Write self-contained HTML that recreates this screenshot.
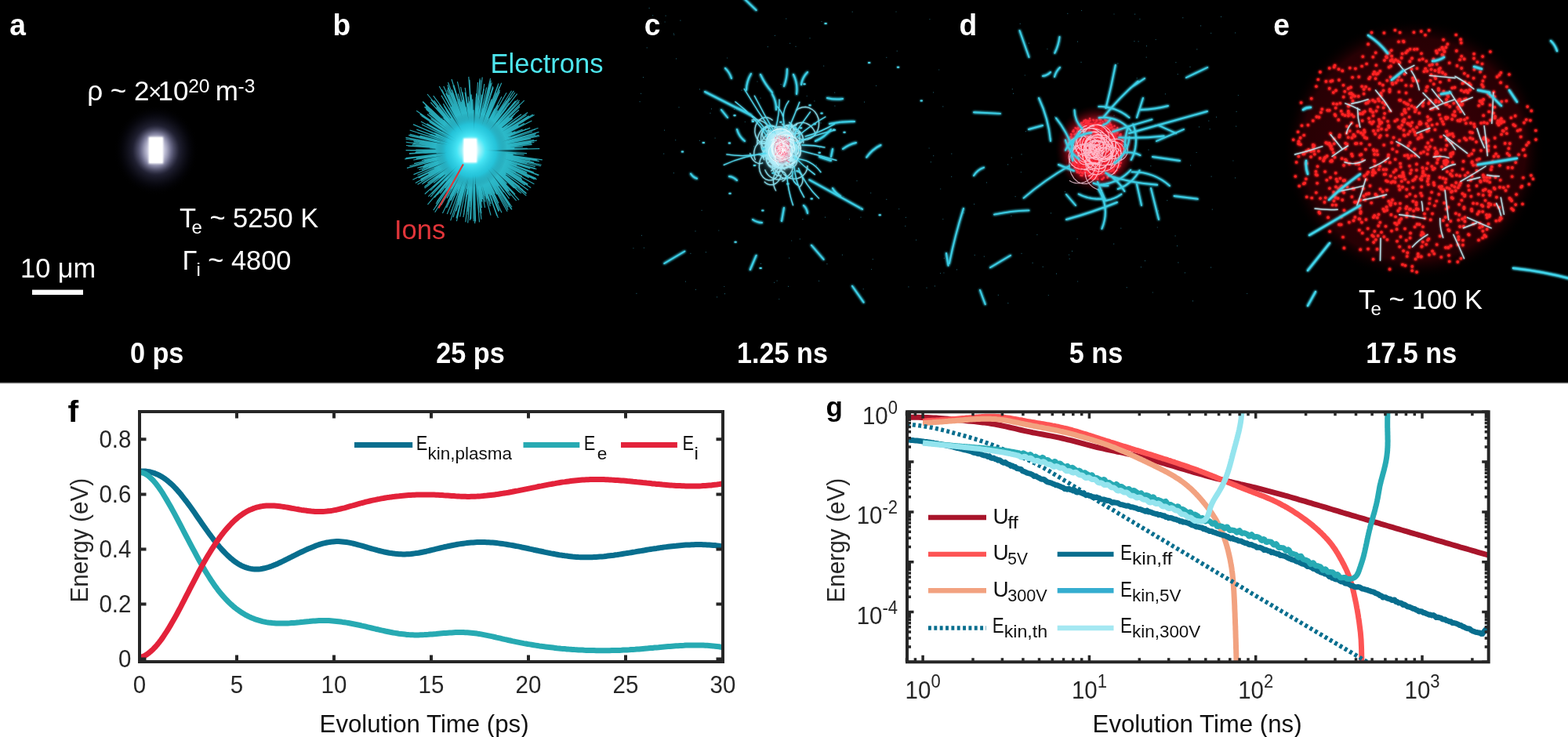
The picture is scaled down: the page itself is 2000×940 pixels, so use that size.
<!DOCTYPE html><html><head><meta charset="utf-8"><title>figure</title>
<style>html,body{margin:0;padding:0;background:#fff;width:2000px;height:940px;overflow:hidden}svg{display:block}text{font-family:'Liberation Sans', Arial, Helvetica, sans-serif}</style></head><body>
<svg width="2000" height="940" viewBox="0 0 2000 940">
<defs><clipPath id="clipg"><rect x="1157" y="525" width="742" height="319.5"/></clipPath></defs>
<rect width="2000" height="940" fill="#fff"/>
<rect x="0" y="0" width="2000" height="488" fill="#000"/>
<rect x="0" y="487.8" width="2000" height="1.2" fill="#858585"/>
<rect x="0" y="489" width="2000" height="1" fill="#e4e4e4"/>
<defs>
<filter id="gl2" filterUnits="userSpaceOnUse" x="0" y="0" width="2000" height="488"><feGaussianBlur in="SourceGraphic" stdDeviation="1.8" result="b"/><feMerge><feMergeNode in="b"/><feMergeNode in="b"/><feMergeNode in="SourceGraphic"/></feMerge></filter>
<filter id="gl1" filterUnits="userSpaceOnUse" x="0" y="0" width="2000" height="488"><feGaussianBlur in="SourceGraphic" stdDeviation="1.2" result="b"/><feMerge><feMergeNode in="b"/><feMergeNode in="SourceGraphic"/></feMerge></filter>
<filter id="bl1" filterUnits="userSpaceOnUse" x="0" y="0" width="2000" height="488"><feGaussianBlur stdDeviation="1"/></filter>
<filter id="bl4" filterUnits="userSpaceOnUse" x="0" y="0" width="2000" height="488"><feGaussianBlur stdDeviation="4"/></filter>
<radialGradient id="ga" cx="0.5" cy="0.5" r="0.5"><stop offset="0" stop-color="#ffffff"/><stop offset="0.2" stop-color="#cacae2"/><stop offset="0.36" stop-color="#76769a" stop-opacity="0.95"/><stop offset="0.55" stop-color="#2c2c44" stop-opacity="0.8"/><stop offset="0.8" stop-color="#0c0c18" stop-opacity="0.5"/><stop offset="1" stop-color="#000" stop-opacity="0"/></radialGradient>
<radialGradient id="gb" cx="0.5" cy="0.5" r="0.5"><stop offset="0" stop-color="#ffffff"/><stop offset="0.18" stop-color="#d0fcff"/><stop offset="0.4" stop-color="#48eafa" stop-opacity="0.95"/><stop offset="0.7" stop-color="#18c0dc" stop-opacity="0.55"/><stop offset="1" stop-color="#0a4050" stop-opacity="0"/></radialGradient>
<radialGradient id="gcc" cx="0.5" cy="0.5" r="0.5"><stop offset="0" stop-color="#fff4f8"/><stop offset="0.45" stop-color="#ffc8d8" stop-opacity="0.95"/><stop offset="0.75" stop-color="#e87898" stop-opacity="0.6"/><stop offset="1" stop-color="#601830" stop-opacity="0"/></radialGradient>
<radialGradient id="gch" cx="0.5" cy="0.5" r="0.5"><stop offset="0" stop-color="#e0f8ff" stop-opacity="0.9"/><stop offset="0.35" stop-color="#80d8ec" stop-opacity="0.5"/><stop offset="0.7" stop-color="#206878" stop-opacity="0.2"/><stop offset="1" stop-color="#000" stop-opacity="0"/></radialGradient>
<radialGradient id="gdc" cx="0.5" cy="0.5" r="0.5"><stop offset="0" stop-color="#ff3048" stop-opacity="1"/><stop offset="0.6" stop-color="#f01830" stop-opacity="0.9"/><stop offset="0.8" stop-color="#a00818" stop-opacity="0.45"/><stop offset="1" stop-color="#300000" stop-opacity="0"/></radialGradient>
<radialGradient id="ge" cx="0.5" cy="0.5" r="0.5"><stop offset="0" stop-color="#400008" stop-opacity="1"/><stop offset="0.85" stop-color="#2c0004" stop-opacity="0.9"/><stop offset="1" stop-color="#000" stop-opacity="0"/></radialGradient>
</defs>
<ellipse cx="199" cy="191.5" rx="54" ry="58" fill="url(#ga)" opacity="0.9"/>
<rect x="186" y="171" width="26" height="41" rx="8" fill="#d8d8f0" opacity="0.55" filter="url(#bl4)"/>
<rect x="189.6" y="174.6" width="18.6" height="34" fill="#fff" filter="url(#bl1)"/>
<rect x="190.6" y="175.6" width="16.6" height="32" fill="#fff"/>
<ellipse cx="603" cy="191.5" rx="72" ry="76" fill="url(#gb)" opacity="0.6"/>
<path d="M610.6,188.9 L676.2,163.1 M608.8,186.0 L660.5,127.2 M601.6,192.0 L540.3,203.9 M600.0,185.6 L566.6,135.5 M611.3,179.5 L634.7,140.9 M604.3,202.0 L606.1,262.0 M589.5,189.8 L517.8,181.2 M598.8,191.8 L522.0,195.9 M608.3,201.0 L636.0,262.5 M614.8,194.0 L652.8,203.0 M602.9,189.3 L569.8,120.1 M598.2,181.5 L572.4,137.4 M592.1,195.2 L551.4,208.0 M595.0,192.9 L533.3,202.4 M613.7,199.5 L671.5,247.3 M613.8,196.0 L651.0,213.0 M614.5,191.0 L656.3,189.1 M598.0,186.4 L549.1,145.1 M609.9,187.1 L646.7,159.5 M614.9,193.9 L690.6,210.2 M596.4,200.9 L568.5,235.6 M610.5,195.1 L681.4,234.8 M618.6,193.7 L685.3,203.9 M600.7,205.5 L593.9,234.2 M597.9,179.6 L575.7,136.3 M605.3,195.5 L626.2,260.3 M597.6,204.4 L569.9,260.8 M598.0,204.8 L575.2,255.7 M599.5,175.6 L585.6,126.2 M607.5,193.8 L677.2,239.5 M616.0,198.7 L652.7,220.9 M608.8,202.1 L639.9,271.3 M613.0,198.7 L662.9,238.2 M597.4,193.9 L534.3,216.5 M608.7,188.7 L669.9,151.7 M597.4,189.2 L547.7,171.8 M605.5,187.3 L627.1,126.4 M598.3,192.8 L535.0,207.1 M604.1,198.9 L604.7,254.5 M606.1,193.0 L645.6,220.5 M612.6,183.5 L649.4,149.5 M607.5,194.5 L646.8,228.2 M598.3,190.1 L522.7,171.1 M603.1,197.2 L593.5,258.9 M605.7,189.8 L662.7,133.4 M594.6,183.5 L543.4,139.3 M605.1,181.7 L610.2,134.7 M602.1,189.1 L565.8,144.2 M601.5,178.3 L593.9,137.0 M598.9,186.8 L542.5,134.3 M599.2,195.6 L567.6,222.6 M591.4,192.1 L522.1,195.6 M608.4,184.4 L629.2,150.8 M596.4,195.2 L526.4,229.2 M592.1,193.3 L536.4,201.6 M609.7,188.6 L678.4,154.0 M607.9,207.9 L618.0,250.4 M600.0,194.3 L547.2,231.7 M598.9,184.7 L572.1,149.1 M601.1,192.9 L554.8,215.0 M600.3,203.2 L583.9,255.5 M606.8,190.3 L657.3,167.8 M598.8,194.1 L533.8,227.1 M603.5,182.0 L601.0,134.7 M593.9,184.0 L567.8,164.7 M603.3,199.4 L597.0,273.7 M603.3,207.4 L600.0,279.4 M604.0,201.4 L604.1,282.2 M603.2,194.9 L583.1,279.2 M609.3,191.8 L658.4,195.1 M604.0,206.4 L603.9,256.9 M610.3,194.6 L666.2,222.3 M614.7,196.4 L673.5,223.2 M594.2,186.2 L564.7,170.1 M599.9,186.0 L552.7,122.2 M611.1,178.0 L639.9,123.2 M599.8,190.9 L535.1,182.5 M609.9,179.9 L631.1,138.8 M599.5,177.6 L583.7,129.3 M610.1,188.7 L653.2,168.5 M612.4,198.5 L659.4,237.6 M602.6,188.1 L571.5,111.4 M595.7,204.1 L569.4,244.1 M593.2,181.1 L563.2,152.4 M611.3,193.2 L646.3,201.6 M613.5,205.1 L636.0,237.3 M609.7,193.9 L663.0,217.0 M606.4,193.6 L671.3,249.6 M608.0,193.5 L674.7,226.7 M603.4,195.3 L594.5,251.3 M593.2,181.1 L549.4,139.0 M608.9,196.7 L640.7,230.7 M607.1,205.2 L618.2,253.9 M598.7,190.5 L522.7,176.7 M618.8,185.2 L666.6,165.0 M596.2,199.9 L549.0,251.2 M594.9,190.8 L528.5,185.9 M600.7,204.6 L582.0,278.3 M600.9,176.4 L590.6,127.1 M604.9,181.4 L612.1,100.2 M598.1,199.8 L557.1,257.7 M617.7,185.2 L639.8,175.1 M606.3,182.6 L625.8,105.9 M613.1,192.9 L685.1,203.6 M602.8,186.5 L587.9,122.9 M611.6,197.8 L648.4,228.6 M595.4,194.1 L541.2,210.5 M597.7,199.9 L567.8,239.9 M617.5,197.9 L637.7,207.5 M599.3,198.2 L570.1,239.3 M602.3,193.9 L556.1,259.9 M593.5,191.7 L530.3,193.2 M595.3,180.0 L567.9,143.7 M592.9,195.3 L539.4,213.6 M604.1,195.1 L605.7,285.0 M598.5,194.9 L532.6,235.3 M603.5,204.4 L601.7,252.3 M609.8,181.4 L646.1,118.3 M607.0,192.6 L665.0,214.9 M600.7,177.4 L583.4,104.2 M608.6,206.4 L617.9,236.8 M607.8,195.6 L657.1,247.8 M595.9,186.1 L535.6,145.7 M616.2,188.3 L682.9,171.0 M600.5,194.8 L564.4,228.7 M590.3,191.2 L555.5,190.6 M614.5,184.9 L652.2,161.5 M599.9,176.8 L590.6,143.7 M607.0,193.1 L666.0,225.1 M599.7,194.6 L564.6,220.1 M600.4,191.9 L517.5,201.6 M608.4,192.6 L671.8,208.8 M607.0,192.2 L656.6,204.0 M599.5,186.0 L545.0,120.0 M598.1,179.4 L568.6,118.9 M611.3,199.4 L641.4,232.1 M589.6,189.1 L560.3,184.4 M615.6,187.5 L686.5,163.3 M600.2,178.6 L589.4,142.2 M609.6,189.9 L687.5,168.4 M603.4,185.6 L597.2,123.3 M612.1,200.0 L645.5,235.0 M597.3,185.2 L560.5,150.9 M591.8,193.4 L555.5,199.1 M614.7,189.4 L677.2,177.0 M599.2,194.3 L548.1,224.4 M598.7,191.8 L521.9,196.2 M607.5,197.0 L630.8,232.9 M607.7,195.4 L645.1,235.9 M617.5,183.4 L679.8,146.1 M611.7,197.7 L667.2,242.4 M613.0,201.8 L649.5,243.7 M610.1,192.7 L681.2,207.1 M606.4,208.0 L614.5,265.1 M611.2,184.4 L648.7,147.2 M604.9,194.0 L635.4,277.9 M603.7,189.2 L596.9,131.5 M603.6,201.4 L600.7,279.6 M600.4,198.8 L571.3,257.0 M601.6,189.1 L565.8,153.1 M600.0,181.0 L571.5,105.0 M589.9,192.6 L556.6,195.1 M609.3,188.9 L651.7,167.8 M606.2,188.9 L647.2,142.1 M608.3,203.1 L628.2,256.7 M610.1,195.6 L669.7,236.3 M603.8,174.8 L603.6,153.3 M613.7,195.9 L683.8,227.5 M604.7,194.0 L625.3,263.2 M608.2,181.4 L628.8,132.1 M590.4,198.1 L547.7,218.8 M598.5,199.7 L555.9,263.0 M605.7,198.9 L618.9,257.5 M612.2,189.4 L683.7,170.8 M597.8,191.1 L556.7,188.2 M607.3,195.1 L662.0,255.2 M609.6,201.6 L640.5,257.5 M611.5,179.7 L652.6,115.7 M610.8,193.1 L689.9,211.8 M602.0,194.8 L563.0,258.7 M598.1,188.6 L538.1,158.7 M611.2,190.8 L651.7,187.2 M599.9,191.5 L517.6,191.6 M608.5,188.9 L641.9,169.5 M616.1,185.2 L651.9,166.5 M613.6,189.9 L651.9,183.5 M599.5,194.1 L555.2,219.4 M593.6,188.3 L532.8,169.5 M592.4,188.8 L521.1,172.2 M611.2,186.2 L647.3,159.7 M606.9,201.8 L621.4,253.3 M607.1,179.1 L622.7,116.6 M606.5,194.3 L647.9,240.3 M616.2,189.4 L681.2,178.5 M613.7,184.3 L665.0,145.8 M605.7,202.8 L613.9,257.7 M609.9,193.7 L687.5,223.4 M599.9,194.9 L553.2,233.4 M600.6,195.9 L561.5,246.7 M598.1,194.4 L551.3,217.3 M619.8,193.0 L668.6,197.5 M606.3,188.1 L655.4,115.9 M608.1,201.8 L626.7,249.0 M599.2,199.3 L575.7,238.1 M607.4,191.4 L688.3,189.6 M615.1,198.5 L651.2,221.0 M594.1,190.8 L518.0,185.5 M608.9,194.4 L655.1,221.4 M597.9,190.0 L552.9,179.0 M598.2,206.5 L583.0,246.2 M603.6,198.9 L600.0,264.0 M609.9,197.4 L646.6,234.2 M595.2,191.9 L529.4,194.5 M601.5,191.5 L525.2,191.9 M599.8,185.9 L579.7,158.7 M616.2,197.5 L669.9,224.2 M603.3,198.8 L598.0,250.2 M596.8,184.6 L539.2,129.5 M600.2,183.1 L571.8,121.2 M606.4,193.0 L666.0,228.9 M606.2,178.4 L617.3,113.3 M610.0,185.8 L663.1,135.6 M603.3,195.8 L591.7,270.8 M604.7,177.3 L607.3,124.1 M600.1,181.3 L575.8,118.0 M592.9,197.1 L565.6,210.9 M617.1,199.2 L665.0,227.4 M612.1,189.8 L661.9,178.9 M609.6,204.6 L624.3,238.7 M601.7,185.6 L586.1,146.5 M604.5,198.1 L611.5,283.4 M611.4,189.7 L682.6,172.6 M606.7,184.9 L632.1,122.6 M606.5,182.4 L624.5,117.3 M594.5,182.4 L539.3,129.8 M613.5,193.7 L655.8,203.6 M598.7,204.2 L575.3,260.7 M616.7,191.2 L685.6,189.7 M591.0,198.6 L536.3,228.6 M598.0,201.6 L581.0,230.3 M600.4,191.3 L548.2,188.6 M595.0,183.8 L553.8,148.6 M597.7,196.4 L544.8,237.8 M604.4,185.6 L609.4,105.0 M598.8,183.8 L573.3,146.1 M615.4,195.9 L686.8,223.8 M598.7,181.3 L563.5,114.2 M597.0,186.3 L549.6,151.2 M615.3,185.1 L657.4,161.2 M600.5,192.4 L524.8,212.9 M593.8,189.8 L517.6,177.2 M590.3,189.5 L553.4,184.2 M606.9,206.9 L613.1,239.8 M608.3,192.6 L669.0,208.2 M618.4,198.7 L648.6,213.8 M614.5,200.0 L671.2,246.3 M603.0,189.5 L566.4,120.0 M594.1,182.2 L562.2,152.0 M609.2,202.5 L636.1,259.3 M602.7,189.0 L579.7,146.1 M613.1,190.0 L671.6,180.7 M608.4,185.2 L650.2,124.8 M596.2,202.6 L575.3,232.3 M611.3,180.8 L637.1,143.0 M606.5,188.1 L638.4,145.5 M606.1,178.8 L617.8,107.0 M596.7,203.4 L570.7,245.9 M606.4,192.0 L665.8,204.3 M601.3,201.0 L581.8,269.3 M602.6,205.5 L595.9,270.0 M596.0,187.0 L544.5,157.7 M588.8,194.6 L543.2,203.7 M593.7,190.4 L526.7,183.3 M598.8,179.6 L570.2,114.6 M595.5,203.6 L565.3,246.5 M601.5,179.4 L587.6,111.0 M601.6,193.2 L555.8,226.1 M614.5,182.6 L653.4,149.5 M595.5,197.1 L538.3,234.8 M610.6,190.4 L655.5,182.9 M601.1,188.2 L556.6,136.6 M612.8,197.0 L673.4,235.1 M604.7,187.2 L617.0,114.0 M611.9,198.3 L652.4,233.1 M602.6,187.7 L577.5,118.4 M602.9,189.2 L584.3,148.5 M612.8,182.0 L655.1,136.2 M603.5,203.3 L600.8,261.6 M604.0,177.9 L604.0,140.2 M601.1,176.3 L589.8,117.4 M606.7,193.9 L664.8,246.6 M617.4,188.4 L687.4,172.2 M607.6,186.2 L627.7,156.2 M610.5,185.8 L661.9,140.3 M606.6,189.7 L673.1,143.5 M604.2,200.0 L606.6,282.4 M600.9,180.0 L584.3,119.5 M609.3,188.3 L667.9,153.2 M602.3,189.0 L569.5,140.9 M605.1,186.2 L620.6,111.5 M613.3,182.8 L662.9,136.0 M605.4,193.7 L650.3,261.7 M601.4,186.7 L560.3,110.0 M591.8,182.0 L545.1,145.8 M605.3,195.3 L621.9,242.7 M609.3,201.4 L633.9,247.9 M600.6,199.1 L578.1,249.9 M610.0,188.0 L669.8,153.6 M602.5,197.8 L582.4,282.2 M610.7,182.2 L656.9,118.0 M606.2,184.3 L628.6,110.1 M610.6,197.1 L634.4,217.2 M599.6,200.4 L564.5,271.9 M601.6,187.0 L574.5,137.0 M595.5,204.3 L552.8,268.1 M609.3,194.0 L652.4,214.3 M608.9,203.0 L636.9,268.8 M609.0,191.2 L652.5,188.6 M590.9,189.3 L548.7,182.1 M618.2,196.1 L676.3,215.1 M606.7,188.0 L659.6,119.7 M595.9,195.1 L532.5,223.6 M601.5,189.2 L553.9,146.7 M596.4,190.1 L517.5,175.4 M603.4,195.2 L590.9,277.0 M606.5,192.3 L680.5,214.9 M594.2,194.9 L546.2,211.5 M600.8,188.8 L561.9,155.7 M611.4,193.2 L673.3,207.8 M610.8,189.2 L682.9,164.9 M619.0,190.0 L652.5,186.5 M608.8,192.2 L691.8,203.9 M601.7,202.9 L586.7,276.5 M595.8,204.5 L576.3,235.5 M609.3,206.5 L633.9,275.2 M598.7,188.1 L547.6,155.4 M598.6,200.2 L554.7,270.8 M591.4,191.5 L523.1,191.8 M597.9,191.1 L520.4,186.2 M601.1,196.4 L580.3,231.3 M606.6,188.9 L668.7,128.1 M606.3,205.8 L614.8,257.4 M610.8,186.8 L658.5,153.7 M608.5,186.2 L633.7,156.4 M588.8,194.9 L528.1,208.6 M616.7,201.6 L659.3,235.4 M604.0,207.8 L603.9,279.0 M605.4,181.7 L614.4,120.6 M605.4,188.3 L633.8,125.3 M607.6,191.0 L677.4,181.5 M598.8,193.2 L553.8,207.5 M602.7,207.5 L596.7,284.4 M601.2,190.0 L552.8,163.5 M601.2,182.7 L577.9,108.9 M610.9,188.0 L675.7,155.2 M604.5,202.6 L605.8,235.0 M604.8,193.5 L636.0,269.9 M595.0,198.2 L541.9,237.8 M604.8,197.9 L614.0,272.2 M618.6,196.0 L682.0,215.4 M606.4,187.0 L635.3,134.1 M598.2,190.2 L522.4,173.2 M594.0,190.3 L518.6,181.5 M600.6,192.1 L527.2,204.0 M613.6,187.8 L663.0,168.5 M594.0,189.9 L527.3,179.5 M591.6,199.7 L551.7,226.1 M602.1,196.2 L570.3,273.0 M600.1,186.6 L553.5,128.1 M592.6,202.0 L553.5,238.1 M613.7,185.1 L671.6,146.5 M607.7,196.6 L642.8,245.1 M595.6,203.1 L575.5,230.6 M615.1,181.8 L656.9,145.4 M603.9,187.2 L602.7,126.4 M607.4,190.0 L662.2,166.7 M600.9,190.5 L522.7,166.0 M591.4,190.0 L535.7,183.4 M594.2,183.3 L549.8,145.9 M606.0,187.3 L623.3,150.8 M601.3,188.3 L549.9,127.1 M595.5,179.5 L575.2,150.6 M595.3,178.4 L578.4,153.0 M610.1,176.5 L637.1,110.8 M617.9,183.4 L681.6,146.4 M609.9,195.0 L652.0,219.9 M600.9,197.5 L573.7,250.8 M604.9,202.3 L611.0,271.4 M601.1,190.8 L528.2,174.5 M610.6,184.4 L662.6,127.9 M602.7,187.1 L578.9,108.5 M606.4,177.7 L611.1,151.1 M607.8,190.1 L648.5,174.8 M590.0,186.3 L563.2,176.3 M610.3,205.3 L631.6,252.2 M597.0,203.3 L562.7,261.8 M591.5,189.8 L527.6,180.9 M608.4,189.1 L661.3,160.0 M606.1,200.5 L615.0,238.0 M605.1,193.3 L644.9,254.9 M601.0,201.3 L588.3,241.8 M614.7,201.3 L646.3,230.4 M614.2,194.1 L659.7,205.6 M601.4,184.8 L584.2,141.2 M598.1,179.1 L577.3,135.3 M588.2,191.4 L530.4,191.0 M607.8,179.0 L628.4,110.8 M600.2,182.3 L571.1,112.2 M597.7,197.3 L562.0,230.1 M618.5,195.8 L682.7,214.7 M605.5,197.2 L626.0,274.7 M605.1,197.6 L612.6,237.3 M609.4,184.3 L649.4,131.3 M602.1,176.5 L597.5,140.9 M611.1,206.4 L626.9,239.9 M596.3,184.5 L542.7,136.3 M602.1,205.7 L596.3,248.1 M609.0,202.0 L633.0,253.0 M617.2,187.0 L660.2,172.3 M607.1,183.3 L635.9,106.5 M600.6,196.6 L556.3,263.1 M595.5,194.7 L538.0,216.7 M596.4,192.5 L532.7,200.8 M601.0,195.2 L557.9,248.4 M605.0,187.5 L625.6,99.8 M609.2,194.9 L657.7,227.3 M604.8,182.1 L609.9,121.7 M608.5,195.6 L661.4,243.8 M592.3,196.3 L527.5,222.6 M599.3,180.2 L579.1,131.7 M601.9,193.5 L548.9,243.1 M600.4,195.2 L561.7,234.7 M616.5,197.5 L659.1,217.9 M618.9,190.1 L678.7,184.4 M612.0,179.6 L646.2,128.6 M618.3,196.8 L648.5,208.1 M608.7,207.1 L623.8,256.6 M616.8,197.0 L672.4,220.9 M591.5,190.4 L541.6,185.8 M614.8,195.7 L663.7,214.7 M610.0,198.9 L650.1,248.8 M608.8,190.2 L683.2,169.5 M591.7,195.9 L541.5,213.8 M605.4,188.4 L637.5,114.7 M612.4,188.5 L651.2,174.7 M597.7,192.8 L537.8,204.8 M611.1,180.5 L642.3,132.0 M600.9,187.4 L560.3,133.4 M604.3,188.3 L610.2,120.5 M589.0,194.5 L541.3,204.1 M599.6,205.0 L574.7,281.4 M594.8,195.0 L547.5,212.9 M597.1,206.3 L569.5,265.1 M600.3,182.6 L571.6,113.3 M593.1,195.6 L555.0,209.9 M594.5,196.3 L569.4,209.2 M589.7,187.8 L534.9,173.8 M594.6,187.4 L554.1,169.6 M591.3,194.1 L542.5,204.3 M606.1,189.7 L649.6,152.1 M617.1,183.4 L674.6,147.8 M601.6,194.4 L554.2,252.1 M605.7,186.0 L629.3,111.3 M610.7,199.6 L647.4,244.4 M603.2,179.5 L597.8,97.9 M594.4,195.9 L553.9,214.4 M612.5,205.5 L648.3,264.4 M604.9,188.2 L625.8,107.2 M605.0,197.0 L615.2,253.1 M617.8,189.4 L684.8,179.1 M594.4,192.1 L542.6,195.1 M601.1,193.6 L541.2,238.6 M589.0,195.6 L548.3,206.6 M592.6,200.7 L564.5,223.1 M593.6,179.9 L549.3,130.5 M600.6,193.2 L529.8,227.4 M603.3,188.4 L590.2,127.7 M597.6,193.6 L535.7,213.7 M599.7,192.1 L544.7,199.4 M608.4,193.6 L681.8,228.7 M607.5,178.8 L620.1,132.9 M609.5,177.0 L635.4,109.1 M611.8,198.1 L655.4,234.9 M608.0,196.5 L649.4,248.3 M594.5,193.7 L536.4,206.9 M602.8,188.5 L571.0,108.8 M614.5,195.2 L659.2,211.1 M610.8,187.7 L661.4,158.8 M613.5,186.4 L668.8,157.2 M609.6,200.2 L653.0,267.4 M603.2,207.1 L599.5,281.0 M613.0,193.3 L679.0,206.6 M606.8,203.5 L613.8,232.8 M611.6,192.8 L687.8,205.6 M608.6,196.9 L658.6,256.0 M602.9,195.1 L583.7,258.1 M610.8,197.2 L668.9,245.3 M605.8,184.3 L626.3,102.6 M612.4,195.3 L673.3,222.8 M607.3,187.3 L645.9,138.0 M599.8,195.3 L541.8,247.5 M600.2,191.4 L555.4,189.8 M606.5,192.8 L657.8,220.0 M605.7,194.0 L636.6,240.3 M596.8,203.9 L575.5,240.8 M601.0,191.0 L540.5,181.3 M604.4,187.3 L607.8,146.9 M608.5,194.2 L643.2,215.3 M597.3,189.0 L549.8,171.4 M602.5,205.5 L594.0,282.1 M610.9,205.0 L621.5,225.7 M602.7,181.7 L593.2,111.8 M600.4,181.3 L576.6,114.4 M600.6,191.3 L550.9,188.9 M589.2,191.5 L539.6,191.4 M606.5,182.5 L627.4,105.4 M615.8,192.2 L672.0,195.6 M610.4,196.2 L673.7,242.5 M602.2,184.5 L588.4,129.6 M594.3,199.3 L560.3,226.5 M604.3,207.6 L605.2,255.8 M594.0,181.7 L562.8,151.1 M599.6,189.1 L536.9,155.0 M606.3,195.1 L651.9,266.5 M605.2,186.7 L613.9,152.1 M618.9,188.3 L652.5,181.1 M616.1,199.3 L644.9,217.8 M602.8,202.7 L593.8,283.2 M590.4,184.1 L551.4,162.9 M607.6,197.7 L638.2,250.2 M602.3,187.0 L576.9,121.2 M591.2,193.4 L530.8,202.3 M597.7,200.9 L568.6,244.4 M590.2,198.0 L556.3,214.0 M593.6,188.7 L535.9,173.0 M597.1,196.0 L539.9,233.2 M613.8,180.0 L657.6,128.7 M606.6,176.0 L615.6,122.5 M602.9,187.8 L576.0,101.0 M599.0,205.3 L574.4,273.5 M619.7,190.4 L666.9,187.2 M603.7,194.4 L595.8,269.8 M595.0,181.2 L574.4,157.9 M608.2,182.2 L637.3,117.0 M611.5,187.4 L655.8,163.1 M599.2,178.8 L578.2,124.1 M589.3,190.2 L525.5,184.6 M603.3,199.7 L600.1,239.6 M599.8,197.7 L570.9,239.6 M614.2,202.6 L654.3,246.1 M602.3,196.0 L583.2,247.8 M606.0,194.9 L648.1,267.6 M605.1,182.6 L615.2,98.5 M614.3,200.8 L659.8,241.9 M609.1,196.2 L655.8,239.9 M596.3,193.9 L532.4,214.3 M600.0,196.5 L559.3,246.9 M602.9,198.1 L595.6,241.1 M605.6,200.3 L615.4,254.0 M596.8,180.6 L565.3,132.4 M591.4,186.1 L527.0,158.6 M599.8,186.8 L575.3,159.2 M596.7,184.6 L539.2,130.0 M619.4,195.4 L658.8,205.3 M605.1,180.4 L612.8,102.3 M595.2,178.6 L582.4,159.9 M602.0,187.0 L584.6,146.8 M600.3,187.9 L559.2,148.8 M602.5,193.9 L563.0,257.2 M601.1,194.2 L552.6,239.2 M602.0,177.1 L597.1,140.5 M613.5,186.2 L650.3,165.6 M607.6,183.0 L626.6,138.4 M618.6,186.9 L679.2,168.0 M607.9,191.0 L677.8,182.9 M610.9,193.6 L684.4,215.7 M607.4,192.3 L684.9,210.5 M596.4,199.3 L577.2,219.0 M602.3,196.0 L584.6,241.3 M595.8,189.6 L539.8,176.8 M613.6,194.0 L682.9,212.4 M617.3,193.9 L676.1,204.4 M611.3,187.2 L669.2,153.2 M612.4,193.7 L669.7,208.3 M613.0,198.1 L671.2,240.8 M615.6,194.5 L673.2,209.6 M615.5,185.9 L645.9,170.9 M603.5,186.1 L598.5,129.2 M608.7,195.7 L645.6,228.4 M609.6,190.1 L648.2,180.7 M612.6,196.3 L647.0,215.5 M617.7,183.6 L668.1,154.8 M601.8,184.7 L581.1,119.9 M599.6,194.0 L529.9,233.6 M599.4,187.7 L555.2,151.3 M606.2,192.3 L680.9,219.8 M611.1,190.6 L681.4,181.5 M601.2,193.7 L541.6,240.1 M602.1,198.5 L584.8,261.6 M609.8,190.8 L660.9,184.2 M607.2,196.3 L653.0,264.2 M600.2,204.0 L578.1,277.1 M598.0,186.9 L548.4,148.6 M594.5,188.1 L531.3,165.1 M608.9,203.9 L624.7,243.5 M608.7,192.7 L662.1,206.4 M608.4,192.9 L668.6,212.8 M601.9,205.3 L591.6,274.4 M591.3,183.0 L558.9,161.4 M599.4,186.6 L565.5,149.8 M596.8,186.8 L537.6,147.8 M610.6,194.3 L671.7,219.9 M607.2,176.5 L615.4,137.7 M603.3,179.6 L598.9,101.8 M607.5,188.7 L640.5,162.7 M605.5,204.8 L609.2,236.2 M611.8,196.5 L673.0,236.1 M615.3,201.9 L662.7,245.4 M596.9,189.0 L565.4,178.0 M604.3,194.3 L614.0,279.8 M608.7,197.4 L651.1,249.9 M609.6,178.6 L631.5,128.7 M607.2,198.1 L631.2,247.1 M594.6,197.0 L537.0,230.7 M610.2,180.7 L641.6,126.0 M594.2,201.6 L546.4,250.7 M600.3,195.6 L568.6,230.7 M615.0,191.1 L672.5,189.3 M597.2,180.0 L562.9,121.6 M609.2,196.2 L658.5,240.3 M611.9,197.9 L667.1,242.7 M619.0,195.5 L666.7,208.1 M601.2,193.5 L565.2,219.2 M611.0,204.2 L643.8,263.9 M598.4,177.3 L570.8,108.2 M600.6,184.2 L565.8,110.1 M604.7,177.8 L607.7,119.2 M599.6,197.9 L572.5,236.5 M599.9,189.8 L555.7,171.8 M606.3,189.6 L653.6,150.9 M599.6,193.9 L546.1,223.4 M607.6,201.2 L624.9,247.1 M606.1,202.2 L618.6,264.8 M595.7,201.6 L555.8,249.8 M603.6,180.0 L601.2,120.4 M605.9,189.5 L662.3,130.3 M601.0,174.9 L594.1,136.3 M603.1,197.4 L595.2,251.0 M603.2,205.8 L600.7,251.1 M609.2,203.0 L631.6,252.6 M598.6,197.2 L550.6,247.1 M607.1,184.1 L639.7,105.7 M594.3,184.8 L531.2,141.3 M614.8,187.2 L671.0,164.9 M614.1,189.3 L688.2,173.5 M601.5,193.4 L558.0,226.5 M602.5,193.6 L557.9,256.4 M611.0,194.8 L684.6,229.0 M612.0,201.5 L641.9,239.0 M601.8,200.0 L587.3,256.2 M612.7,203.3 L649.6,253.4 M603.6,198.8 L600.1,256.9 M599.7,199.3 L570.0,252.9 M592.4,199.8 L545.3,233.3 M590.6,198.6 L546.4,221.9 M599.5,196.9 L545.5,260.9 M595.7,194.7 L547.0,213.4 M612.6,201.3 L638.6,230.8 M601.3,202.5 L583.2,277.0 M606.5,198.9 L622.8,247.7 M608.8,191.4 L673.2,189.9 M612.7,196.3 L667.4,226.7 M595.5,178.8 L568.6,139.0 M595.5,181.3 L577.5,159.5 M601.1,175.3 L596.3,149.0 M609.1,191.4 L647.1,190.4 M614.9,189.1 L673.8,176.3 M601.5,174.8 L593.1,117.7 M612.7,184.0 L654.9,147.9 M606.4,198.0 L621.8,240.4 M603.1,194.2 L583.8,252.9 M605.1,188.7 L633.3,118.5 M593.5,182.2 L541.4,136.3 M600.8,192.3 L522.4,211.8 M619.0,189.9 L661.3,185.3 M614.0,184.9 L665.8,150.6 M606.2,193.2 L645.1,223.0 M598.0,194.2 L542.4,219.3 M598.9,192.9 L519.0,214.4 M597.7,183.9 L565.0,144.5 M604.7,197.0 L611.3,246.9 M588.8,193.8 L531.8,202.5 M607.6,191.9 L654.6,197.4 M593.4,188.9 L539.2,175.5 M591.9,184.5 L563.8,168.3 M608.6,193.7 L674.4,225.2 M606.7,196.5 L647.1,269.8 M604.1,199.9 L605.3,268.0 M593.4,182.7 L547.0,144.2 M599.0,192.2 L516.3,202.9" stroke="#38e2f4" stroke-width="1.15" stroke-opacity="0.72" fill="none"/>
<ellipse cx="601" cy="191.5" rx="46" ry="48" fill="url(#gb)" opacity="0.9"/>
<rect x="591" y="176.4" width="17.4" height="31.1" fill="#fff" filter="url(#bl1)"/>
<rect x="592" y="177.4" width="15.4" height="29.1" fill="#fff"/>
<path d="M590.9,209.5 L559.4,265.5" stroke="#e03535" stroke-width="2" fill="none"/>
<ellipse cx="997" cy="190" rx="46" ry="50" fill="url(#gch)"/>
<g filter="url(#gl1)"><path d="M968.4,184.0 L970.7,183.2 L973.0,182.8 L975.5,182.7 L977.9,182.9 L980.2,183.6 L982.4,184.5 L984.5,185.8 L986.4,187.4 L988.1,189.2 L989.5,191.3 L990.6,193.6 L991.4,196.0 L991.8,198.5 L992.0,201.0 L991.7,203.5 L991.2,206.0 L990.3,208.4 L989.1,210.6 M1009.3,172.3 L1009.8,173.5 L1010.1,174.9 L1010.3,176.3 L1010.3,177.7 L1010.2,179.1 L1009.9,180.5 L1009.5,181.8 L1009.0,183.0 L1008.3,184.1 L1007.5,185.0 L1006.6,185.8 L1005.6,186.4 L1004.6,186.8 L1003.5,187.0 L1002.5,187.1 L1001.4,186.9 L1000.4,186.5 L999.4,185.9 M981.8,195.5 L981.7,193.9 L981.9,192.4 L982.1,190.9 L982.6,189.4 L983.2,188.0 L983.9,186.7 L984.8,185.4 L985.8,184.3 L986.9,183.3 L988.1,182.5 L989.4,181.8 L990.8,181.2 L992.2,180.8 L993.7,180.6 L995.1,180.6 L996.6,180.7 L998.0,181.0 L999.4,181.5 M992.8,178.9 L994.1,178.7 L995.3,178.7 L996.6,179.0 L997.8,179.7 L998.8,180.6 L999.6,181.7 L1000.1,183.0 L1000.4,184.3 L1000.4,185.8 L1000.2,187.1 L999.6,188.4 L998.9,189.6 L997.9,190.5 L996.7,191.2 L995.5,191.5 L994.2,191.6 L992.9,191.4 L991.7,190.8 M983.0,185.0 L983.5,183.7 L984.1,182.5 L984.9,181.5 L985.9,180.5 L987.0,179.8 L988.2,179.2 L989.5,178.8 L990.8,178.6 L992.2,178.7 L993.5,178.9 L994.7,179.4 L995.9,180.1 L997.0,180.9 L997.9,181.9 L998.6,183.0 L999.2,184.3 L999.6,185.6 L999.7,187.0 M1003.2,194.8 L1001.4,194.6 L999.7,193.8 L998.2,192.5 L997.1,190.8 L996.5,188.8 L996.3,186.7 L996.7,184.6 L997.5,182.7 L998.8,181.1 L1000.4,180.0 L1002.1,179.4 L1004.0,179.4 L1005.8,180.0 L1007.4,181.1 L1008.6,182.7 L1009.5,184.6 L1009.8,186.6 L1009.7,188.7 M982.6,181.6 L982.8,181.2 L983.0,180.9 L983.3,180.5 L983.6,180.2 L984.0,180.0 L984.4,179.7 L984.8,179.5 L985.3,179.3 L985.8,179.1 L986.3,179.0 L986.8,178.9 L987.4,178.8 L987.9,178.7 L988.5,178.7 L989.0,178.8 L989.5,178.9 L990.1,179.0 L990.6,179.1 M998.6,191.2 L998.5,191.8 L998.3,192.4 L998.0,193.0 L997.7,193.5 L997.4,194.0 L997.0,194.4 L996.6,194.8 L996.1,195.1 L995.6,195.4 L995.1,195.6 L994.6,195.8 L994.0,195.9 L993.5,196.0 L992.9,196.0 L992.4,195.9 L991.8,195.7 L991.3,195.5 L990.8,195.3 M1005.0,212.2 L1002.1,213.5 L999.0,214.2 L995.9,214.2 L992.8,213.6 L989.9,212.4 L987.1,210.6 L984.6,208.3 L982.5,205.5 L980.8,202.3 L979.6,198.8 L978.9,195.2 L978.6,191.4 L978.9,187.6 L979.8,184.0 L981.1,180.5 L982.8,177.4 L985.0,174.7 L987.5,172.4 M992.9,199.6 L993.9,198.2 L995.3,197.0 L997.1,196.2 L999.0,195.7 L1001.0,195.6 L1002.9,196.0 L1004.7,196.7 L1006.2,197.8 L1007.4,199.1 L1008.1,200.7 L1008.4,202.3 L1008.2,204.0 L1007.5,205.5 L1006.4,206.9 L1004.9,208.0 L1003.1,208.8 L1001.2,209.2 L999.2,209.1 M989.8,243.5 L988.8,241.6 L987.9,239.5 L987.2,237.4 L986.7,235.1 L986.5,232.8 L986.4,230.5 L986.6,228.2 L986.9,226.0 L987.5,223.8 L988.2,221.6 L989.2,219.7 L990.3,217.8 L991.6,216.1 L993.0,214.6 L994.6,213.4 L996.2,212.3 L998.0,211.5 L999.8,211.0 M992.0,190.8 L990.9,190.6 L989.9,190.1 L988.9,189.5 L988.0,188.6 L987.2,187.6 L986.5,186.4 L985.9,185.1 L985.5,183.7 L985.3,182.3 L985.2,180.8 L985.2,179.3 L985.5,177.8 L985.8,176.4 L986.3,175.1 L987.0,173.9 L987.8,172.8 L988.6,171.9 L989.6,171.2 M987.2,163.9 L989.4,162.6 L991.7,161.9 L994.1,161.6 L996.4,161.9 L998.7,162.8 L1000.9,164.1 L1002.8,165.8 L1004.5,168.0 L1005.9,170.5 L1007.0,173.3 L1007.7,176.3 L1007.9,179.3 L1007.8,182.4 L1007.3,185.5 L1006.4,188.3 L1005.1,191.0 L1003.5,193.3 L1001.7,195.2 M991.2,201.1 L992.4,200.6 L993.6,200.2 L994.9,200.0 L996.2,199.9 L997.5,200.1 L998.7,200.4 L999.9,200.8 L1001.1,201.5 L1002.2,202.3 L1003.3,203.2 L1004.2,204.3 L1005.1,205.5 L1005.9,206.8 L1006.5,208.2 L1007.0,209.7 L1007.4,211.3 L1007.7,212.9 L1007.8,214.5 M1007.1,182.3 L1008.1,183.2 L1008.8,184.2 L1009.5,185.3 L1010.0,186.4 L1010.3,187.6 L1010.4,188.7 L1010.4,189.9 L1010.2,191.1 L1009.8,192.2 L1009.2,193.3 L1008.5,194.4 L1007.7,195.3 L1006.7,196.2 L1005.6,197.0 L1004.4,197.6 L1003.1,198.2 L1001.8,198.6 L1000.4,198.9 M1017.0,199.9 L1015.0,202.6 L1012.5,204.6 L1009.7,205.7 L1006.8,205.9 L1003.9,205.2 L1001.3,203.5 L999.0,201.1 L997.3,198.0 L996.1,194.5 L995.7,190.7 L996.0,186.9 L997.0,183.3 L998.6,180.1 L1000.7,177.6 L1003.3,175.8 L1006.1,174.8 L1009.0,174.8 L1011.9,175.7 M1029.9,211.3 L1029.7,214.3 L1028.9,217.3 L1027.6,220.0 L1025.8,222.4 L1023.5,224.5 L1020.9,226.2 L1018.0,227.3 L1015.0,228.0 L1011.9,228.1 L1008.8,227.6 L1005.9,226.6 L1003.2,225.1 L1000.8,223.2 L998.8,220.8 L997.3,218.2 L996.4,215.3 L996.0,212.3 L996.1,209.3 M1002.0,191.1 L1001.2,191.6 L1000.3,192.0 L999.5,192.2 L998.6,192.3 L997.7,192.2 L996.8,192.0 L996.0,191.6 L995.2,191.1 L994.4,190.5 L993.7,189.7 L993.1,188.8 L992.6,187.8 L992.1,186.8 L991.8,185.6 L991.5,184.4 L991.4,183.2 L991.4,182.0 L991.4,180.8 M1005.1,171.2 L1006.1,168.5 L1007.5,165.9 L1009.0,163.6 L1010.8,161.5 L1012.9,159.7 L1015.1,158.3 L1017.4,157.3 L1019.8,156.6 L1022.3,156.3 L1024.8,156.4 L1027.3,157.0 L1029.6,157.9 L1031.9,159.1 L1034.0,160.8 L1035.9,162.7 L1037.6,165.0 L1039.0,167.5 L1040.1,170.2 M1016.7,156.7 L1016.7,157.4 L1016.5,158.1 L1016.3,158.7 L1015.9,159.3 L1015.4,159.8 L1014.9,160.2 L1014.2,160.6 L1013.5,160.8 L1012.8,161.0 L1012.0,161.0 L1011.3,160.9 L1010.6,160.7 L1009.9,160.4 L1009.3,160.0 L1008.8,159.5 L1008.4,159.0 L1008.1,158.3 L1007.9,157.7 M993.9,193.0 L993.4,192.1 L993.0,191.1 L992.7,190.2 L992.5,189.1 L992.4,188.1 L992.5,187.1 L992.6,186.1 L992.8,185.1 L993.1,184.1 L993.5,183.1 L994.0,182.3 L994.6,181.5 L995.3,180.7 L996.0,180.1 L996.8,179.5 L997.7,179.0 L998.6,178.7 L999.5,178.4 M985.0,186.0 L985.9,184.9 L987.0,183.9 L988.2,183.2 L989.5,182.6 L990.9,182.2 L992.3,182.1 L993.8,182.2 L995.2,182.5 L996.6,183.0 L997.8,183.8 L998.9,184.7 L999.9,185.8 L1000.6,187.0 L1001.2,188.3 L1001.6,189.7 L1001.7,191.1 L1001.6,192.5 L1001.2,193.9 M999.7,190.0 L999.9,191.8 L999.9,193.7 L999.8,195.6 L999.5,197.4 L999.1,199.2 L998.5,200.8 L997.7,202.4 L996.9,203.9 L995.9,205.2 L994.8,206.3 L993.6,207.2 L992.4,207.9 L991.1,208.4 L989.7,208.7 L988.4,208.8 L987.0,208.6 L985.7,208.3 L984.4,207.7 M1003.5,202.5 L998.4,203.2 L993.2,202.4 L988.5,200.4 L984.5,197.1 L981.6,193.0 L979.9,188.1 L979.6,183.1 L980.7,178.1 L983.2,173.6 L986.8,169.9 L991.2,167.4 L996.2,166.1 L1001.4,166.2 L1006.3,167.7 L1010.7,170.4 L1014.2,174.2 L1016.4,178.8 L1017.3,183.8 M983.4,218.3 L984.0,217.5 L984.8,216.7 L985.6,216.0 L986.5,215.4 L987.5,214.9 L988.5,214.4 L989.6,214.1 L990.7,213.8 L991.9,213.6 L993.0,213.5 L994.2,213.6 L995.3,213.7 L996.4,213.9 L997.5,214.3 L998.6,214.7 L999.6,215.2 L1000.5,215.8 L1001.4,216.4 M981.1,177.0 L982.4,173.2 L984.3,169.9 L986.7,167.3 L989.4,165.5 L992.3,164.7 L995.2,164.8 L998.1,165.8 L1000.8,167.7 L1003.0,170.5 L1004.8,173.9 L1006.0,177.7 L1006.6,181.9 L1006.5,186.1 L1005.7,190.2 L1004.3,193.9 L1002.4,197.1 L1000.0,199.6 L997.3,201.3 M983.6,174.6 L984.6,176.7 L985.3,178.9 L985.7,181.3 L985.9,183.7 L985.7,186.2 L985.3,188.5 L984.6,190.8 L983.7,192.9 L982.5,194.7 L981.1,196.3 L979.6,197.5 L977.9,198.4 L976.2,199.0 L974.4,199.1 L972.6,198.8 L970.8,198.2 L969.2,197.2 L967.7,195.9 M998.2,167.8 L1002.1,169.0 L1005.7,170.9 L1008.6,173.4 L1010.8,176.5 L1012.0,179.8 L1012.3,183.3 L1011.6,186.8 L1009.9,190.0 L1007.4,192.9 L1004.2,195.2 L1000.4,196.8 L996.3,197.6 L992.1,197.6 L987.9,196.9 L984.1,195.3 L980.8,193.1 L978.3,190.3 L976.5,187.1 M990.1,220.5 L989.5,219.2 L988.9,217.9 L988.5,216.6 L988.3,215.2 L988.1,213.7 L988.2,212.3 L988.3,210.9 L988.6,209.5 L989.0,208.1 L989.5,206.8 L990.2,205.6 L991.0,204.5 L991.9,203.4 L992.8,202.6 L993.9,201.8 L995.0,201.2 L996.2,200.7 L997.4,200.3 M1002.7,185.6 L1003.5,186.0 L1004.3,186.6 L1005.0,187.3 L1005.6,188.1 L1006.1,188.9 L1006.5,189.9 L1006.9,190.9 L1007.1,191.9 L1007.2,193.0 L1007.2,194.1 L1007.1,195.1 L1006.9,196.2 L1006.6,197.2 L1006.2,198.2 L1005.7,199.1 L1005.2,199.9 L1004.5,200.6 L1003.8,201.2 M1001.6,193.3 L1002.4,194.0 L1003.0,194.9 L1003.3,195.9 L1003.2,197.0 L1002.9,197.9 L1002.3,198.8 L1001.4,199.6 L1000.3,200.1 L999.2,200.4 L997.9,200.5 L996.7,200.3 L995.6,199.8 L994.6,199.2 L993.9,198.4 L993.4,197.4 L993.2,196.4 L993.4,195.4 L993.8,194.4 M994.1,197.2 L991.9,196.3 L990.0,195.1 L988.2,193.6 L986.7,191.9 L985.5,190.0 L984.6,187.9 L984.0,185.8 L983.7,183.5 L983.8,181.3 L984.3,179.1 L985.0,177.0 L986.1,175.0 L987.5,173.2 L989.2,171.7 L991.0,170.3 L993.1,169.3 L995.3,168.5 L997.6,168.1 M966.0,185.1 L965.8,181.9 L966.0,178.6 L966.6,175.4 L967.5,172.4 L968.8,169.6 L970.3,167.0 L972.2,164.8 L974.2,163.0 L976.5,161.6 L978.9,160.6 L981.3,160.1 L983.8,160.1 L986.3,160.6 L988.7,161.5 L990.9,162.9 L993.0,164.7 L994.9,166.9 L996.4,169.4 M1009.8,200.8 L1011.0,204.0 L1011.7,207.4 L1011.8,210.9 L1011.3,214.4 L1010.1,217.7 L1008.5,220.8 L1006.3,223.4 L1003.6,225.6 L1000.7,227.3 L997.5,228.4 L994.1,228.9 L990.7,228.8 L987.4,228.0 L984.3,226.7 L981.5,224.7 L979.0,222.3 L977.1,219.4 L975.6,216.3 M997.7,173.2 L996.6,175.7 L994.6,177.8 L991.9,179.5 L988.7,180.6 L985.3,181.0 L981.9,180.7 L978.7,179.7 L976.0,178.0 L973.9,175.9 L972.6,173.4 L972.3,170.8 L972.9,168.1 L974.3,165.7 L976.6,163.7 L979.4,162.2 L982.7,161.3 L986.1,161.2 L989.5,161.7 M998.8,187.1 L999.1,188.4 L999.2,189.8 L999.0,191.2 L998.6,192.5 L997.9,193.6 L997.1,194.6 L996.1,195.2 L995.0,195.6 L993.9,195.7 L992.7,195.5 L991.7,195.0 L990.8,194.2 L990.0,193.1 L989.4,191.9 L989.1,190.6 L989.0,189.2 L989.2,187.8 L989.7,186.5 M1019.3,193.4 L1018.2,194.9 L1016.8,196.3 L1015.2,197.5 L1013.5,198.6 L1011.6,199.5 L1009.6,200.3 L1007.5,200.8 L1005.3,201.1 L1003.1,201.2 L1000.9,201.1 L998.7,200.8 L996.6,200.3 L994.6,199.6 L992.7,198.6 L990.9,197.6 L989.4,196.3 L988.0,194.9 L986.9,193.4 M986.4,177.0 L987.6,175.3 L989.0,173.9 L990.7,172.8 L992.6,172.1 L994.5,171.8 L996.5,172.0 L998.4,172.6 L1000.1,173.6 L1001.7,174.9 L1002.9,176.5 L1003.8,178.4 L1004.4,180.5 L1004.6,182.6 L1004.3,184.7 L1003.7,186.7 L1002.7,188.6 L1001.4,190.2 L999.8,191.5 M1001.4,160.4 L1004.8,160.6 L1008.1,161.3 L1011.1,162.5 L1013.9,164.1 L1016.2,166.1 L1018.0,168.4 L1019.3,170.9 L1020.0,173.6 L1020.1,176.4 L1019.6,179.1 L1018.5,181.7 L1016.8,184.0 L1014.6,186.1 L1011.9,187.9 L1008.9,189.2 L1005.7,190.0 L1002.4,190.4 L999.0,190.2 M987.5,177.7 L984.8,180.7 L981.6,182.7 L978.0,183.6 L974.4,183.4 L970.9,182.1 L967.8,179.7 L965.3,176.5 L963.7,172.6 L962.8,168.3 L963.0,163.9 L964.0,159.7 L966.0,155.9 L968.6,152.9 L971.8,150.8 L975.4,149.8 L979.0,149.9 L982.5,151.2 L985.6,153.5 M1015.2,140.9 L1018.9,138.3 L1023.1,136.8 L1027.5,136.5 L1031.8,137.4 L1035.7,139.4 L1039.2,142.4 L1041.9,146.3 L1043.8,150.9 L1044.6,155.8 L1044.4,160.8 L1043.2,165.6 L1041.0,169.9 L1038.0,173.5 L1034.4,176.2 L1030.2,177.8 L1025.9,178.3 L1021.6,177.5 L1017.5,175.6 M1003.3,182.2 L1001.1,181.0 L999.3,179.2 L997.8,176.8 L996.9,174.0 L996.6,171.1 L996.9,168.1 L997.7,165.3 L999.1,162.9 L1000.9,161.0 L1003.1,159.8 L1005.4,159.3 L1007.7,159.6 L1009.8,160.7 L1011.7,162.5 L1013.2,164.8 L1014.2,167.5 L1014.6,170.5 L1014.3,173.5 M1014.5,196.0 L1015.6,197.7 L1016.5,199.7 L1016.9,201.9 L1017.0,204.2 L1016.7,206.4 L1016.0,208.5 L1015.0,210.3 L1013.7,211.9 L1012.1,213.0 L1010.4,213.6 L1008.7,213.8 L1006.9,213.5 L1005.3,212.7 L1003.8,211.4 L1002.6,209.8 L1001.7,207.8 L1001.1,205.7 L1000.9,203.4 M974.1,201.6 L974.3,200.6 L974.6,199.7 L975.1,198.8 L975.7,197.9 L976.5,197.2 L977.4,196.4 L978.3,195.8 L979.4,195.3 L980.5,194.8 L981.7,194.5 L983.0,194.2 L984.3,194.1 L985.6,194.1 L986.9,194.2 L988.1,194.4 L989.4,194.7 L990.5,195.1 L991.6,195.6 M1015.0,218.0 L1016.3,218.2 L1017.6,218.6 L1018.9,219.3 L1020.0,220.2 L1021.1,221.2 L1022.0,222.4 L1022.7,223.8 L1023.3,225.3 L1023.7,226.8 L1023.9,228.4 L1023.9,230.0 L1023.7,231.6 L1023.3,233.2 L1022.7,234.6 L1022.0,236.0 L1021.1,237.2 L1020.1,238.3 L1018.9,239.1 M996.1,183.3 L997.6,182.7 L999.1,182.5 L1000.7,182.7 L1002.1,183.4 L1003.5,184.4 L1004.6,185.8 L1005.4,187.4 L1005.9,189.2 L1006.0,191.1 L1005.9,193.0 L1005.3,194.8 L1004.5,196.5 L1003.4,197.8 L1002.1,198.8 L1000.6,199.5 L999.0,199.7 L997.5,199.5 L996.0,198.9 M985.2,214.7 L983.2,213.5 L981.3,212.0 L979.8,210.2 L978.5,208.0 L977.6,205.6 L977.0,203.0 L976.8,200.4 L977.0,197.7 L977.6,195.2 L978.5,192.8 L979.8,190.6 L981.4,188.8 L983.2,187.3 L985.3,186.2 L987.4,185.5 L989.6,185.3 L991.8,185.6 L994.0,186.4 M996.4,183.1 L997.5,184.9 L998.5,186.9 L999.2,189.0 L999.7,191.1 L1000.0,193.3 L1000.1,195.6 L1000.0,197.8 L999.7,200.0 L999.1,202.1 L998.3,204.2 L997.3,206.1 L996.2,208.0 L994.9,209.7 L993.4,211.2 L991.7,212.5 L990.0,213.6 L988.1,214.6 L986.2,215.2 M1004.5,166.1 L1005.4,167.3 L1006.0,168.6 L1006.3,170.1 L1006.3,171.6 L1006.0,173.0 L1005.4,174.4 L1004.6,175.6 L1003.6,176.7 L1002.3,177.4 L1000.9,178.0 L999.5,178.2 L998.0,178.1 L996.6,177.7 L995.3,177.1 L994.2,176.2 L993.2,175.0 L992.5,173.7 L992.1,172.3 M1004.1,177.0 L1005.3,178.1 L1006.4,179.4 L1007.4,180.8 L1008.2,182.3 L1008.9,184.0 L1009.3,185.7 L1009.7,187.5 L1009.8,189.3 L1009.7,191.1 L1009.4,192.9 L1009.0,194.6 L1008.4,196.3 L1007.6,197.9 L1006.7,199.3 L1005.6,200.6 L1004.4,201.7 L1003.1,202.7 L1001.7,203.4 M997.1,198.9 L996.8,199.3 L996.3,199.6 L995.9,199.9 L995.4,200.1 L994.9,200.3 L994.3,200.3 L993.8,200.3 L993.3,200.3 L992.8,200.1 L992.3,199.9 L991.8,199.7 L991.4,199.3 L991.0,198.9 L990.7,198.5 L990.4,198.0 L990.1,197.5 L990.0,196.9 L989.9,196.4 M997.1,157.8 L1000.1,159.9 L1002.5,163.1 L1004.3,167.1 L1005.3,171.6 L1005.4,176.4 L1004.6,181.0 L1003.0,185.1 L1000.7,188.5 L997.8,190.9 L994.6,192.0 L991.2,191.9 L988.0,190.6 L985.2,188.0 L983.0,184.5 L981.5,180.3 L980.8,175.6 L981.1,170.9 L982.2,166.4 M1006.2,211.5 L1001.9,214.0 L997.2,214.8 L992.6,213.8 L988.4,211.1 L984.8,206.9 L982.1,201.5 L980.6,195.2 L980.3,188.6 L981.3,182.2 L983.5,176.3 L986.7,171.5 L990.7,168.1 L995.2,166.3 L999.8,166.3 L1004.3,168.1 L1008.3,171.5 L1011.5,176.3 L1013.7,182.2 M998.1,207.6 L994.0,208.0 L990.0,207.8 L986.1,206.8 L982.5,205.3 L979.4,203.1 L976.9,200.6 L975.2,197.6 L974.2,194.5 L974.1,191.2 L974.9,188.1 L976.5,185.1 L978.8,182.4 L981.8,180.2 L985.2,178.5 L989.1,177.4 L993.1,177.0 L997.2,177.3 L1001.1,178.2 M986.1,197.0 L985.7,195.6 L985.5,194.0 L985.6,192.5 L985.9,191.0 L986.5,189.7 L987.3,188.5 L988.2,187.5 L989.4,186.8 L990.6,186.3 L991.9,186.2 L993.1,186.4 L994.3,186.9 L995.4,187.6 L996.4,188.7 L997.1,189.9 L997.7,191.3 L998.0,192.8 L998.0,194.3 M972.0,197.4 L973.0,195.4 L974.5,193.6 L976.4,192.0 L978.6,190.7 L981.0,189.7 L983.7,189.1 L986.4,188.9 L989.1,189.0 L991.7,189.6 L994.2,190.5 L996.4,191.7 L998.4,193.3 L999.9,195.1 L1001.1,197.1 L1001.8,199.2 L1002.0,201.4 L1001.8,203.6 L1001.1,205.7 M973.2,207.7 L972.1,208.1 L970.9,208.4 L969.7,208.5 L968.5,208.5 L967.3,208.3 L966.2,208.0 L965.0,207.5 L963.9,206.9 L962.9,206.2 L961.9,205.4 L960.9,204.4 L960.1,203.3 L959.3,202.2 L958.6,200.9 L958.0,199.6 L957.5,198.1 L957.0,196.7 L956.7,195.2 M992.0,219.4 L993.2,218.8 L994.5,218.4 L995.8,218.3 L997.1,218.4 L998.4,218.7 L999.6,219.3 L1000.7,220.1 L1001.5,221.1 L1002.2,222.2 L1002.6,223.4 L1002.7,224.7 L1002.6,226.0 L1002.3,227.2 L1001.7,228.4 L1000.8,229.4 L999.8,230.2 L998.7,230.8 L997.4,231.2 M991.7,205.8 L990.4,201.9 L989.7,197.8 L989.6,193.5 L990.0,189.3 L991.1,185.3 L992.6,181.6 L994.7,178.4 L997.1,175.8 L999.9,173.9 L1002.9,172.7 L1006.0,172.4 L1009.1,172.9 L1012.0,174.2 L1014.7,176.2 L1017.1,178.9 L1019.1,182.2 L1020.6,186.0 L1021.5,190.0 M995.0,224.0 L993.7,224.2 L992.3,224.1 L991.0,223.6 L989.8,222.9 L988.7,221.8 L987.7,220.5 L986.9,219.0 L986.2,217.3 L985.8,215.4 L985.6,213.5 L985.6,211.6 L985.9,209.6 L986.3,207.8 L987.0,206.1 L987.8,204.6 L988.8,203.4 L990.0,202.3 L991.2,201.6 M982.5,199.5 L981.3,198.7 L980.4,197.8 L979.7,196.7 L979.4,195.5 L979.4,194.4 L979.7,193.2 L980.3,192.1 L981.2,191.2 L982.4,190.4 L983.7,189.8 L985.2,189.5 L986.7,189.4 L988.2,189.6 L989.6,190.0 L990.9,190.6 L991.9,191.4 L992.8,192.4 L993.3,193.5 M977.4,167.4 L978.4,166.8 L979.4,166.5 L980.5,166.4 L981.6,166.6 L982.6,167.1 L983.5,167.8 L984.1,168.7 L984.6,169.7 L984.8,170.9 L984.7,172.0 L984.3,173.1 L983.7,174.0 L982.9,174.8 L982.0,175.3 L980.9,175.6 L979.8,175.7 L978.7,175.4 L977.7,174.9 M1009.5,199.9 L1007.2,198.8 L1005.2,197.2 L1003.4,195.2 L1002.0,192.9 L1001.0,190.4 L1000.4,187.8 L1000.3,185.1 L1000.6,182.4 L1001.3,179.8 L1002.5,177.3 L1004.0,175.2 L1005.8,173.3 L1008.0,171.9 L1010.3,170.8 L1012.7,170.2 L1015.2,170.2 L1017.7,170.5 L1020.1,171.4 M1009.6,203.5 L1007.8,202.8 L1006.0,201.8 L1004.5,200.6 L1003.1,199.2 L1001.9,197.6 L1000.9,195.9 L1000.3,194.1 L999.8,192.2 L999.7,190.2 L999.8,188.3 L1000.1,186.4 L1000.8,184.6 L1001.7,182.8 L1002.8,181.2 L1004.2,179.8 L1005.7,178.5 L1007.4,177.5 L1009.2,176.7 M1013.5,185.1 L1014.7,186.7 L1015.6,188.5 L1016.3,190.5 L1016.6,192.6 L1016.6,194.7 L1016.3,196.7 L1015.6,198.7 L1014.6,200.5 L1013.4,202.0 L1011.9,203.3 L1010.3,204.3 L1008.5,204.8 L1006.7,205.0 L1004.9,204.8 L1003.1,204.3 L1001.5,203.3 L1000.0,202.1 L998.7,200.5 M1001.6,207.0 L1000.0,208.2 L998.2,209.1 L996.3,209.7 L994.3,209.9 L992.4,209.7 L990.5,209.2 L988.7,208.4 L987.0,207.2 L985.4,205.7 L984.1,204.0 L983.0,202.0 L982.1,199.9 L981.5,197.6 L981.2,195.2 L981.2,192.9 L981.5,190.5 L982.0,188.2 L982.8,186.0 M974.9,204.2 L974.2,203.0 L973.6,201.6 L973.3,200.1 L973.2,198.5 L973.3,196.9 L973.7,195.4 L974.3,194.0 L975.1,192.8 L976.0,191.8 L977.1,191.0 L978.3,190.5 L979.5,190.3 L980.8,190.4 L982.0,190.8 L983.1,191.4 L984.1,192.4 L985.0,193.5 L985.6,194.8 M988.6,200.6 L987.5,199.3 L986.6,197.9 L985.9,196.4 L985.3,194.7 L985.0,193.0 L984.8,191.3 L984.8,189.5 L985.0,187.7 L985.3,186.0 L985.9,184.4 L986.6,182.8 L987.5,181.4 L988.6,180.2 L989.8,179.1 L991.1,178.2 L992.4,177.5 L993.9,177.0 L995.4,176.8 M992.3,184.2 L990.7,187.6 L988.6,190.4 L986.0,192.3 L983.2,193.2 L980.3,193.1 L977.5,192.0 L975.0,189.9 L973.0,187.0 L971.5,183.4 L970.7,179.4 L970.5,175.3 L971.1,171.2 L972.4,167.5 L974.3,164.3 L976.6,161.9 L979.3,160.4 L982.2,160.0 L985.0,160.5 M992.7,192.8 L991.1,194.5 L989.2,195.6 L987.0,196.3 L984.9,196.4 L982.7,195.9 L980.7,194.8 L979.0,193.3 L977.6,191.4 L976.7,189.1 L976.2,186.7 L976.3,184.2 L976.8,181.8 L977.8,179.6 L979.2,177.7 L981.0,176.3 L983.0,175.3 L985.1,174.9 L987.3,175.0 M1005.5,178.2 L1010.3,180.4 L1014.3,183.7 L1017.2,187.9 L1018.8,192.6 L1019.0,197.6 L1017.7,202.4 L1015.1,206.7 L1011.3,210.3 L1006.7,212.7 L1001.5,213.9 L996.2,213.8 L991.0,212.4 L986.5,209.7 L982.9,206.1 L980.5,201.6 L979.5,196.8 L979.9,191.8 L981.7,187.1 M1021.1,180.2 L1020.4,182.6 L1019.4,185.0 L1018.2,187.1 L1016.8,189.0 L1015.2,190.7 L1013.5,192.0 L1011.7,193.0 L1009.8,193.7 L1007.8,194.1 L1005.8,194.0 L1003.9,193.7 L1002.0,192.9 L1000.2,191.9 L998.5,190.5 L996.9,188.8 L995.6,186.9 L994.4,184.7 L993.4,182.4 M1016.0,167.4 L1017.4,167.9 L1018.6,168.4 L1019.8,169.1 L1020.9,169.9 L1021.9,170.7 L1022.7,171.6 L1023.3,172.6 L1023.8,173.7 L1024.1,174.7 L1024.3,175.8 L1024.3,176.9 L1024.1,178.0 L1023.7,179.1 L1023.2,180.1 L1022.5,181.1 L1021.6,182.0 L1020.7,182.8 L1019.6,183.5 M995.4,213.6 L994.6,218.3 L992.9,222.6 L990.4,226.1 L987.3,228.6 L983.8,229.9 L980.2,229.9 L976.7,228.7 L973.5,226.2 L971.0,222.8 L969.2,218.5 L968.4,213.8 L968.5,209.0 L969.5,204.4 L971.4,200.3 L974.1,197.0 L977.3,194.8 L980.9,193.8 L984.5,194.1 M989.4,168.9 L990.7,169.5 L991.7,170.5 L992.5,171.7 L993.0,173.0 L993.3,174.4 L993.2,175.9 L992.8,177.2 L992.1,178.5 L991.2,179.5 L990.0,180.3 L988.7,180.9 L987.4,181.0 L986.0,180.9 L984.7,180.4 L983.5,179.7 L982.5,178.6 L981.8,177.4 L981.4,176.0 M977.1,182.4 L977.6,180.3 L978.3,178.2 L979.1,176.3 L980.1,174.4 L981.1,172.7 L982.2,171.1 L983.4,169.6 L984.7,168.3 L986.1,167.2 L987.5,166.2 L989.0,165.4 L990.5,164.8 L992.1,164.3 L993.7,164.1 L995.2,164.0 L996.8,164.1 L998.4,164.5 L999.9,165.0 M1003.9,184.0 L1004.5,186.5 L1004.6,189.0 L1004.3,191.6 L1003.6,194.0 L1002.6,196.1 L1001.3,198.0 L999.7,199.3 L997.9,200.2 L996.1,200.6 L994.2,200.4 L992.4,199.7 L990.7,198.5 L989.3,196.8 L988.2,194.8 L987.4,192.4 L987.0,189.9 L986.9,187.4 L987.3,184.8 M995.1,205.5 L994.5,207.2 L993.6,208.9 L992.3,210.3 L990.6,211.3 L988.8,212.0 L986.8,212.3 L984.8,212.2 L982.9,211.6 L981.1,210.6 L979.7,209.3 L978.7,207.7 L978.0,206.0 L977.8,204.1 L978.1,202.3 L978.8,200.6 L980.0,199.0 L981.5,197.8 L983.2,196.9 M1012.2,193.0 L1011.9,195.2 L1011.4,197.4 L1010.7,199.5 L1009.8,201.5 L1008.8,203.3 L1007.6,204.9 L1006.2,206.3 L1004.8,207.5 L1003.2,208.4 L1001.6,209.0 L999.9,209.4 L998.2,209.5 L996.5,209.3 L994.9,208.9 L993.3,208.1 L991.8,207.1 L990.3,205.9 L989.0,204.4 M986.6,188.5 L984.7,187.0 L983.3,185.2 L982.5,183.2 L982.4,181.1 L982.9,179.1 L984.1,177.3 L985.9,175.6 L988.1,174.4 L990.7,173.5 L993.5,173.1 L996.3,173.2 L999.1,173.7 L1001.6,174.7 L1003.7,176.1 L1005.2,177.8 L1006.2,179.7 L1006.6,181.8 L1006.3,183.8 M998.8,178.0 L1000.7,177.9 L1002.6,178.5 L1004.3,179.9 L1005.7,181.8 L1006.8,184.2 L1007.4,187.0 L1007.5,189.9 L1007.1,192.7 L1006.2,195.3 L1004.9,197.4 L1003.3,199.0 L1001.5,200.0 L999.6,200.2 L997.7,199.7 L995.9,198.4 L994.4,196.6 L993.3,194.2 L992.7,191.5 M986.7,210.7 L984.0,208.2 L981.6,205.2 L979.6,201.7 L978.2,197.9 L977.4,193.8 L977.1,189.5 L977.4,185.3 L978.3,181.2 L979.8,177.3 L981.8,173.9 L984.2,170.9 L987.0,168.6 L990.1,166.9 L993.4,165.9 L996.7,165.6 L1000.1,166.1 L1003.3,167.4 L1006.3,169.3 M994.7,183.8 L995.6,182.4 L996.6,181.1 L997.9,180.2 L999.3,179.6 L1000.7,179.4 L1002.1,179.6 L1003.5,180.1 L1004.8,181.0 L1005.9,182.2 L1006.7,183.7 L1007.4,185.4 L1007.8,187.2 L1007.8,189.0 L1007.6,190.9 L1007.1,192.6 L1006.4,194.2 L1005.4,195.6 L1004.2,196.6 M984.0,173.9 L986.2,174.7 L988.2,176.3 L989.8,178.4 L991.0,181.0 L991.6,183.8 L991.7,186.8 L991.2,189.7 L990.2,192.4 L988.7,194.7 L986.8,196.4 L984.7,197.5 L982.4,197.9 L980.1,197.6 L978.0,196.5 L976.1,194.8 L974.6,192.5 L973.5,189.8 L973.0,186.9 M1001.2,196.3 L999.3,197.3 L997.3,198.0 L995.2,198.4 L993.1,198.4 L991.1,198.1 L989.0,197.5 L987.1,196.5 L985.3,195.3 L983.6,193.8 L982.1,192.1 L980.8,190.1 L979.7,187.9 L978.9,185.6 L978.3,183.2 L978.0,180.7 L978.0,178.1 L978.2,175.6 L978.7,173.2 M1010.9,182.8 L1012.1,185.0 L1012.8,187.3 L1013.1,189.7 L1012.9,192.2 L1012.2,194.5 L1011.1,196.7 L1009.5,198.7 L1007.5,200.4 L1005.3,201.8 L1002.8,202.8 L1000.1,203.3 L997.4,203.5 L994.6,203.2 L992.0,202.5 L989.6,201.4 L987.4,199.9 L985.6,198.1 L984.1,196.0 M1006.2,156.0 L1007.2,156.4 L1008.0,156.9 L1008.9,157.6 L1009.6,158.4 L1010.3,159.4 L1010.8,160.5 L1011.3,161.7 L1011.6,162.9 L1011.8,164.2 L1011.9,165.6 L1011.8,166.9 L1011.6,168.2 L1011.3,169.5 L1010.9,170.7 L1010.3,171.8 L1009.7,172.8 L1009.0,173.6 L1008.1,174.3 M999.8,199.0 L999.5,199.8 L999.2,200.6 L998.7,201.4 L998.1,202.0 L997.5,202.6 L996.7,203.0 L996.0,203.4 L995.1,203.6 L994.3,203.6 L993.4,203.5 L992.6,203.3 L991.8,203.0 L991.1,202.5 L990.5,201.9 L989.9,201.2 L989.5,200.5 L989.1,199.7 L988.9,198.8 M988.5,186.7 L990.4,185.0 L992.5,183.6 L995.0,182.5 L997.7,181.6 L1000.5,181.1 L1003.4,181.0 L1006.3,181.2 L1009.0,181.7 L1011.7,182.6 L1014.1,183.8 L1016.2,185.3 L1018.0,187.0 L1019.5,188.9 L1020.5,191.0 L1021.0,193.1 L1021.1,195.3 L1020.7,197.5 L1019.9,199.6 M992.1,176.5 L993.3,177.2 L994.4,178.1 L995.3,179.2 L995.9,180.4 L996.3,181.7 L996.5,183.1 L996.4,184.4 L996.0,185.7 L995.3,186.9 L994.5,188.0 L993.4,189.0 L992.2,189.7 L990.8,190.3 L989.3,190.6 L987.8,190.7 L986.3,190.6 L984.9,190.3 L983.5,189.7 M1003.1,160.3 L1004.6,161.2 L1005.9,162.3 L1007.1,163.6 L1008.1,165.1 L1008.9,166.6 L1009.6,168.3 L1010.0,170.0 L1010.3,171.8 L1010.3,173.6 L1010.1,175.4 L1009.6,177.2 L1009.0,178.8 L1008.2,180.4 L1007.2,181.9 L1006.0,183.2 L1004.7,184.3 L1003.3,185.2 L1001.7,186.0 M996.4,222.6 L996.0,224.4 L995.5,226.2 L994.7,227.9 L993.9,229.4 L992.9,230.9 L991.7,232.1 L990.5,233.2 L989.1,234.1 L987.7,234.9 L986.2,235.4 L984.7,235.6 L983.2,235.7 L981.7,235.6 L980.2,235.2 L978.7,234.6 L977.3,233.8 L976.0,232.8 L974.8,231.6 M992.6,182.5 L992.9,181.4 L993.3,180.3 L993.8,179.3 L994.5,178.4 L995.3,177.6 L996.1,177.0 L997.1,176.4 L998.1,176.0 L999.1,175.8 L1000.2,175.7 L1001.3,175.8 L1002.3,176.1 L1003.3,176.4 L1004.3,177.0 L1005.1,177.7 L1005.9,178.5 L1006.6,179.4 L1007.1,180.4 M995.1,189.3 L996.9,187.4 L998.9,186.0 L1001.1,185.1 L1003.4,184.9 L1005.7,185.2 L1007.9,186.1 L1009.9,187.6 L1011.6,189.5 L1013.0,191.9 L1014.0,194.6 L1014.6,197.4 L1014.7,200.4 L1014.4,203.3 L1013.6,206.1 L1012.4,208.7 L1010.8,210.8 L1008.9,212.5 L1006.8,213.7 M1004.6,187.3 L1004.6,189.1 L1004.3,190.9 L1003.6,192.6 L1002.5,194.1 L1001.2,195.5 L999.6,196.5 L997.8,197.3 L995.9,197.7 L994.0,197.7 L992.0,197.4 L990.2,196.8 L988.5,195.9 L987.1,194.6 L986.0,193.2 L985.1,191.5 L984.6,189.7 L984.5,187.9 L984.8,186.1 M1000.5,172.7 L1001.0,174.8 L1001.2,177.1 L1000.8,179.3 L999.9,181.3 L998.7,183.0 L997.1,184.2 L995.3,185.0 L993.3,185.2 L991.4,184.8 L989.7,183.9 L988.2,182.5 L987.0,180.7 L986.3,178.7 L986.1,176.4 L986.3,174.2 L987.0,172.1 L988.2,170.3 L989.7,168.9 M990.0,207.6 L988.3,206.6 L986.7,205.3 L985.4,203.8 L984.4,202.1 L983.6,200.3 L983.1,198.4 L982.9,196.4 L983.0,194.4 L983.4,192.5 L984.1,190.6 L985.1,188.9 L986.4,187.3 L987.8,186.0 L989.5,184.9 L991.3,184.0 L993.2,183.5 L995.2,183.2 L997.2,183.3 M1010.6,223.0 L1009.6,224.2 L1008.4,225.3 L1007.2,226.1 L1006.0,226.8 L1004.7,227.3 L1003.3,227.6 L1001.9,227.7 L1000.6,227.6 L999.2,227.2 L997.9,226.7 L996.7,226.0 L995.5,225.1 L994.4,224.0 L993.4,222.7 L992.5,221.4 L991.7,219.9 L991.0,218.2 L990.5,216.5 M1001.6,172.2 L1003.1,173.5 L1004.3,175.3 L1005.2,177.4 L1005.8,179.8 L1006.0,182.2 L1005.8,184.7 L1005.2,187.0 L1004.2,189.1 L1003.0,190.8 L1001.5,192.2 L999.8,193.1 L998.1,193.4 L996.3,193.2 L994.6,192.5 L993.0,191.3 L991.7,189.6 L990.7,187.6 L990.0,185.3 M1004.3,183.1 L1004.2,183.6 L1004.0,184.1 L1003.7,184.5 L1003.5,185.0 L1003.1,185.4 L1002.8,185.8 L1002.3,186.2 L1001.9,186.6 L1001.4,186.9 L1000.9,187.2 L1000.3,187.5 L999.7,187.7 L999.2,187.8 L998.5,188.0 L997.9,188.0 L997.3,188.1 L996.7,188.1 L996.0,188.0 M997.2,164.2 L998.3,163.5 L999.5,163.0 L1000.8,162.7 L1002.1,162.8 L1003.4,163.1 L1004.5,163.7 L1005.4,164.5 L1006.0,165.5 L1006.4,166.6 L1006.3,167.7 L1006.0,168.7 L1005.3,169.7 L1004.4,170.4 L1003.2,171.0 L1002.0,171.3 L1000.6,171.3 L999.3,171.1 L998.1,170.6 M1009.9,194.8 L1009.7,196.5 L1009.3,198.1 L1008.8,199.6 L1008.2,201.1 L1007.5,202.5 L1006.6,203.7 L1005.6,204.9 L1004.6,205.9 L1003.5,206.8 L1002.2,207.5 L1001.0,208.1 L999.7,208.5 L998.4,208.7 L997.0,208.8 L995.7,208.6 L994.4,208.3 L993.1,207.9 L991.9,207.2 M977.3,198.2 L974.7,195.7 L972.8,192.8 L971.5,189.7 L971.0,186.5 L971.1,183.1 L972.0,179.9 L973.6,176.9 L975.8,174.2 L978.6,171.9 L981.8,170.2 L985.4,168.9 L989.1,168.3 L992.9,168.4 L996.7,169.0 L1000.2,170.3 L1003.4,172.1 L1006.1,174.4 L1008.3,177.2 M958.5,153.1 L960.8,152.8 L963.2,152.8 L965.6,152.9 L967.9,153.3 L970.2,153.9 L972.3,154.7 L974.2,155.8 L975.9,156.9 L977.4,158.3 L978.6,159.7 L979.5,161.3 L980.1,162.9 L980.4,164.6 L980.4,166.3 L980.1,168.0 L979.4,169.6 L978.5,171.1 L977.2,172.6 M988.3,188.6 L987.7,188.1 L987.2,187.4 L986.8,186.7 L986.5,186.0 L986.3,185.2 L986.2,184.4 L986.2,183.6 L986.3,182.8 L986.6,182.0 L986.9,181.3 L987.3,180.6 L987.9,180.0 L988.5,179.4 L989.1,179.0 L989.9,178.6 L990.6,178.3 L991.5,178.1 L992.3,178.1 M1001.3,198.5 L1001.1,199.6 L1000.5,200.5 L999.5,201.3 L998.4,201.9 L997.0,202.3 L995.6,202.4 L994.2,202.3 L992.8,201.9 L991.7,201.2 L990.8,200.4 L990.2,199.4 L990.0,198.4 L990.2,197.3 L990.7,196.4 L991.5,195.5 L992.6,194.8 L993.9,194.3 L995.3,194.1 M1002.2,177.8 L1004.1,178.8 L1005.6,180.3 L1006.7,182.1 L1007.3,184.2 L1007.3,186.4 L1006.8,188.5 L1005.9,190.4 L1004.4,192.0 L1002.6,193.1 L1000.7,193.7 L998.6,193.7 L996.6,193.1 L994.8,192.1 L993.3,190.5 L992.3,188.6 L991.8,186.5 L991.8,184.3 L992.4,182.3 M982.7,177.2 L984.1,175.8 L985.5,174.5 L987.1,173.4 L988.8,172.5 L990.6,171.8 L992.4,171.2 L994.3,170.9 L996.2,170.7 L998.1,170.8 L1000.0,171.1 L1001.9,171.5 L1003.7,172.2 L1005.4,173.1 L1007.0,174.1 L1008.5,175.3 L1009.9,176.7 L1011.1,178.2 L1012.2,179.8 M963.5,204.2 L962.3,200.6 L961.7,196.5 L962.0,192.5 L963.0,188.7 L964.7,185.3 L966.9,182.7 L969.6,181.0 L972.5,180.3 L975.4,180.7 L978.2,182.1 L980.6,184.5 L982.4,187.7 L983.6,191.4 L984.1,195.4 L983.8,199.5 L982.7,203.3 L981.0,206.5 L978.7,209.1 M1012.4,163.4 L1013.6,163.6 L1014.8,163.9 L1015.9,164.4 L1017.0,165.0 L1018.0,165.7 L1019.0,166.6 L1019.9,167.5 L1020.8,168.6 L1021.6,169.7 L1022.3,171.0 L1022.9,172.3 L1023.5,173.7 L1023.9,175.1 L1024.3,176.6 L1024.5,178.1 L1024.7,179.6 L1024.7,181.2 L1024.7,182.8 M995.4,197.6 L993.8,197.2 L992.3,196.6 L990.9,195.8 L989.7,194.8 L988.7,193.6 L987.9,192.2 L987.4,190.8 L987.2,189.3 L987.2,187.7 L987.4,186.2 L988.0,184.8 L988.8,183.5 L989.8,182.3 L991.0,181.3 L992.4,180.4 L993.9,179.9 L995.5,179.5 L997.1,179.4 M992.1,171.5 L992.7,171.3 L993.4,171.1 L994.1,171.0 L994.9,170.9 L995.6,170.9 L996.3,170.9 L997.0,171.0 L997.7,171.1 L998.4,171.3 L999.1,171.5 L999.8,171.8 L1000.4,172.2 L1001.0,172.5 L1001.5,173.0 L1002.0,173.4 L1002.5,173.9 L1002.9,174.4 L1003.2,175.0 M992.3,205.7 L992.7,203.8 L993.6,202.1 L995.2,200.6 L997.2,199.5 L999.6,198.8 L1002.1,198.5 L1004.6,198.7 L1007.0,199.4 L1009.1,200.5 L1010.6,202.0 L1011.7,203.7 L1012.1,205.5 L1011.8,207.4 L1010.9,209.1 L1009.4,210.6 L1007.4,211.8 L1005.1,212.6 L1002.6,212.9 M1008.9,193.8 L1008.1,196.1 L1006.8,198.2 L1005.2,200.0 L1003.3,201.5 L1001.1,202.7 L998.7,203.4 L996.2,203.7 L993.7,203.6 L991.2,203.1 L988.9,202.1 L986.8,200.7 L985.1,199.0 L983.7,197.1 L982.7,194.9 L982.1,192.5 L982.0,190.2 L982.4,187.8 L983.2,185.6 M990.0,208.5 L990.6,207.8 L991.3,207.2 L992.0,206.8 L992.8,206.5 L993.7,206.4 L994.5,206.5 L995.4,206.7 L996.1,207.2 L996.8,207.7 L997.4,208.4 L997.8,209.2 L998.1,210.0 L998.3,210.9 L998.3,211.9 L998.1,212.8 L997.8,213.6 L997.3,214.4 L996.7,215.0 M1003.5,183.9 L1004.7,185.2 L1005.7,186.6 L1006.4,188.2 L1006.7,189.9 L1006.7,191.5 L1006.4,193.2 L1005.7,194.8 L1004.7,196.2 L1003.4,197.5 L1001.8,198.5 L1000.1,199.3 L998.2,199.9 L996.3,200.1 L994.3,200.0 L992.4,199.7 L990.6,199.0 L988.9,198.1 L987.5,197.0 M998.9,179.0 L999.4,178.7 L999.9,178.5 L1000.4,178.3 L1000.9,178.2 L1001.4,178.1 L1001.9,178.1 L1002.5,178.2 L1003.0,178.3 L1003.5,178.4 L1004.0,178.6 L1004.5,178.9 L1004.9,179.2 L1005.4,179.6 L1005.8,180.0 L1006.1,180.5 L1006.5,181.0 L1006.8,181.5 L1007.0,182.1 M993.1,199.8 L993.3,198.5 L993.7,197.2 L994.3,196.0 L995.1,195.0 L996.0,194.2 L997.1,193.6 L998.2,193.3 L999.3,193.3 L1000.4,193.6 L1001.5,194.1 L1002.4,194.8 L1003.3,195.8 L1003.9,197.0 L1004.3,198.3 L1004.6,199.6 L1004.6,201.0 L1004.4,202.4 L1004.0,203.7 M990.6,174.1 L993.6,171.7 L996.8,170.3 L1000.1,169.9 L1003.5,170.6 L1006.6,172.4 L1009.4,175.1 L1011.8,178.6 L1013.5,182.8 L1014.6,187.4 L1015.0,192.3 L1014.7,197.1 L1013.6,201.8 L1011.9,206.0 L1009.6,209.5 L1006.8,212.3 L1003.6,214.1 L1000.3,214.8 L996.9,214.5 M989.1,181.1 L992.3,180.2 L995.6,180.0 L998.9,180.4 L1002.0,181.4 L1004.8,182.9 L1007.2,184.9 L1008.9,187.2 L1010.0,189.9 L1010.4,192.7 L1010.1,195.4 L1009.0,198.1 L1007.3,200.5 L1005.0,202.5 L1002.2,204.0 L999.1,205.0 L995.8,205.4 L992.5,205.3 L989.3,204.5" stroke="#8ee8f6" stroke-width="1.25" fill="none" stroke-opacity="0.9"/></g>
<g filter="url(#gl1)"><path d="M1026.6,174.2 Q1046.9,168.7 1064.9,157.9 M979.1,175.5 Q962.9,148.4 937.5,129.6 M1013.1,212.4 Q1014.5,233.9 1025.9,252.1 M1016.0,175.3 Q1033.3,160.1 1053.3,148.8 M1022.3,185.0 Q1037.6,184.8 1052.5,188.2 M1018.1,191.4 Q1042.9,197.6 1067.4,204.7 M1005.6,164.9 Q1013.2,147.4 1020.0,129.7 M1000.2,158.9 Q996.3,142.2 1006.3,128.4 M976.6,195.1 Q951.6,201.2 926.3,196.9 M978.4,169.1 Q964.9,145.4 938.7,137.4 M1011.6,218.2 Q1007.8,230.4 1018.7,237.1 M1013.0,202.4 Q1034.6,202.6 1047.3,220.0 M989.7,162.5 Q994.3,144.8 994.0,126.4 M1003.7,223.9 Q1005.2,243.6 1011.7,262.3 M1012.7,182.9 Q1038.7,172.2 1066.1,165.6 M989.3,170.8 Q974.9,146.7 962.1,121.7 M977.9,195.7 Q949.0,198.4 922.7,210.7 M985.9,169.6 Q966.2,142.1 949.0,113.0 M997.8,167.3 Q1004.2,149.2 990.9,135.4 M1012.9,171.8 Q1023.1,156.9 1033.8,142.4 M1018.2,214.1 Q1027.2,236.7 1044.9,253.4 M1011.7,198.6 Q1024.6,211.9 1039.7,222.9" stroke="#52d8ee" stroke-width="1.3" fill="none"/></g>
<g filter="url(#gl2)"><path d="M949.0,-2.0 Q956.8,5.5 964.6,13.0 M899.0,117.0 Q928.5,132.0 958.0,147.0 M847.3,336.0 Q860.3,328.2 873.4,320.5 M956.8,344.0 Q960.7,334.9 964.6,325.7 M1034.9,312.7 Q1042.8,321.8 1050.6,330.9 M1087.0,364.8 Q1094.3,375.2 1101.6,385.6 M1105.3,200.6 Q1112.4,190.5 1123.5,185.0 M1032.3,229.3 Q1066.2,248.1 1100.0,266.8 M881.0,221.5 Q883.8,226.2 889.0,227.7 M1207.0,323.0 Q1208.2,330.9 1209.5,338.7 M925.0,87.0 Q930.7,92.5 933.0,100.0 M952.0,115.0 Q952.1,103.7 958.0,94.0 M970.0,95.0 Q975.8,107.6 985.0,118.0 M1012.0,95.0 Q1017.9,106.9 1016.0,120.0 M1000.0,110.0 Q1004.0,99.4 1004.0,88.0 M1030.0,92.0 Q1023.3,98.7 1022.0,108.0 M1055.0,125.0 Q1064.9,127.5 1075.0,126.0 M1058.0,158.0 Q1073.8,154.5 1090.0,155.0 M1040.0,180.0 Q1051.8,174.9 1060.0,165.0 M1075.0,190.0 Q1082.6,184.2 1092.0,182.0 M930.0,225.0 Q935.9,225.7 940.0,230.0 M1000.0,265.0 Q998.5,273.5 997.0,282.0 M960.0,280.0 Q965.4,283.9 972.0,284.0 M1025.0,262.0 Q1029.3,266.1 1030.0,272.0 M1062.0,240.0 Q1065.6,246.4 1072.0,250.0 M920.0,140.0 Q924.0,145.0 928.0,150.0 M1062.0,190.0 Q1061.0,195.0 1060.0,200.0 M985.0,120.0 Q990.4,129.3 990.0,140.0 M940.0,165.0 Q942.5,174.2 950.0,180.0 M1045.0,200.0 Q1052.5,202.5 1060.0,205.0" stroke="#3ccfe6" stroke-width="2" fill="none" stroke-linecap="round"/></g>
<rect x="982" y="166" width="30" height="48" rx="10" fill="#f0f8ff" opacity="0.55" filter="url(#bl4)"/>
<rect x="986" y="171" width="23" height="39" rx="6" fill="url(#gcc)"/>
<path d="M1005.0,190.3h1 M1005.3,206.7h1 M997.7,187.2h1 M992.7,176.2h1 M995.5,185.5h1 M995.7,189.1h1 M1004.0,205.7h1 M994.2,206.4h1 M994.8,194.2h1 M1003.6,196.2h1 M1005.4,176.5h1 M1006.4,183.2h1 M992.9,173.9h1 M999.9,175.7h1 M995.3,176.6h1 M989.3,181.6h1 M1006.4,188.5h1 M996.4,197.6h1 M997.8,188.1h1 M992.5,186.2h1 M988.8,197.4h1 M990.9,186.5h1 M997.8,196.5h1 M1006.8,194.9h1 M992.0,192.7h1 M990.8,179.2h1 M1003.5,189.3h1 M1005.5,192.1h1 M989.8,177.8h1 M1005.9,182.1h1 M992.4,178.4h1 M998.0,197.3h1 M1001.2,197.1h1 M989.5,196.9h1 M996.0,190.9h1 M1001.1,187.4h1 M995.0,195.6h1 M996.7,205.4h1 M995.6,201.7h1 M995.1,173.2h1 M1002.6,176.9h1 M988.3,180.1h1 M997.1,184.9h1 M992.5,182.7h1 M1000.2,189.4h1 M987.2,190.6h1 M997.0,186.3h1 M1000.6,180.4h1 M1006.6,194.3h1 M988.5,188.0h1 M992.9,196.0h1 M991.0,197.7h1 M1000.2,189.1h1 M993.0,192.1h1 M992.1,177.0h1 M990.2,196.1h1 M988.1,204.3h1 M990.5,188.8h1 M1006.5,185.2h1 M998.8,200.9h1 M1005.9,195.6h1 M993.2,194.5h1 M987.5,183.3h1 M992.3,181.3h1 M989.5,189.5h1 M990.3,189.4h1 M988.9,176.1h1 M1006.6,188.1h1 M990.9,200.4h1 M1006.8,175.5h1 M987.9,184.0h1 M997.7,194.7h1 M1000.3,199.7h1 M990.7,186.5h1 M995.2,174.0h1 M995.8,193.2h1 M1006.1,182.9h1 M997.5,183.2h1 M1001.5,187.6h1 M999.8,184.5h1 M997.5,179.3h1 M1001.1,180.1h1 M1003.0,204.7h1 M998.2,202.0h1 M999.6,188.0h1 M988.3,196.1h1 M1002.5,185.1h1 M989.1,196.7h1 M993.0,175.8h1 M1005.5,184.7h1 M1005.0,181.2h1 M996.0,192.6h1 M996.7,181.6h1 M1002.5,182.8h1 M1002.9,173.4h1 M1005.7,206.8h1 M988.8,189.0h1 M1003.3,191.8h1 M995.0,179.1h1 M992.6,194.6h1 M998.4,197.3h1 M1001.8,201.7h1 M1005.5,192.6h1 M1004.4,183.3h1 M1006.8,197.6h1 M997.8,203.3h1 M998.8,204.2h1 M1004.0,191.1h1 M1006.0,176.7h1 M1005.9,175.4h1 M997.1,202.1h1 M990.3,173.1h1 M1001.2,185.1h1 M989.9,187.1h1 M1005.3,198.3h1 M991.4,178.0h1 M1002.9,183.9h1 M1005.0,183.9h1 M993.6,201.9h1 M988.3,175.0h1 M989.6,200.4h1 M999.5,203.5h1 M994.5,191.7h1 M1006.0,199.6h1 M997.1,180.3h1 M1000.7,196.8h1 M1001.0,178.3h1 M996.1,201.5h1 M1005.4,205.9h1 M995.6,188.4h1 M1002.2,192.2h1 M998.4,195.7h1 M990.2,185.8h1 M999.9,193.9h1 M1000.2,184.6h1 M989.4,193.7h1 M1004.2,184.5h1 M991.3,198.4h1 M989.9,205.7h1 M1003.6,203.7h1 M997.0,183.4h1 M998.7,179.3h1 M987.1,185.6h1 M1003.1,180.2h1 M992.5,196.4h1 M998.6,185.3h1 M1001.7,179.4h1 M1004.9,184.5h1 M1001.9,195.5h1 M996.2,183.1h1 M996.8,180.6h1 M1003.2,201.7h1 M1005.7,202.1h1 M1005.7,179.3h1 M995.3,182.9h1 M988.1,177.0h1 M994.3,193.9h1 M1000.1,194.8h1 M1006.0,191.1h1 M998.6,178.3h1" stroke="#ff3860" stroke-width="1.1" fill="none" opacity="0.75"/>
<path d="M982.9,186.2 L984.4,184.0 L986.4,182.1 L988.6,180.5 L991.1,179.4 L993.7,178.8 L996.4,178.7 L999.1,179.0 L1001.7,179.9 L1004.1,181.1 L1006.2,182.8 L1007.9,184.9 L1009.3,187.2 L1010.2,189.8 L1010.7,192.4 M1008.9,199.1 L1007.3,200.5 L1005.4,201.5 L1003.4,202.2 L1001.2,202.6 L999.1,202.5 L997.0,202.0 L995.0,201.1 L993.3,199.9 L991.8,198.4 L990.6,196.6 L989.7,194.6 L989.2,192.5 L989.2,190.4 L989.5,188.2 M995.8,188.4 L996.5,187.5 L997.3,186.8 L998.2,186.2 L999.1,185.6 L1000.1,185.2 L1001.1,184.9 L1002.2,184.7 L1003.2,184.7 L1004.3,184.7 L1005.4,184.9 L1006.4,185.2 L1007.4,185.7 L1008.3,186.2 L1009.2,186.9 M991.9,199.8 L992.0,197.6 L992.5,195.4 L993.3,193.3 L994.5,191.4 L996.0,189.7 L997.8,188.3 L999.8,187.2 L1001.9,186.5 L1004.2,186.1 L1006.4,186.2 L1008.6,186.6 L1010.8,187.4 L1012.7,188.6 L1014.4,190.0 M993.4,211.2 L991.4,209.3 L989.9,206.9 L989.0,204.2 L989.0,201.4 L989.7,198.7 L991.0,196.2 L993.0,194.2 L995.4,192.8 L998.2,192.1 L1001.0,192.1 L1003.7,192.9 L1006.1,194.4 L1008.0,196.4 L1009.4,198.9 M1011.5,191.3 L1011.0,194.3 L1009.8,197.2 L1008.1,199.7 L1005.7,201.7 L1003.0,203.2 L1000.0,204.0 L997.0,204.0 L993.9,203.4 L991.2,202.1 L988.7,200.1 L986.9,197.7 L985.6,194.9 L985.0,191.9 L985.1,188.8 M998.2,177.1 L998.6,176.4 L999.1,175.7 L999.6,175.0 L1000.2,174.4 L1000.9,173.9 L1001.6,173.5 L1002.3,173.1 L1003.1,172.8 L1004.0,172.6 L1004.8,172.5 L1005.6,172.5 L1006.5,172.6 L1007.3,172.7 L1008.1,173.0 M989.5,204.1 L988.4,200.9 L987.9,197.5 L988.0,194.1 L988.7,190.7 L990.0,187.6 L991.9,184.7 L994.3,182.3 L997.1,180.3 L1000.2,178.8 L1003.5,178.0 L1006.9,177.8 L1010.3,178.1 L1013.6,179.2 L1016.6,180.7 M1013.4,174.7 L1016.1,177.1 L1018.3,179.9 L1020.0,183.1 L1021.0,186.5 L1021.5,190.1 L1021.3,193.6 L1020.5,197.1 L1019.0,200.4 L1017.0,203.4 L1014.5,205.9 L1011.6,208.0 L1008.3,209.5 L1004.9,210.4 L1001.3,210.7 M1007.2,194.8 L1006.7,196.6 L1005.8,198.4 L1004.8,200.0 L1003.5,201.4 L1002.0,202.6 L1000.3,203.6 L998.6,204.4 L996.7,204.8 L994.8,205.0 L992.8,204.9 L991.0,204.6 L989.1,203.9 L987.5,203.0 L985.9,201.8 M987.3,185.6 L989.1,184.1 L991.3,182.9 L993.6,182.2 L996.0,182.0 L998.4,182.3 L1000.7,183.0 L1002.8,184.2 L1004.6,185.7 L1006.1,187.6 L1007.2,189.8 L1007.8,192.1 L1008.0,194.5 L1007.7,196.9 L1006.9,199.2 M996.3,202.8 L994.0,202.5 L991.8,201.7 L989.8,200.6 L988.0,199.1 L986.5,197.3 L985.4,195.3 L984.7,193.1 L984.4,190.8 L984.5,188.5 L985.0,186.2 L985.9,184.1 L987.2,182.2 L988.8,180.5 L990.7,179.2 M995.7,182.9 L997.1,181.4 L998.8,180.3 L1000.7,179.6 L1002.8,179.2 L1004.8,179.3 L1006.8,179.8 L1008.6,180.6 L1010.3,181.8 L1011.7,183.4 L1012.7,185.1 L1013.3,187.1 L1013.6,189.1 L1013.4,191.1 L1012.8,193.1 M1003.9,199.3 L1000.9,200.4 L997.7,200.7 L994.5,200.2 L991.5,198.8 L989.0,196.8 L987.1,194.2 L985.9,191.2 L985.5,188.0 L985.9,184.8 L987.1,181.9 L989.0,179.3 L991.5,177.2 L994.5,175.9 L997.6,175.4 M993.0,196.7 L992.1,196.1 L991.3,195.4 L990.5,194.5 L990.0,193.6 L989.5,192.6 L989.2,191.6 L989.1,190.5 L989.1,189.4 L989.3,188.3 L989.6,187.3 L990.1,186.3 L990.7,185.4 L991.5,184.6 L992.3,183.9 M984.4,190.0 L984.8,185.4 L986.3,181.1 L989.0,177.3 L992.5,174.4 L996.7,172.5 L1001.3,171.7 L1005.9,172.2 L1010.2,173.9 L1013.9,176.6 L1016.7,180.3 L1018.5,184.5 L1019.1,189.1 L1018.5,193.7 L1016.7,197.9 M977.8,178.1 L978.9,175.1 L980.4,172.3 L982.4,169.9 L984.8,167.9 L987.6,166.3 L990.5,165.2 L993.6,164.6 L996.8,164.6 L999.9,165.1 L1002.9,166.2 L1005.6,167.7 L1008.1,169.7 L1010.1,172.1 L1011.7,174.8 M997.6,183.3 L998.4,183.4 L999.3,183.6 L1000.1,183.9 L1000.9,184.2 L1001.6,184.7 L1002.3,185.3 L1002.9,185.9 L1003.4,186.6 L1003.9,187.3 L1004.3,188.1 L1004.5,188.9 L1004.7,189.8 L1004.8,190.6 L1004.8,191.5 M996.7,182.9 L998.2,182.9 L999.6,183.2 L1001.0,183.7 L1002.3,184.4 L1003.5,185.4 L1004.5,186.5 L1005.3,187.7 L1005.9,189.1 L1006.3,190.5 L1006.4,192.0 L1006.3,193.5 L1006.0,195.0 L1005.4,196.4 L1004.6,197.6 M1001.1,191.9 L1002.0,191.8 L1003.0,191.8 L1003.9,192.0 L1004.8,192.2 L1005.6,192.6 L1006.4,193.1 L1007.2,193.7 L1007.8,194.3 L1008.4,195.1 L1008.9,195.9 L1009.2,196.7 L1009.5,197.6 L1009.6,198.5 L1009.6,199.5 M1001.7,201.7 L999.1,204.0 L996.1,205.5 L992.7,206.0 L989.3,205.6 L986.2,204.3 L983.5,202.1 L981.6,199.3 L980.6,196.0 L980.5,192.6 L981.4,189.3 L983.2,186.4 L985.7,184.1 L988.8,182.6 L992.2,182.0 M985.6,167.3 L987.4,166.2 L989.4,165.3 L991.5,164.7 L993.6,164.3 L995.8,164.2 L998.0,164.3 L1000.1,164.8 L1002.2,165.5 L1004.1,166.4 L1006.0,167.6 L1007.6,169.0 L1009.1,170.6 L1010.4,172.4 L1011.4,174.3 M989.2,188.5 L989.3,186.5 L989.9,184.6 L991.0,182.9 L992.5,181.6 L994.2,180.6 L996.2,180.1 L998.2,180.1 L1000.1,180.6 L1001.8,181.6 L1003.3,183.0 L1004.4,184.7 L1005.0,186.6 L1005.1,188.5 L1004.7,190.5 M983.1,179.1 L985.8,177.7 L988.8,177.0 L991.9,177.1 L994.8,178.1 L997.3,179.9 L999.3,182.3 L1000.5,185.1 L1000.9,188.1 L1000.4,191.2 L999.1,194.0 L997.1,196.3 L994.5,198.0 L991.5,198.9 L988.5,198.9 M989.9,202.4 L987.6,199.6 L985.7,196.5 L984.5,193.0 L983.9,189.4 L984.0,185.8 L984.8,182.2 L986.1,178.8 L988.1,175.7 L990.5,173.0 L993.5,170.8 L996.7,169.2 L1000.2,168.1 L1003.9,167.7 L1007.5,168.0 M1002.1,177.7 L1003.3,177.2 L1004.5,176.9 L1005.7,176.8 L1007.0,176.9 L1008.2,177.3 L1009.3,177.9 L1010.3,178.7 L1011.1,179.6 L1011.8,180.7 L1012.2,181.9 L1012.4,183.2 L1012.4,184.4 L1012.1,185.7 L1011.7,186.8 M989.7,175.8 L991.2,175.8 L992.6,176.1 L994.0,176.6 L995.2,177.3 L996.3,178.2 L997.3,179.4 L998.0,180.6 L998.5,182.0 L998.7,183.4 L998.7,184.9 L998.5,186.3 L998.0,187.7 L997.3,188.9 L996.4,190.1 M999.6,201.2 L996.4,200.4 L993.4,198.8 L990.8,196.6 L988.9,193.9 L987.6,190.8 L987.1,187.5 L987.4,184.1 L988.5,180.9 L990.3,178.1 L992.7,175.7 L995.6,174.0 L998.8,173.0 L1002.1,172.8 L1005.5,173.4 M990.5,193.6 L989.9,192.7 L989.5,191.7 L989.2,190.7 L989.1,189.6 L989.1,188.5 L989.2,187.5 L989.6,186.4 L990.0,185.5 L990.6,184.6 L991.3,183.8 L992.1,183.1 L993.1,182.5 L994.0,182.1 L995.1,181.8 M998.0,201.7 L996.6,201.7 L995.2,201.6 L993.8,201.3 L992.4,200.9 L991.1,200.2 L989.9,199.5 L988.8,198.5 L987.9,197.5 L987.0,196.4 L986.3,195.1 L985.8,193.8 L985.4,192.4 L985.2,191.0 L985.2,189.6" stroke="#f0fcff" stroke-width="0.9" fill="none" stroke-opacity="0.75"/>
<path d="M1431.1,174.5h1 M1541.3,154.2h1 M1285.1,209.9h1 M1002.3,23.8h1 M1576.2,161.2h1 M1191.9,364.9h1 M1143.7,65.1h1 M1213.2,225.4h1 M978.8,59.7h1 M1032.5,48.7h1 M1036.6,196.8h1 M1517.5,85.4h1 M824.7,60.8h1 M1499.4,79.6h1 M1154.9,277.4h1 M964.5,210.7h1 M927.1,74.0h1 M1112.8,330.6h1 M1475.8,290.0h1 M1086.7,15.1h1 M820.9,316.1h1 M899.9,321.6h1 M1469.8,373.0h1 M1525.6,194.5h1 M1363.7,330.2h1 M1578.9,121.5h1 M1064.2,118.2h1 M1073.9,325.2h1 M880.4,323.4h1 M1572.4,205.0h1 M1400.7,239.7h1 M1521.0,383.9h1 M905.5,144.4h1 M1038.4,128.8h1 M914.1,378.8h1 M1367.0,320.3h1 M1345.0,149.1h1 M995.5,107.7h1 M1339.0,172.4h1 M1488.3,255.7h1 M1347.0,349.1h1 M1576.6,142.4h1 M1054.4,336.7h1 M1357.9,244.5h1 M1421.4,91.0h1 M815.6,129.7h1 M1449.7,99.6h1 M1272.8,376.3h1 M846.2,196.2h1 M1045.0,189.0h1 M911.6,176.1h1 M827.6,10.4h1 M886.9,369.4h1 M1329.7,340.3h1 M1378.5,79.4h1 M1006.2,329.1h1 M1301.8,219.5h1 M1501.0,313.6h1 M1097.5,277.1h1 M847.6,28.0h1 M811.4,374.4h1 M817.1,119.3h1 M832.2,19.7h1 M1575.1,226.8h1 M861.2,178.6h1 M987.2,360.4h1 M1146.2,266.5h1 M1508.3,22.7h1 M1306.8,96.0h1 M1339.9,177.0h1 M1426.4,210.9h1 M1040.7,210.7h1 M1228.8,271.6h1 M1501.7,94.7h1 M965.5,104.0h1 M1447.1,18.2h1 M873.9,359.2h1 M1257.9,232.8h1 M995.0,281.5h1 M1544.1,341.1h1 M1420.5,18.0h1 M1190.2,198.6h1 M1242.7,325.4h1 M1294.6,250.6h1 M1542.7,164.7h1 M1290.8,113.6h1 M859.3,44.5h1 M1050.2,84.2h1 M1429.3,291.1h1 M1374.1,359.0h1 M862.1,74.9h1 M1340.0,271.9h1 M1379.1,13.5h1 M923.3,365.5h1 M1019.6,210.1h1 M1420.2,311.1h1 M1092.5,230.6h1 M1190.1,117.8h1 M1110.2,246.2h1 M1097.0,265.1h1 M892.0,113.9h1 M987.9,45.3h1 M858.8,42.8h1 M1551.1,149.4h1 M1185.4,24.5h1 M1009.2,307.0h1 M1130.3,73.3h1 M1075.5,250.7h1 M1285.3,386.6h1 M1335.5,157.9h1 M1083.0,279.5h1 M1557.0,21.4h1 M907.0,138.8h1 M1011.3,196.1h1 M894.6,268.3h1 M1544.6,225.1h1 M1446.4,52.6h1 M1254.8,327.1h1 M1526.3,62.9h1 M1181.5,367.2h1 M1100.7,368.6h1 M1373.6,304.6h1 M867.4,26.2h1 M990.6,358.2h1 M1485.9,119.8h1 M924.0,374.6h1 M847.0,166.2h1 M1473.7,50.5h1 M820.0,98.7h1 M1400.1,252.7h1 M1464.5,191.2h1 M1203.7,329.3h1 M1064.4,135.1h1 M1307.8,167.6h1 M1199.2,241.0h1 M1300.7,30.3h1 M1202.3,135.8h1 M949.8,155.5h1 M1505.5,151.3h1 M848.6,20.1h1 M1336.8,376.5h1 M1322.4,299.4h1 M1005.0,365.4h1 M1363.0,325.0h1 M1102.0,130.2h1 M1072.0,154.7h1 M961.3,186.6h1 M1242.1,260.3h1 M807.4,316.5h1 M1158.4,365.8h1 M858.8,220.6h1 M1197.2,89.0h1 M1117.1,109.4h1 M1477.1,268.9h1 M1409.7,253.2h1 M936.0,139.3h1 M886.5,294.8h1 M817.9,300.4h1 M1498.6,300.8h1 M1289.4,275.3h1 M1518.1,210.9h1 M865.5,136.8h1 M1130.3,254.4h1 M1467.3,211.7h1 M1142.5,15.0h1 M1316.6,335.4h1 M1202.3,279.5h1 M1425.4,80.9h1 M1462.0,58.7h1 M1502.4,334.8h1 M1046.6,156.9h1 M1510.9,347.8h1 M1292.0,119.3h1 M1529.0,161.9h1 M916.3,294.0h1 M1111.1,343.5h1 M993.3,381.5h1 M1213.3,196.1h1 M1007.2,55.3h1 M1454.9,340.7h1 M1289.7,201.2h1 M1019.8,304.8h1 M1154.3,288.4h1 M1028.7,122.5h1 M1302.5,196.8h1 M1461.7,73.2h1 M1575.2,41.8h1 M1044.1,358.3h1 M969.5,125.1h1 M1453.4,24.3h1 M1023.4,279.7h1 M970.0,336.3h1 M1460.0,332.7h1 M999.0,221.5h1 M891.9,179.3h1 M1531.1,32.9h1 M1184.6,189.0h1 M1168.1,306.2h1 M1420.5,147.4h1 M945.5,115.2h1 M1014.5,59.4h1 M1302.5,323.4h1 M1472.8,159.3h1 M1219.9,343.8h1 M1545.8,267.1h1 M1401.2,182.2h1 M1361.3,17.3h1 M1047.5,27.5h1 M1311.8,55.2h1 M1199.0,348.5h1 M1374.0,53.1h1 M1335.4,62.5h1 M959.9,151.1h1 M1186.8,206.6h1 M1052.0,277.1h1 M1590.2,374.5h1 M1544.2,42.3h1 M1451.6,52.8h1 M1203.4,348.0h1 M1436.7,366.7h1" stroke="#2a7e92" stroke-width="1.2" fill="none" opacity="0.7"/>
<g filter="url(#gl1)"><path d="M1052.4,29.9h1.5 M930.3,246.8h1.5 M973.2,189.7h1.5 M1062.9,165.6h1.5 M1076.3,168.7h1.5 M1034.5,253.6h1.5 M1044.5,194.8h1.5 M1013.6,162.7h1.5 M1047.3,144.4h1.5 M1107.9,79.9h1.5 M969.4,341.9h1.5 M972.1,268.5h1.5 M1032.3,134.2h1.5 M995.2,155.7h1.5 M959.6,154.9h1.5 M937.4,308.8h1.5 M869.7,193.5h1.5 M1038.4,158.2h1.5 M985.2,220.7h1.5 M1174.5,128.5h1.5 M1144.8,85.7h1.5 M961.7,210.9h1.5 M896.6,181.9h1.5 M929.7,182.4h1.5 M1016.9,218.2h1.5 M1025.3,107.3h1.5 M1020.8,163.3h1.5 M1121.5,274.2h1.5 M936.3,147.2h1.5 M1004.1,234.5h1.5" stroke="#48d4ea" stroke-width="2" stroke-linecap="round" fill="none"/></g>
<ellipse cx="1398" cy="190" rx="52" ry="56" fill="url(#gdc)" opacity="0.9"/>
<g filter="url(#gl1)"><path d="M1383.2,199.2h0.01 M1393.0,225.5h0.01 M1424.1,212.6h0.01 M1410.9,167.6h0.01 M1392.6,206.8h0.01 M1403.1,212.7h0.01 M1364.8,176.5h0.01 M1364.8,182.1h0.01 M1396.4,209.8h0.01 M1407.1,227.6h0.01 M1395.4,187.2h0.01 M1377.0,195.4h0.01 M1384.6,191.1h0.01 M1388.2,178.6h0.01 M1395.3,188.3h0.01 M1374.4,173.4h0.01 M1376.7,213.6h0.01 M1407.8,157.9h0.01 M1366.2,174.3h0.01 M1414.7,155.5h0.01 M1425.6,194.6h0.01 M1381.7,219.7h0.01 M1366.1,196.5h0.01 M1403.9,191.1h0.01 M1410.3,195.6h0.01 M1393.4,192.0h0.01 M1386.0,214.2h0.01 M1413.9,197.0h0.01 M1366.1,178.7h0.01 M1404.2,152.9h0.01 M1419.0,200.8h0.01 M1417.6,182.8h0.01 M1365.2,199.1h0.01 M1381.2,181.7h0.01 M1365.3,189.4h0.01 M1381.9,210.5h0.01 M1389.8,207.3h0.01 M1418.2,205.5h0.01 M1425.4,165.5h0.01 M1400.2,207.1h0.01 M1375.0,185.1h0.01 M1383.8,201.3h0.01 M1375.8,166.1h0.01 M1379.0,160.4h0.01 M1408.9,163.9h0.01 M1367.3,196.5h0.01 M1400.2,186.6h0.01 M1385.4,165.7h0.01 M1376.1,194.1h0.01 M1380.4,197.5h0.01 M1370.3,171.4h0.01 M1395.1,197.2h0.01 M1403.2,173.7h0.01 M1393.6,228.5h0.01 M1415.6,178.7h0.01 M1367.0,179.4h0.01 M1383.0,205.2h0.01 M1412.8,186.7h0.01 M1380.1,180.5h0.01 M1371.6,201.7h0.01 M1371.9,193.3h0.01 M1411.5,158.5h0.01 M1429.3,172.9h0.01 M1375.7,215.5h0.01 M1410.7,186.2h0.01 M1401.5,213.8h0.01 M1372.6,215.6h0.01 M1377.0,196.6h0.01 M1368.4,177.5h0.01 M1383.1,199.4h0.01 M1404.4,221.5h0.01 M1385.7,186.2h0.01 M1423.7,165.1h0.01 M1407.4,214.8h0.01 M1376.1,199.7h0.01 M1381.9,159.9h0.01 M1382.1,161.1h0.01 M1395.5,228.2h0.01 M1394.2,198.8h0.01 M1386.6,174.4h0.01 M1396.3,159.0h0.01 M1366.8,177.2h0.01 M1380.2,199.7h0.01 M1380.7,190.7h0.01 M1404.7,179.0h0.01 M1420.7,185.3h0.01 M1418.1,213.4h0.01 M1413.7,163.8h0.01 M1368.5,181.2h0.01 M1412.9,217.6h0.01 M1421.6,192.7h0.01 M1401.8,214.6h0.01 M1406.1,214.9h0.01 M1370.6,214.1h0.01 M1399.8,198.4h0.01 M1413.0,203.2h0.01 M1371.2,191.1h0.01 M1399.2,220.0h0.01 M1403.7,156.0h0.01 M1367.6,200.2h0.01 M1395.2,173.8h0.01 M1428.2,204.5h0.01 M1428.0,186.2h0.01 M1424.9,211.8h0.01 M1398.2,161.1h0.01 M1424.7,217.0h0.01 M1410.1,195.7h0.01 M1380.1,157.4h0.01 M1411.6,190.4h0.01 M1399.0,222.9h0.01 M1386.2,178.7h0.01 M1431.0,193.8h0.01 M1388.3,211.6h0.01 M1361.7,182.5h0.01 M1382.9,213.8h0.01 M1403.8,173.1h0.01 M1392.1,189.3h0.01 M1379.3,156.6h0.01 M1397.7,158.5h0.01 M1374.1,185.6h0.01 M1406.2,185.3h0.01 M1415.5,158.3h0.01 M1419.0,199.8h0.01 M1407.0,183.3h0.01 M1397.9,165.0h0.01 M1386.7,207.0h0.01 M1382.1,202.9h0.01 M1372.3,188.4h0.01 M1411.8,161.5h0.01 M1419.1,170.5h0.01 M1382.8,190.4h0.01 M1385.2,224.3h0.01 M1420.2,216.1h0.01 M1424.5,196.6h0.01 M1372.2,184.7h0.01 M1380.5,159.8h0.01 M1382.0,184.4h0.01 M1369.0,201.9h0.01 M1372.4,206.0h0.01 M1423.6,186.5h0.01 M1374.1,194.4h0.01 M1408.3,202.5h0.01 M1430.3,183.8h0.01 M1373.6,183.1h0.01 M1427.7,205.2h0.01 M1423.0,175.4h0.01 M1420.1,201.9h0.01 M1374.2,183.7h0.01 M1370.4,171.3h0.01 M1428.9,194.6h0.01 M1400.1,218.0h0.01 M1377.0,187.4h0.01 M1411.2,206.0h0.01 M1404.6,204.1h0.01 M1413.0,167.9h0.01 M1382.1,208.9h0.01 M1368.3,187.7h0.01 M1372.8,179.8h0.01 M1396.5,208.7h0.01 M1377.6,208.7h0.01 M1419.0,173.8h0.01 M1389.1,223.9h0.01 M1368.4,207.7h0.01 M1398.5,210.0h0.01 M1393.4,158.7h0.01 M1431.4,184.5h0.01 M1421.1,219.6h0.01 M1406.4,177.3h0.01 M1431.8,195.0h0.01 M1370.0,186.8h0.01 M1422.0,205.0h0.01 M1427.5,198.1h0.01 M1413.6,206.7h0.01 M1419.3,190.1h0.01 M1412.4,154.1h0.01 M1413.4,215.8h0.01 M1392.5,159.1h0.01 M1422.4,179.9h0.01 M1396.3,227.9h0.01 M1383.4,218.3h0.01 M1433.5,179.6h0.01 M1399.9,161.6h0.01 M1405.2,228.8h0.01 M1408.5,213.1h0.01 M1391.0,197.6h0.01 M1429.1,203.2h0.01 M1401.5,180.1h0.01 M1383.4,188.1h0.01 M1370.8,191.5h0.01 M1371.0,192.4h0.01 M1406.7,164.0h0.01 M1400.3,178.5h0.01 M1399.0,154.0h0.01 M1408.4,201.4h0.01 M1431.9,184.4h0.01 M1396.9,172.0h0.01 M1416.5,158.7h0.01 M1386.1,160.4h0.01 M1425.0,202.1h0.01 M1392.7,182.8h0.01 M1369.6,167.9h0.01 M1400.2,179.8h0.01 M1391.0,175.8h0.01 M1386.8,156.2h0.01 M1391.6,192.5h0.01 M1413.4,210.0h0.01 M1390.6,227.3h0.01 M1421.4,220.8h0.01 M1412.8,190.0h0.01 M1390.0,206.4h0.01 M1386.1,214.5h0.01 M1407.2,181.3h0.01 M1374.0,202.4h0.01 M1368.1,195.0h0.01 M1419.9,195.1h0.01 M1422.0,192.5h0.01 M1384.8,172.1h0.01 M1396.2,176.2h0.01 M1426.0,202.1h0.01 M1377.3,177.3h0.01 M1395.4,166.2h0.01 M1412.7,193.8h0.01 M1391.6,177.1h0.01 M1411.5,160.9h0.01 M1420.3,170.1h0.01 M1419.7,168.9h0.01 M1400.6,185.3h0.01 M1399.7,206.6h0.01 M1427.4,212.3h0.01 M1417.6,198.9h0.01 M1369.7,195.0h0.01 M1375.4,186.9h0.01 M1419.2,178.3h0.01 M1410.2,179.6h0.01 M1386.6,160.0h0.01 M1403.8,214.9h0.01 M1386.0,203.8h0.01 M1427.2,194.0h0.01 M1384.1,187.6h0.01 M1429.5,171.3h0.01 M1392.4,214.0h0.01 M1430.0,188.0h0.01 M1427.3,199.1h0.01 M1386.4,159.7h0.01 M1398.1,162.7h0.01 M1376.8,190.7h0.01 M1375.2,162.9h0.01 M1426.5,198.0h0.01 M1431.3,178.0h0.01 M1378.2,219.4h0.01 M1390.1,151.3h0.01 M1379.5,192.3h0.01 M1373.6,179.5h0.01 M1380.2,205.8h0.01 M1409.1,199.8h0.01 M1387.5,209.6h0.01 M1408.9,184.6h0.01 M1399.6,207.1h0.01 M1370.8,188.0h0.01 M1394.7,188.1h0.01 M1377.4,184.9h0.01 M1431.7,180.6h0.01 M1376.4,169.2h0.01 M1399.5,225.6h0.01 M1399.8,209.6h0.01 M1432.9,197.9h0.01 M1409.4,206.4h0.01 M1410.6,206.2h0.01 M1405.9,174.9h0.01 M1372.2,210.4h0.01 M1375.3,209.3h0.01 M1409.4,174.6h0.01 M1413.7,186.4h0.01 M1396.0,210.3h0.01 M1385.7,216.4h0.01 M1400.8,164.5h0.01 M1410.2,209.7h0.01 M1420.5,205.5h0.01 M1386.0,199.7h0.01 M1409.4,152.7h0.01 M1417.1,162.7h0.01 M1370.4,177.5h0.01 M1397.3,225.2h0.01 M1415.6,156.2h0.01 M1406.6,163.2h0.01 M1409.2,216.9h0.01 M1398.3,214.4h0.01 M1398.0,201.0h0.01 M1376.7,180.7h0.01 M1390.4,158.1h0.01 M1418.3,182.0h0.01 M1430.3,184.0h0.01 M1389.5,220.4h0.01 M1367.7,210.4h0.01 M1362.0,187.4h0.01 M1392.0,209.6h0.01 M1406.7,173.2h0.01 M1389.9,208.7h0.01 M1364.7,181.8h0.01 M1412.6,226.6h0.01 M1402.0,186.4h0.01 M1392.3,182.1h0.01 M1408.9,192.2h0.01 M1397.5,207.4h0.01 M1401.2,190.8h0.01 M1395.7,158.8h0.01 M1396.4,217.4h0.01 M1379.7,196.8h0.01 M1395.0,153.5h0.01 M1397.2,171.3h0.01 M1413.9,160.3h0.01 M1423.8,179.4h0.01 M1399.6,217.1h0.01 M1414.6,216.1h0.01 M1375.3,211.3h0.01 M1404.1,199.4h0.01 M1418.2,162.9h0.01 M1413.8,168.5h0.01 M1381.6,200.9h0.01 M1401.1,173.5h0.01 M1388.9,212.2h0.01 M1374.8,165.5h0.01 M1420.9,196.5h0.01 M1417.0,190.4h0.01 M1422.6,178.6h0.01 M1380.7,205.2h0.01 M1384.5,157.6h0.01 M1370.1,181.4h0.01 M1420.9,220.7h0.01 M1368.9,190.2h0.01 M1406.8,159.2h0.01 M1405.8,216.9h0.01 M1418.1,214.8h0.01 M1431.8,178.5h0.01 M1429.6,207.8h0.01 M1381.7,195.1h0.01 M1363.5,176.6h0.01 M1373.7,194.4h0.01 M1401.8,214.1h0.01 M1383.2,160.0h0.01 M1415.0,173.3h0.01 M1389.8,219.1h0.01 M1413.3,193.8h0.01 M1384.9,169.7h0.01 M1385.6,153.8h0.01 M1369.5,207.9h0.01 M1380.6,205.9h0.01 M1381.6,188.7h0.01 M1379.2,215.5h0.01 M1400.1,158.4h0.01 M1400.8,201.3h0.01 M1387.6,192.1h0.01 M1373.4,164.0h0.01 M1364.6,174.9h0.01 M1416.5,178.6h0.01 M1404.0,205.5h0.01 M1369.9,202.8h0.01 M1374.1,184.4h0.01 M1374.6,176.2h0.01 M1376.8,172.9h0.01 M1402.0,176.3h0.01 M1368.3,198.8h0.01 M1392.9,224.7h0.01 M1386.4,204.2h0.01 M1415.0,201.3h0.01 M1386.6,195.0h0.01 M1420.3,174.0h0.01 M1372.9,198.8h0.01 M1397.4,165.6h0.01 M1395.1,171.4h0.01 M1434.6,189.5h0.01 M1366.9,199.9h0.01 M1393.7,214.9h0.01 M1397.3,163.9h0.01 M1397.8,201.9h0.01 M1376.6,220.8h0.01 M1398.8,163.0h0.01 M1418.6,201.5h0.01 M1419.0,167.6h0.01 M1382.7,154.0h0.01 M1385.8,206.0h0.01 M1426.6,209.4h0.01 M1379.3,202.0h0.01 M1385.8,206.3h0.01 M1418.8,211.0h0.01 M1416.4,218.4h0.01 M1368.5,179.5h0.01 M1371.0,205.1h0.01 M1380.2,212.9h0.01 M1369.5,166.0h0.01 M1374.5,201.1h0.01 M1397.7,218.3h0.01 M1390.6,194.5h0.01 M1432.2,177.8h0.01 M1425.1,204.1h0.01 M1417.9,182.9h0.01 M1421.0,174.0h0.01 M1404.0,174.0h0.01 M1370.4,179.9h0.01 M1421.8,179.2h0.01 M1374.5,174.7h0.01 M1373.1,180.1h0.01 M1380.3,203.1h0.01 M1412.7,164.6h0.01 M1413.6,215.3h0.01 M1414.9,163.0h0.01 M1373.4,206.8h0.01 M1392.0,189.8h0.01 M1376.8,190.2h0.01 M1398.0,174.7h0.01 M1396.8,222.7h0.01 M1400.8,195.3h0.01 M1402.9,159.3h0.01 M1399.1,194.4h0.01 M1398.2,160.6h0.01 M1387.4,159.3h0.01 M1405.1,190.3h0.01 M1420.1,182.5h0.01 M1387.8,218.6h0.01 M1368.6,189.6h0.01 M1389.2,166.4h0.01 M1365.7,193.6h0.01 M1406.7,187.2h0.01 M1428.3,173.1h0.01 M1396.6,159.8h0.01 M1406.0,167.8h0.01 M1370.7,177.6h0.01 M1420.4,194.5h0.01 M1378.5,216.7h0.01 M1373.6,205.8h0.01 M1410.8,153.2h0.01 M1403.8,192.4h0.01 M1382.2,159.3h0.01 M1413.5,224.8h0.01 M1383.3,170.1h0.01 M1378.1,206.2h0.01 M1402.6,190.5h0.01 M1397.3,219.7h0.01 M1416.9,194.7h0.01 M1384.9,188.6h0.01 M1418.7,206.4h0.01 M1386.3,218.6h0.01 M1375.2,213.2h0.01 M1413.4,182.3h0.01 M1389.4,195.3h0.01 M1394.0,217.2h0.01 M1419.0,217.1h0.01 M1425.0,170.6h0.01 M1424.7,204.6h0.01 M1408.6,160.1h0.01 M1422.4,211.4h0.01 M1434.2,195.9h0.01 M1399.0,195.3h0.01 M1372.8,217.7h0.01 M1374.1,168.1h0.01 M1398.3,192.1h0.01 M1373.4,180.6h0.01 M1393.0,169.3h0.01 M1375.2,163.6h0.01 M1389.0,158.1h0.01 M1408.0,220.6h0.01 M1374.8,181.2h0.01 M1366.5,198.2h0.01 M1388.4,173.9h0.01 M1379.4,201.7h0.01 M1418.5,162.0h0.01 M1428.4,195.5h0.01 M1383.6,189.2h0.01 M1398.3,154.7h0.01 M1401.1,222.6h0.01 M1410.6,178.4h0.01 M1427.3,192.7h0.01 M1405.2,165.2h0.01 M1422.5,172.9h0.01 M1430.8,198.5h0.01 M1369.1,179.6h0.01 M1425.6,194.7h0.01 M1373.0,200.9h0.01 M1382.7,177.2h0.01 M1390.4,172.2h0.01 M1417.2,185.9h0.01 M1415.6,163.8h0.01 M1383.0,211.9h0.01 M1380.7,165.1h0.01 M1393.1,225.5h0.01 M1364.2,199.8h0.01 M1379.4,213.1h0.01 M1399.5,169.0h0.01 M1420.9,213.6h0.01 M1392.3,225.0h0.01 M1407.8,162.9h0.01 M1393.0,205.0h0.01 M1369.4,194.2h0.01 M1381.6,221.4h0.01 M1384.7,152.9h0.01 M1370.5,208.7h0.01 M1386.2,203.1h0.01 M1384.1,164.5h0.01 M1395.9,217.8h0.01 M1427.9,183.4h0.01 M1397.8,217.9h0.01 M1393.4,224.8h0.01 M1374.6,203.0h0.01 M1396.1,217.0h0.01 M1418.6,181.3h0.01 M1385.3,168.5h0.01 M1363.0,192.6h0.01 M1420.7,216.8h0.01 M1375.2,219.1h0.01 M1404.9,188.4h0.01 M1426.7,196.4h0.01 M1414.8,222.8h0.01 M1386.4,175.7h0.01 M1386.9,215.1h0.01 M1392.3,175.7h0.01 M1381.9,162.8h0.01 M1411.5,175.7h0.01 M1400.4,170.9h0.01 M1368.3,167.7h0.01 M1382.6,199.4h0.01 M1388.9,205.0h0.01 M1401.8,198.2h0.01 M1376.8,158.8h0.01 M1396.6,175.3h0.01 M1395.4,201.4h0.01 M1431.4,192.4h0.01 M1417.9,208.3h0.01 M1402.3,163.7h0.01 M1415.1,184.8h0.01 M1367.1,199.1h0.01 M1387.4,196.2h0.01 M1408.3,162.6h0.01 M1415.9,204.3h0.01 M1410.8,181.0h0.01 M1376.8,172.7h0.01 M1401.1,212.3h0.01 M1422.2,171.3h0.01 M1401.6,222.5h0.01 M1426.6,213.7h0.01 M1431.7,189.8h0.01 M1388.2,203.8h0.01 M1384.7,170.6h0.01 M1376.1,193.0h0.01 M1429.9,189.5h0.01 M1372.8,179.5h0.01 M1426.3,213.4h0.01 M1376.3,214.6h0.01 M1364.8,175.2h0.01 M1363.0,178.8h0.01 M1397.6,215.6h0.01 M1372.2,170.8h0.01 M1392.1,158.1h0.01 M1422.9,205.5h0.01 M1421.2,175.3h0.01 M1371.7,201.6h0.01 M1405.9,228.8h0.01 M1375.1,218.7h0.01 M1383.2,168.8h0.01 M1389.0,162.2h0.01 M1371.9,176.2h0.01 M1403.4,210.5h0.01 M1390.7,158.1h0.01 M1396.3,177.8h0.01 M1396.9,215.0h0.01 M1384.3,189.0h0.01 M1389.0,154.4h0.01 M1366.9,171.5h0.01 M1397.9,208.1h0.01 M1375.2,192.5h0.01 M1404.7,178.1h0.01 M1388.0,157.5h0.01 M1426.6,187.8h0.01 M1395.1,171.8h0.01 M1383.9,205.9h0.01 M1415.4,157.6h0.01 M1381.8,167.2h0.01 M1400.5,203.7h0.01 M1402.6,152.7h0.01 M1389.4,165.9h0.01 M1395.7,195.7h0.01 M1419.3,165.6h0.01 M1414.1,200.1h0.01 M1423.0,218.6h0.01 M1366.6,193.4h0.01 M1381.1,178.7h0.01 M1395.3,217.2h0.01 M1406.5,213.9h0.01 M1403.6,158.8h0.01 M1379.5,191.0h0.01 M1370.8,211.8h0.01 M1398.1,196.1h0.01 M1402.8,209.8h0.01 M1426.1,189.4h0.01 M1384.8,155.4h0.01 M1373.0,196.4h0.01 M1416.9,196.1h0.01 M1372.3,201.4h0.01 M1397.4,218.8h0.01 M1374.1,198.2h0.01 M1368.2,206.4h0.01 M1368.8,185.7h0.01 M1362.7,184.8h0.01 M1396.5,189.0h0.01 M1404.3,203.3h0.01 M1400.9,196.3h0.01 M1422.0,200.0h0.01 M1383.0,180.2h0.01 M1389.0,189.4h0.01 M1405.8,192.0h0.01 M1397.0,204.5h0.01 M1429.5,204.0h0.01 M1388.1,173.1h0.01 M1380.9,205.7h0.01 M1379.4,171.8h0.01 M1425.4,203.9h0.01 M1381.1,213.1h0.01 M1367.4,190.6h0.01 M1421.5,160.7h0.01 M1423.9,176.4h0.01 M1395.2,216.3h0.01 M1398.4,153.3h0.01 M1395.5,162.6h0.01 M1403.1,179.5h0.01 M1378.1,158.4h0.01 M1371.6,163.2h0.01 M1385.1,219.3h0.01 M1380.6,167.8h0.01 M1389.3,186.9h0.01 M1375.1,207.1h0.01 M1376.8,190.2h0.01 M1372.8,193.2h0.01 M1383.5,185.5h0.01 M1415.3,209.7h0.01 M1418.2,218.3h0.01 M1386.4,180.8h0.01 M1420.8,164.9h0.01 M1412.8,182.4h0.01 M1407.1,163.7h0.01 M1388.9,216.1h0.01 M1392.2,226.8h0.01 M1382.1,206.4h0.01 M1419.1,207.5h0.01 M1429.1,174.3h0.01 M1387.4,206.4h0.01 M1414.0,169.2h0.01 M1400.4,183.2h0.01 M1397.0,170.3h0.01 M1378.4,223.6h0.01 M1387.7,174.8h0.01 M1389.6,195.4h0.01 M1376.5,159.9h0.01 M1382.7,208.9h0.01 M1421.3,219.7h0.01 M1390.6,153.7h0.01 M1418.1,176.9h0.01 M1395.7,211.1h0.01 M1397.9,168.0h0.01 M1393.0,194.6h0.01 M1386.1,218.0h0.01 M1409.8,200.5h0.01 M1401.5,211.8h0.01 M1426.6,207.2h0.01 M1402.1,220.7h0.01 M1373.9,219.9h0.01 M1375.1,212.5h0.01 M1419.5,189.2h0.01 M1411.9,199.6h0.01 M1399.6,217.6h0.01 M1398.9,173.4h0.01 M1392.5,210.7h0.01 M1364.4,204.7h0.01 M1401.2,200.4h0.01 M1388.1,211.2h0.01 M1425.4,170.1h0.01 M1404.0,175.5h0.01 M1423.1,166.1h0.01 M1418.4,204.6h0.01 M1410.7,209.3h0.01 M1366.6,197.4h0.01 M1405.7,203.0h0.01 M1430.1,186.7h0.01 M1388.8,179.4h0.01 M1398.6,218.6h0.01 M1413.3,201.8h0.01 M1379.9,208.3h0.01 M1394.7,171.6h0.01 M1391.0,223.8h0.01 M1432.0,198.3h0.01 M1370.6,176.7h0.01 M1374.6,214.1h0.01 M1411.5,217.2h0.01 M1372.7,207.5h0.01 M1385.6,200.9h0.01 M1369.6,207.4h0.01 M1402.2,157.4h0.01 M1376.8,178.0h0.01 M1390.6,210.4h0.01 M1374.8,184.8h0.01 M1405.5,174.4h0.01 M1428.4,211.4h0.01 M1417.3,159.4h0.01 M1416.6,223.0h0.01 M1414.4,183.6h0.01 M1397.9,189.3h0.01 M1380.3,224.0h0.01 M1390.6,183.9h0.01 M1372.0,170.9h0.01 M1395.1,207.0h0.01 M1370.8,188.3h0.01 M1426.2,188.4h0.01 M1373.9,199.7h0.01 M1408.7,192.2h0.01 M1366.0,171.1h0.01 M1387.9,154.0h0.01 M1378.4,160.8h0.01 M1410.3,200.6h0.01 M1389.4,222.1h0.01 M1395.3,160.4h0.01 M1364.2,179.6h0.01 M1378.1,206.9h0.01 M1412.7,164.4h0.01 M1388.4,220.2h0.01 M1391.9,199.4h0.01 M1407.0,201.1h0.01 M1415.9,173.5h0.01 M1399.6,216.6h0.01 M1424.5,169.5h0.01 M1381.9,155.8h0.01 M1421.1,190.5h0.01 M1409.8,154.1h0.01 M1416.7,187.3h0.01 M1369.6,193.3h0.01 M1364.1,191.2h0.01 M1412.7,224.8h0.01 M1380.7,188.4h0.01 M1408.4,193.8h0.01 M1433.6,196.7h0.01 M1427.0,210.7h0.01 M1367.2,177.6h0.01 M1430.3,182.8h0.01 M1374.0,169.3h0.01 M1377.0,199.3h0.01 M1376.9,165.1h0.01 M1371.6,171.1h0.01 M1394.9,208.1h0.01 M1412.5,159.9h0.01 M1378.3,197.9h0.01 M1364.6,175.9h0.01 M1397.7,160.2h0.01 M1392.7,183.5h0.01 M1386.7,220.3h0.01 M1417.7,195.3h0.01 M1425.3,169.1h0.01 M1407.3,184.7h0.01 M1391.2,189.2h0.01 M1388.8,155.6h0.01 M1421.5,191.4h0.01 M1370.8,213.5h0.01 M1380.5,181.9h0.01 M1403.7,157.9h0.01 M1399.3,171.9h0.01 M1372.5,175.5h0.01 M1401.6,171.0h0.01 M1399.2,195.5h0.01 M1386.0,174.0h0.01 M1411.3,201.7h0.01 M1410.3,173.0h0.01 M1411.1,186.4h0.01 M1406.9,193.0h0.01 M1384.8,156.9h0.01 M1421.6,211.9h0.01 M1370.6,176.8h0.01 M1424.5,211.6h0.01 M1391.7,203.9h0.01 M1388.9,155.6h0.01 M1419.1,210.6h0.01 M1370.6,210.5h0.01 M1413.1,154.2h0.01 M1387.7,221.3h0.01 M1420.8,206.7h0.01 M1429.2,183.4h0.01 M1410.0,200.4h0.01 M1416.4,173.3h0.01 M1429.1,207.7h0.01 M1418.8,176.5h0.01 M1389.1,213.9h0.01 M1419.1,198.9h0.01 M1376.4,177.1h0.01 M1420.1,175.3h0.01 M1428.4,173.0h0.01 M1425.2,163.0h0.01 M1416.4,197.5h0.01 M1415.8,171.0h0.01 M1372.2,202.9h0.01 M1424.9,183.8h0.01 M1368.7,176.7h0.01 M1394.3,153.0h0.01 M1380.4,220.9h0.01 M1377.8,170.9h0.01 M1366.8,178.9h0.01 M1379.0,181.2h0.01 M1406.6,155.0h0.01 M1375.7,195.2h0.01 M1418.0,218.6h0.01 M1405.7,221.9h0.01 M1399.4,189.1h0.01 M1376.6,213.7h0.01 M1416.3,187.8h0.01 M1377.5,172.2h0.01 M1421.7,167.7h0.01 M1426.4,187.7h0.01 M1379.9,220.3h0.01 M1417.1,186.0h0.01 M1396.0,199.1h0.01 M1378.8,168.8h0.01 M1396.7,156.9h0.01 M1389.0,178.2h0.01 M1407.9,209.5h0.01 M1413.7,220.9h0.01 M1399.9,158.7h0.01 M1397.7,193.4h0.01 M1414.9,168.1h0.01 M1371.0,207.5h0.01 M1400.3,228.5h0.01 M1394.1,196.7h0.01 M1411.3,174.3h0.01 M1397.5,227.8h0.01 M1394.2,181.6h0.01 M1428.3,172.0h0.01 M1405.0,173.4h0.01 M1383.7,161.2h0.01 M1384.7,177.1h0.01 M1413.9,192.8h0.01 M1408.0,226.4h0.01 M1427.8,188.3h0.01 M1367.3,209.8h0.01 M1377.7,209.5h0.01 M1418.6,192.6h0.01 M1383.9,179.6h0.01 M1386.0,179.0h0.01 M1412.6,221.8h0.01 M1407.5,216.9h0.01 M1408.2,203.0h0.01 M1406.8,169.5h0.01 M1424.0,182.4h0.01 M1394.6,223.5h0.01 M1374.6,170.2h0.01 M1396.1,177.3h0.01 M1401.5,176.5h0.01 M1415.5,200.2h0.01 M1406.5,205.1h0.01 M1374.8,169.3h0.01 M1421.0,171.0h0.01 M1401.4,217.7h0.01 M1392.8,205.6h0.01 M1390.1,208.0h0.01 M1379.0,171.2h0.01 M1402.4,216.4h0.01 M1397.9,166.8h0.01 M1373.4,217.1h0.01 M1409.3,174.1h0.01 M1410.4,205.3h0.01 M1380.1,187.0h0.01 M1396.6,193.2h0.01 M1408.9,172.6h0.01 M1373.9,186.0h0.01 M1389.5,206.1h0.01 M1397.0,190.9h0.01 M1390.4,159.9h0.01 M1396.1,186.5h0.01 M1425.5,207.3h0.01 M1398.2,185.9h0.01 M1403.1,150.8h0.01 M1366.6,177.4h0.01 M1386.8,206.5h0.01 M1392.4,209.0h0.01 M1367.2,175.7h0.01 M1366.5,173.7h0.01 M1391.8,181.5h0.01 M1367.3,209.8h0.01 M1383.1,189.5h0.01 M1394.5,221.8h0.01 M1425.7,191.5h0.01 M1405.1,163.5h0.01 M1366.6,193.2h0.01 M1387.5,220.0h0.01 M1363.0,181.5h0.01 M1404.0,168.7h0.01 M1381.8,211.2h0.01 M1422.9,179.2h0.01 M1395.6,226.7h0.01 M1389.8,184.3h0.01 M1371.9,214.2h0.01 M1424.8,181.3h0.01 M1414.9,186.4h0.01 M1418.5,173.6h0.01 M1411.9,157.8h0.01 M1381.4,202.2h0.01 M1414.3,170.2h0.01 M1399.4,153.5h0.01" stroke="#ff2a3a" stroke-width="2.4" stroke-linecap="round" fill="none" opacity="0.9"/></g>
<path d="M1411.9,204.5 L1410.4,205.0 L1408.8,205.4 L1407.2,205.5 L1405.6,205.3 L1404.0,204.8 L1402.5,204.1 L1401.1,203.2 L1399.7,202.0 L1398.5,200.6 L1397.5,199.0 L1396.7,197.3 L1396.0,195.5 L1395.5,193.5 L1395.2,191.5 L1395.2,189.5 L1395.3,187.5 M1395.5,209.7 L1391.7,213.0 L1386.9,215.2 L1381.7,216.0 L1376.3,215.5 L1371.4,213.6 L1367.4,210.5 L1364.5,206.6 L1363.1,202.0 L1363.3,197.4 L1365.1,192.9 L1368.2,189.1 L1372.5,186.3 L1377.6,184.8 L1382.9,184.6 L1388.1,185.8 L1392.7,188.2 M1361.1,189.3 L1361.7,185.1 L1363.8,181.2 L1367.3,177.9 L1372.0,175.4 L1377.5,173.9 L1383.4,173.5 L1389.2,174.3 L1394.5,176.2 L1398.8,179.0 L1401.9,182.6 L1403.4,186.6 L1403.4,190.7 L1401.7,194.7 L1398.5,198.2 L1394.1,201.0 L1388.8,202.8 M1387.0,186.8 L1388.9,186.2 L1390.9,186.0 L1393.0,186.2 L1394.9,186.7 L1396.7,187.6 L1398.1,188.8 L1399.3,190.2 L1400.1,191.8 L1400.4,193.5 L1400.4,195.3 L1399.9,196.9 L1398.9,198.5 L1397.7,199.8 L1396.1,200.9 L1394.2,201.7 L1392.3,202.1 M1386.8,193.0 L1385.8,191.6 L1385.4,190.0 L1385.4,188.3 L1385.9,186.7 L1386.9,185.3 L1388.3,184.2 L1389.9,183.6 L1391.7,183.4 L1393.4,183.7 L1395.0,184.4 L1396.3,185.5 L1397.2,187.0 L1397.7,188.6 L1397.6,190.3 L1397.1,191.9 L1396.1,193.3 M1410.9,212.2 L1409.5,215.7 L1407.3,218.7 L1404.5,221.0 L1401.3,222.5 L1397.9,222.9 L1394.5,222.4 L1391.3,221.0 L1388.5,218.6 L1386.4,215.6 L1385.0,212.1 L1384.5,208.3 L1384.8,204.4 L1386.1,200.8 L1388.0,197.7 L1390.7,195.2 L1393.8,193.6 M1385.1,209.5 L1383.8,209.7 L1382.4,209.7 L1381.1,209.4 L1379.9,208.9 L1378.7,208.2 L1377.7,207.4 L1376.8,206.3 L1376.0,205.2 L1375.4,203.9 L1375.0,202.5 L1374.8,201.1 L1374.8,199.7 L1375.0,198.3 L1375.3,196.9 L1375.9,195.6 L1376.7,194.4 M1406.0,242.8 L1403.8,242.6 L1401.6,242.1 L1399.5,241.5 L1397.4,240.6 L1395.5,239.6 L1393.6,238.3 L1391.9,236.9 L1390.3,235.3 L1388.8,233.6 L1387.6,231.8 L1386.5,229.8 L1385.6,227.7 L1384.9,225.6 L1384.4,223.4 L1384.1,221.1 L1384.0,218.9 M1387.5,201.4 L1385.0,199.4 L1383.4,196.9 L1382.8,194.1 L1383.2,191.3 L1384.8,188.7 L1387.2,186.6 L1390.3,185.1 L1393.8,184.4 L1397.5,184.6 L1400.9,185.6 L1403.8,187.3 L1405.9,189.5 L1407.1,192.2 L1407.2,195.0 L1406.3,197.8 L1404.3,200.1 M1419.2,178.9 L1423.0,181.1 L1426.0,183.9 L1428.2,187.2 L1429.5,190.7 L1429.8,194.3 L1429.1,197.9 L1427.4,201.3 L1424.9,204.4 L1421.5,207.0 L1417.5,209.0 L1413.1,210.3 L1408.4,210.9 L1403.6,210.8 L1399.0,209.9 L1394.7,208.2 L1390.9,206.0 M1403.8,178.5 L1403.4,182.2 L1402.4,185.7 L1401.0,188.9 L1399.1,191.8 L1396.8,194.3 L1394.2,196.2 L1391.4,197.7 L1388.3,198.5 L1385.3,198.6 L1382.2,198.2 L1379.2,197.1 L1376.5,195.4 L1374.0,193.2 L1371.9,190.5 L1370.2,187.5 L1369.0,184.1 M1415.0,183.9 L1416.3,185.2 L1417.3,186.5 L1418.0,187.9 L1418.6,189.4 L1418.8,190.9 L1418.8,192.3 L1418.6,193.8 L1418.1,195.3 L1417.3,196.7 L1416.3,198.0 L1415.1,199.3 L1413.6,200.4 L1412.0,201.4 L1410.2,202.3 L1408.3,203.1 L1406.2,203.7 M1391.1,208.0 L1389.2,206.6 L1387.4,204.9 L1385.8,202.8 L1384.5,200.5 L1383.5,198.0 L1382.7,195.3 L1382.3,192.5 L1382.2,189.7 L1382.5,186.8 L1383.1,184.1 L1384.0,181.5 L1385.1,179.1 L1386.6,176.9 L1388.3,175.0 L1390.2,173.4 L1392.2,172.2 M1386.7,201.4 L1386.4,200.3 L1386.5,199.2 L1387.0,198.1 L1387.9,197.1 L1389.1,196.3 L1390.5,195.7 L1392.1,195.2 L1393.8,195.1 L1395.6,195.1 L1397.3,195.5 L1398.8,196.0 L1400.1,196.8 L1401.0,197.7 L1401.7,198.7 L1401.9,199.8 L1401.8,201.0 M1409.0,187.9 L1412.4,187.1 L1415.9,186.9 L1419.5,187.3 L1422.8,188.3 L1425.8,189.8 L1428.2,191.8 L1429.9,194.1 L1430.9,196.7 L1431.1,199.4 L1430.5,202.0 L1429.1,204.5 L1427.0,206.7 L1424.3,208.5 L1421.2,209.7 L1417.7,210.4 L1414.2,210.5 M1389.4,161.0 L1394.4,159.3 L1399.6,159.2 L1404.6,160.6 L1409.0,163.4 L1412.4,167.3 L1414.4,172.1 L1415.0,177.2 L1414.0,182.3 L1411.6,186.9 L1407.9,190.6 L1403.3,193.0 L1398.2,194.0 L1393.0,193.5 L1388.2,191.5 L1384.2,188.1 L1381.4,183.8 M1387.6,214.3 L1387.3,212.8 L1387.6,211.4 L1388.3,210.0 L1389.5,208.9 L1391.1,208.0 L1393.0,207.4 L1395.0,207.2 L1397.0,207.4 L1398.8,207.9 L1400.4,208.8 L1401.7,209.9 L1402.5,211.3 L1402.8,212.7 L1402.5,214.2 L1401.8,215.5 L1400.6,216.7 M1418.8,191.6 L1418.0,197.4 L1416.3,202.8 L1413.6,207.5 L1410.2,211.4 L1406.2,214.1 L1401.7,215.6 L1397.2,215.7 L1392.7,214.5 L1388.6,212.0 L1385.0,208.3 L1382.2,203.7 L1380.3,198.4 L1379.4,192.7 L1379.5,186.8 L1380.7,181.1 L1382.9,176.0 M1385.9,207.9 L1384.2,206.6 L1382.8,205.0 L1381.8,203.2 L1381.3,201.2 L1381.3,199.2 L1381.7,197.3 L1382.6,195.4 L1383.9,193.8 L1385.6,192.4 L1387.6,191.4 L1389.8,190.7 L1392.1,190.4 L1394.4,190.5 L1396.7,191.0 L1398.7,192.0 L1400.6,193.2 M1373.8,185.6 L1375.5,180.8 L1378.2,176.6 L1381.7,173.0 L1386.1,170.2 L1390.9,168.4 L1396.1,167.7 L1401.3,168.1 L1406.3,169.5 L1410.8,172.0 L1414.6,175.3 L1417.6,179.4 L1419.6,184.0 L1420.5,188.9 L1420.2,193.9 L1418.9,198.7 L1416.4,203.0 M1392.1,179.2 L1394.6,178.9 L1397.2,178.8 L1399.8,178.9 L1402.3,179.3 L1404.7,179.9 L1406.9,180.7 L1408.9,181.6 L1410.6,182.8 L1412.0,184.1 L1413.2,185.5 L1413.9,187.0 L1414.3,188.5 L1414.3,190.0 L1413.9,191.6 L1413.2,193.1 L1412.1,194.5 M1411.2,183.7 L1411.7,186.3 L1411.8,189.0 L1411.6,191.6 L1411.0,194.3 L1410.2,196.8 L1409.0,199.2 L1407.5,201.4 L1405.8,203.4 L1403.9,205.2 L1401.7,206.8 L1399.4,208.0 L1396.9,209.0 L1394.3,209.6 L1391.7,210.0 L1389.0,209.9 L1386.4,209.6 M1378.7,192.3 L1376.2,189.2 L1374.4,185.6 L1373.6,181.6 L1373.8,177.6 L1374.9,173.7 L1377.0,170.3 L1379.9,167.4 L1383.4,165.3 L1387.3,164.0 L1391.4,163.7 L1395.4,164.4 L1399.2,166.0 L1402.4,168.4 L1405.0,171.6 L1406.7,175.2 L1407.5,179.2 M1388.7,201.2 L1387.0,199.5 L1385.7,197.4 L1384.9,195.2 L1384.6,193.0 L1384.8,190.7 L1385.5,188.4 L1386.7,186.4 L1388.3,184.6 L1390.3,183.0 L1392.7,181.8 L1395.2,181.0 L1397.9,180.7 L1400.6,180.7 L1403.2,181.2 L1405.7,182.2 L1407.9,183.5 M1387.3,205.9 L1384.4,205.2 L1381.5,203.8 L1378.9,201.7 L1376.6,198.9 L1374.8,195.6 L1373.4,191.9 L1372.5,187.8 L1372.1,183.7 L1372.3,179.4 L1373.0,175.4 L1374.3,171.5 L1376.0,168.1 L1378.2,165.1 L1380.7,162.8 L1383.5,161.1 L1386.4,160.2 M1415.7,179.1 L1418.8,177.8 L1422.3,177.2 L1425.7,177.4 L1429.0,178.3 L1432.1,179.9 L1434.6,182.1 L1436.6,184.7 L1437.9,187.7 L1438.5,191.0 L1438.2,194.2 L1437.2,197.3 L1435.5,200.1 L1433.1,202.5 L1430.2,204.3 L1427.0,205.5 L1423.6,205.9 M1400.8,192.6 L1402.3,190.9 L1404.1,189.6 L1406.1,188.7 L1408.1,188.3 L1410.2,188.4 L1412.2,189.1 L1414.1,190.2 L1415.7,191.7 L1417.1,193.6 L1418.1,195.8 L1418.7,198.2 L1418.9,200.7 L1418.7,203.2 L1418.0,205.6 L1417.0,207.8 L1415.7,209.7 M1407.7,192.4 L1407.1,194.0 L1405.9,195.3 L1404.1,196.5 L1402.0,197.2 L1399.6,197.5 L1397.2,197.4 L1394.9,196.8 L1393.0,195.9 L1391.6,194.6 L1390.7,193.1 L1390.5,191.5 L1390.9,190.0 L1392.1,188.6 L1393.7,187.4 L1395.8,186.6 L1398.1,186.2 M1400.4,171.6 L1403.2,173.0 L1405.8,175.1 L1408.0,177.7 L1409.6,180.9 L1410.8,184.4 L1411.3,188.1 L1411.3,191.9 L1410.6,195.5 L1409.4,199.0 L1407.6,202.0 L1405.3,204.6 L1402.7,206.6 L1399.8,207.8 L1396.8,208.4 L1393.7,208.1 L1390.8,207.2 M1410.5,166.6 L1415.1,168.9 L1418.8,172.5 L1421.5,177.3 L1422.8,182.8 L1422.6,188.5 L1420.9,193.8 L1418.0,198.3 L1414.0,201.7 L1409.3,203.5 L1404.4,203.7 L1399.6,202.2 L1395.4,199.1 L1392.2,194.8 L1390.3,189.6 L1389.8,184.0 L1390.8,178.4 M1394.2,190.5 L1394.0,189.0 L1394.1,187.5 L1394.4,186.0 L1395.0,184.6 L1395.7,183.3 L1396.7,182.2 L1397.8,181.3 L1399.0,180.6 L1400.3,180.1 L1401.7,180.0 L1403.1,180.0 L1404.5,180.4 L1405.8,180.9 L1406.9,181.8 L1408.0,182.8 L1408.8,184.0 M1405.7,198.3 L1404.0,198.7 L1402.3,198.8 L1400.6,198.7 L1399.0,198.5 L1397.4,198.0 L1395.9,197.4 L1394.6,196.6 L1393.5,195.7 L1392.6,194.7 L1392.0,193.6 L1391.6,192.4 L1391.5,191.2 L1391.7,190.0 L1392.1,188.9 L1392.8,187.8 L1393.8,186.8 M1379.2,175.6 L1382.2,169.9 L1385.9,165.2 L1390.4,161.7 L1395.3,159.5 L1400.4,158.8 L1405.5,159.7 L1410.4,161.9 L1414.8,165.6 L1418.4,170.4 L1421.3,176.2 L1423.1,182.7 L1423.9,189.6 L1423.5,196.5 L1422.0,203.1 L1419.5,209.2 L1416.1,214.4 M1395.2,201.4 L1393.8,201.0 L1392.5,200.3 L1391.3,199.5 L1390.3,198.4 L1389.4,197.2 L1388.8,195.8 L1388.5,194.3 L1388.4,192.8 L1388.6,191.4 L1389.0,189.9 L1389.6,188.6 L1390.5,187.4 L1391.6,186.4 L1392.8,185.6 L1394.2,185.0 L1395.6,184.7 M1395.6,220.7 L1394.4,222.8 L1393.0,224.8 L1391.5,226.7 L1389.7,228.4 L1387.9,229.8 L1385.9,231.1 L1383.8,232.1 L1381.6,232.9 L1379.4,233.4 L1377.1,233.7 L1374.8,233.8 L1372.5,233.6 L1370.3,233.1 L1368.1,232.4 L1366.0,231.4 L1364.0,230.2 M1402.8,206.8 L1402.4,214.5 L1400.3,221.7 L1396.6,227.8 L1391.8,232.1 L1386.2,234.4 L1380.3,234.3 L1374.7,232.0 L1369.9,227.6 L1366.3,221.5 L1364.2,214.3 L1363.8,206.6 L1365.2,199.1 L1368.3,192.5 L1372.7,187.4 L1378.0,184.2 L1383.8,183.2 M1403.8,200.1 L1402.2,200.8 L1400.5,201.3 L1398.7,201.7 L1396.9,201.8 L1395.1,201.9 L1393.3,201.7 L1391.5,201.4 L1389.8,200.9 L1388.2,200.2 L1386.7,199.5 L1385.4,198.5 L1384.2,197.5 L1383.3,196.4 L1382.5,195.1 L1382.0,193.9 L1381.7,192.6 M1401.6,198.6 L1401.1,199.0 L1400.6,199.4 L1400.1,199.7 L1399.5,200.0 L1399.0,200.1 L1398.4,200.2 L1397.8,200.3 L1397.2,200.2 L1396.7,200.1 L1396.1,199.9 L1395.6,199.6 L1395.0,199.3 L1394.5,198.9 L1394.1,198.4 L1393.6,197.9 L1393.3,197.3 M1392.8,195.7 L1391.7,194.9 L1390.8,193.9 L1390.0,192.8 L1389.4,191.7 L1389.0,190.5 L1388.8,189.2 L1388.8,188.0 L1388.9,186.7 L1389.3,185.5 L1389.8,184.3 L1390.6,183.3 L1391.5,182.3 L1392.5,181.4 L1393.7,180.7 L1394.9,180.1 L1396.3,179.7 M1405.6,202.1 L1403.1,203.2 L1400.3,203.6 L1397.5,203.4 L1394.9,202.7 L1392.5,201.3 L1390.7,199.5 L1389.3,197.4 L1388.7,195.0 L1388.7,192.5 L1389.4,190.1 L1390.8,188.0 L1392.7,186.2 L1395.1,184.9 L1397.8,184.2 L1400.6,184.1 L1403.3,184.6 M1374.4,208.4 L1373.2,207.5 L1372.0,206.4 L1371.0,205.2 L1370.1,203.8 L1369.4,202.3 L1368.8,200.7 L1368.4,199.0 L1368.1,197.3 L1368.1,195.6 L1368.2,193.9 L1368.5,192.2 L1368.9,190.5 L1369.6,189.0 L1370.3,187.5 L1371.3,186.2 L1372.3,185.0 M1403.4,176.2 L1406.6,175.0 L1409.9,175.2 L1413.0,176.6 L1415.7,179.2 L1417.7,182.8 L1418.9,187.0 L1419.2,191.5 L1418.6,195.9 L1417.0,199.9 L1414.7,203.1 L1411.8,205.3 L1408.6,206.3 L1405.3,205.9 L1402.2,204.3 L1399.6,201.5 L1397.7,197.8 M1392.2,193.7 L1391.1,193.5 L1390.0,193.2 L1388.9,192.7 L1388.0,192.1 L1387.1,191.4 L1386.3,190.5 L1385.5,189.6 L1384.9,188.6 L1384.5,187.5 L1384.1,186.4 L1383.9,185.2 L1383.8,184.0 L1383.8,182.8 L1384.0,181.6 L1384.3,180.5 L1384.8,179.3 M1421.8,198.8 L1423.2,201.4 L1423.8,204.2 L1423.6,207.1 L1422.6,209.8 L1420.7,212.3 L1418.1,214.5 L1415.0,216.4 L1411.3,217.7 L1407.4,218.5 L1403.3,218.7 L1399.2,218.3 L1395.3,217.4 L1391.7,215.9 L1388.7,214.0 L1386.3,211.7 L1384.7,209.1 M1405.1,200.7 L1405.4,201.5 L1405.6,202.3 L1405.8,203.2 L1405.9,204.1 L1405.9,205.0 L1405.8,205.9 L1405.6,206.7 L1405.3,207.6 L1405.0,208.4 L1404.6,209.2 L1404.1,209.9 L1403.6,210.6 L1402.9,211.3 L1402.3,211.8 L1401.6,212.4 L1400.8,212.8 M1418.3,180.1 L1423.1,180.7 L1427.3,182.4 L1430.8,184.8 L1433.0,187.9 L1433.8,191.2 L1433.1,194.6 L1431.1,197.7 L1427.8,200.2 L1423.6,201.9 L1418.8,202.7 L1414.0,202.5 L1409.4,201.2 L1405.6,199.1 L1402.9,196.3 L1401.5,193.0 L1401.5,189.6 M1427.1,189.4 L1426.8,191.0 L1426.4,192.5 L1425.7,194.0 L1424.7,195.4 L1423.6,196.8 L1422.3,198.0 L1420.8,199.2 L1419.1,200.2 L1417.3,201.1 L1415.3,201.9 L1413.3,202.5 L1411.2,203.0 L1409.0,203.3 L1406.8,203.4 L1404.5,203.4 L1402.3,203.2 M1375.0,167.7 L1380.3,165.1 L1386.4,163.6 L1392.9,163.4 L1399.2,164.6 L1404.7,167.0 L1408.8,170.5 L1411.2,174.6 L1411.7,179.0 L1410.2,183.3 L1406.8,187.1 L1401.9,190.0 L1396.0,191.8 L1389.5,192.3 L1383.1,191.4 L1377.3,189.3 L1372.8,186.1 M1374.8,171.6 L1375.2,171.0 L1375.6,170.4 L1376.1,169.8 L1376.6,169.3 L1377.2,168.9 L1377.8,168.5 L1378.4,168.1 L1379.1,167.9 L1379.8,167.7 L1380.5,167.6 L1381.2,167.5 L1382.0,167.5 L1382.7,167.6 L1383.4,167.8 L1384.1,168.0 L1384.7,168.3 M1403.9,208.0 L1399.1,209.0 L1394.2,208.4 L1389.7,206.1 L1386.0,202.5 L1383.4,197.8 L1382.2,192.4 L1382.5,186.8 L1384.2,181.6 L1387.2,177.3 L1391.3,174.1 L1396.0,172.5 L1400.9,172.5 L1405.6,174.1 L1409.7,177.3 L1412.7,181.6 L1414.4,186.8 M1371.9,193.5 L1373.2,191.1 L1375.0,188.9 L1377.3,187.1 L1379.9,185.6 L1382.8,184.5 L1385.9,183.9 L1389.1,183.7 L1392.3,184.0 L1395.4,184.8 L1398.2,186.0 L1400.7,187.6 L1402.8,189.5 L1404.5,191.7 L1405.6,194.2 L1406.2,196.7 L1406.2,199.3 M1394.4,172.7 L1398.8,171.6 L1403.3,171.5 L1407.7,172.4 L1411.7,174.1 L1415.0,176.6 L1417.6,179.8 L1419.1,183.4 L1419.5,187.2 L1418.8,190.9 L1417.0,194.4 L1414.2,197.4 L1410.6,199.7 L1406.5,201.2 L1402.1,201.8 L1397.6,201.5 L1393.3,200.2 M1391.3,207.0 L1390.1,206.0 L1389.1,204.8 L1388.4,203.5 L1387.9,202.0 L1387.7,200.5 L1387.8,199.0 L1388.1,197.5 L1388.7,196.1 L1389.5,194.8 L1390.6,193.7 L1391.8,192.8 L1393.2,192.0 L1394.7,191.6 L1396.3,191.4 L1397.9,191.4 L1399.4,191.8 M1404.0,207.2 L1402.0,207.8 L1399.8,208.3 L1397.6,208.6 L1395.4,208.7 L1393.2,208.8 L1390.9,208.7 L1388.7,208.4 L1386.5,208.1 L1384.5,207.5 L1382.5,206.9 L1380.6,206.1 L1378.9,205.2 L1377.3,204.2 L1375.8,203.2 L1374.6,202.0 L1373.6,200.7 M1373.4,202.5 L1375.3,199.4 L1378.4,196.9 L1382.4,195.2 L1386.8,194.6 L1391.3,195.0 L1395.3,196.5 L1398.6,198.9 L1400.8,201.9 L1401.7,205.4 L1401.2,208.8 L1399.3,212.0 L1396.3,214.6 L1392.4,216.3 L1387.9,217.0 L1383.5,216.6 L1379.4,215.2 M1383.0,193.8 L1380.2,190.9 L1378.3,187.4 L1377.5,183.5 L1377.9,179.7 L1379.4,176.0 L1381.8,172.9 L1385.1,170.4 L1389.0,168.9 L1393.1,168.4 L1397.3,168.9 L1401.1,170.5 L1404.4,172.9 L1406.9,176.1 L1408.3,179.7 L1408.6,183.6 L1407.8,187.4 M1392.1,178.3 L1389.7,177.7 L1387.5,176.9 L1385.6,175.9 L1384.0,174.6 L1382.8,173.2 L1382.0,171.7 L1381.7,170.1 L1381.9,168.5 L1382.5,166.9 L1383.6,165.5 L1385.0,164.2 L1386.8,163.0 L1389.0,162.1 L1391.3,161.5 L1393.8,161.1 L1396.4,161.0 M1416.2,193.2 L1417.2,193.8 L1418.1,194.5 L1418.8,195.3 L1419.3,196.2 L1419.6,197.2 L1419.7,198.2 L1419.6,199.1 L1419.2,200.1 L1418.7,201.0 L1418.0,201.8 L1417.1,202.4 L1416.0,203.0 L1414.9,203.4 L1413.7,203.6 L1412.5,203.6 L1411.2,203.5 M1396.7,207.7 L1397.0,209.0 L1397.2,210.3 L1397.2,211.6 L1397.2,212.9 L1397.0,214.3 L1396.6,215.5 L1396.2,216.8 L1395.7,218.0 L1395.0,219.2 L1394.2,220.2 L1393.3,221.2 L1392.4,222.1 L1391.3,222.9 L1390.2,223.6 L1389.1,224.2 L1387.8,224.7 M1395.0,186.7 L1395.9,187.5 L1396.8,188.5 L1397.5,189.4 L1398.1,190.5 L1398.5,191.5 L1398.8,192.6 L1399.0,193.8 L1399.0,194.9 L1398.8,196.0 L1398.5,197.1 L1398.1,198.1 L1397.5,199.2 L1396.8,200.2 L1396.0,201.1 L1395.0,202.0 L1393.9,202.8 M1392.7,195.8 L1391.7,194.1 L1391.0,192.2 L1390.6,190.2 L1390.7,188.3 L1391.2,186.3 L1392.0,184.5 L1393.2,182.9 L1394.6,181.5 L1396.3,180.5 L1398.2,179.7 L1400.2,179.4 L1402.2,179.4 L1404.2,179.9 L1406.1,180.7 L1407.7,181.8 L1409.1,183.2 M1393.7,201.0 L1390.7,199.6 L1388.1,197.4 L1386.1,194.4 L1384.9,191.0 L1384.6,187.3 L1385.1,183.6 L1386.5,180.3 L1388.6,177.4 L1391.2,175.4 L1394.3,174.2 L1397.5,174.0 L1400.7,174.8 L1403.5,176.6 L1405.9,179.2 L1407.5,182.4 L1408.3,185.9 M1382.8,191.0 L1382.8,189.6 L1383.1,188.2 L1383.5,186.9 L1384.3,185.6 L1385.2,184.4 L1386.4,183.3 L1387.8,182.4 L1389.4,181.5 L1391.0,180.8 L1392.8,180.3 L1394.7,180.0 L1396.7,179.8 L1398.6,179.8 L1400.5,180.0 L1402.4,180.4 L1404.2,180.9 M1413.7,184.4 L1415.4,188.0 L1416.5,192.1 L1416.8,196.4 L1416.4,200.7 L1415.3,204.8 L1413.6,208.4 L1411.2,211.4 L1408.4,213.6 L1405.4,214.9 L1402.1,215.2 L1399.0,214.5 L1396.0,212.9 L1393.3,210.3 L1391.2,207.1 L1389.7,203.3 L1388.9,199.1 M1402.2,175.4 L1403.9,175.7 L1405.5,176.2 L1407.1,176.7 L1408.6,177.4 L1410.0,178.1 L1411.4,179.0 L1412.6,179.9 L1413.6,181.0 L1414.6,182.1 L1415.4,183.2 L1416.1,184.5 L1416.6,185.7 L1416.9,187.0 L1417.1,188.4 L1417.1,189.7 L1417.0,191.0 M1401.6,207.3 L1399.5,208.4 L1397.2,208.9 L1394.8,209.0 L1392.5,208.5 L1390.4,207.5 L1388.5,206.0 L1387.1,204.1 L1386.2,202.0 L1385.7,199.7 L1385.9,197.4 L1386.6,195.2 L1387.7,193.2 L1389.4,191.5 L1391.4,190.3 L1393.6,189.5 L1396.0,189.3 M1386.3,198.5 L1384.6,196.4 L1383.3,194.0 L1382.7,191.4 L1382.5,188.8 L1382.9,186.2 L1383.9,183.7 L1385.4,181.4 L1387.3,179.4 L1389.6,177.8 L1392.2,176.5 L1395.0,175.7 L1398.0,175.5 L1400.9,175.7 L1403.8,176.4 L1406.4,177.5 L1408.8,179.1 M1397.3,193.4 L1399.9,189.4 L1403.2,186.4 L1407.0,184.5 L1411.1,183.8 L1415.1,184.4 L1418.9,186.3 L1422.2,189.3 L1424.8,193.3 L1426.6,197.9 L1427.4,203.0 L1427.2,208.1 L1425.9,213.1 L1423.8,217.4 L1420.8,221.0 L1417.2,223.5 L1413.3,224.8 M1406.8,183.7 L1407.3,184.9 L1407.6,186.1 L1407.8,187.3 L1407.7,188.6 L1407.4,189.8 L1407.0,191.0 L1406.3,192.0 L1405.6,193.0 L1404.6,193.9 L1403.6,194.5 L1402.4,195.1 L1401.2,195.4 L1400.0,195.6 L1398.8,195.5 L1397.5,195.3 L1396.3,194.8 M1397.9,176.5 L1400.2,175.3 L1402.7,175.0 L1405.2,175.6 L1407.4,177.1 L1409.2,179.4 L1410.4,182.2 L1410.9,185.3 L1410.7,188.5 L1409.8,191.5 L1408.2,194.0 L1406.2,195.8 L1403.8,196.8 L1401.3,196.9 L1398.8,196.1 L1396.7,194.4 L1395.1,192.0" stroke="#ffd8e8" stroke-width="1.1" fill="none" stroke-opacity="0.8"/>
<g filter="url(#gl2)"><path d="M1380.3,164.1 Q1370.8,154.1 1370.5,140.2 M1419.3,168.1 Q1444.1,159.4 1469.5,152.4 M1414.5,224.1 Q1444.6,233.7 1476.2,235.7 M1364.0,211.5 Q1332.9,229.2 1305.6,252.6 M1443.8,219.4 Q1471.3,218.8 1491.9,237.0 M1427.0,175.4 Q1456.0,176.8 1484.7,173.5 M1434.8,187.6 Q1434.9,174.0 1439.0,161.2 M1407.1,159.4 Q1413.9,157.3 1416.9,150.9 M1367.9,187.7 Q1360.4,167.5 1347.0,150.6 M1401.0,241.6 Q1416.2,265.6 1405.4,291.8 M1410.2,220.4 Q1425.6,228.7 1434.4,244.0 M1433.7,194.9 Q1444.6,193.1 1454.5,198.1 M1407.6,149.4 Q1427.4,124.4 1451.6,103.7 M1410.5,137.9 Q1417.5,110.7 1422.8,83.0 M1359.0,191.7 L1360.3,189.1 L1361.9,186.5 L1363.7,184.1 L1365.6,181.8 L1367.7,179.7 L1370.0,177.8 L1372.4,176.0 L1374.9,174.5 L1377.6,173.1 L1380.3,172.0 L1383.1,171.0 L1386.0,170.3 L1389.0,169.8 L1391.9,169.6 M1401.6,150.2 L1404.9,149.9 L1408.2,149.8 L1411.5,150.0 L1414.7,150.4 L1417.9,151.1 L1421.1,152.0 L1424.2,153.1 L1427.2,154.4 L1430.1,156.0 L1432.8,157.8 L1435.5,159.7 L1437.9,161.9 L1440.3,164.2 L1442.4,166.7 M1440.5,174.6 L1440.2,177.4 L1439.8,180.2 L1439.2,183.0 L1438.4,185.7 L1437.4,188.3 L1436.2,190.9 L1434.9,193.4 L1433.4,195.8 L1431.8,198.2 L1430.0,200.4 L1428.1,202.4 L1426.0,204.4 L1423.9,206.2 L1421.6,207.9 M1405.2,253.7 L1403.1,253.8 L1400.9,253.8 L1398.7,253.7 L1396.5,253.5 L1394.4,253.3 L1392.2,253.0 L1390.1,252.5 L1387.9,252.1 L1385.8,251.5 L1383.8,250.8 L1381.7,250.1 L1379.7,249.3 L1377.7,248.4 L1375.7,247.5 M1376.5,202.8 L1374.7,201.6 L1372.9,200.2 L1371.3,198.8 L1369.7,197.3 L1368.2,195.7 L1366.8,194.0 L1365.4,192.3 L1364.2,190.4 L1363.1,188.5 L1362.0,186.6 L1361.1,184.6 L1360.3,182.6 L1359.6,180.5 L1359.0,178.4 M1430.4,247.6 L1429.1,248.5 L1427.7,249.4 L1426.3,250.3 L1424.8,251.1 L1423.3,251.8 L1421.8,252.5 L1420.3,253.2 L1418.7,253.7 L1417.1,254.3 L1415.5,254.7 L1413.9,255.1 L1412.3,255.5 L1410.7,255.7 L1409.0,256.0 M1368.3,205.1 L1367.6,202.3 L1367.1,199.5 L1366.9,196.6 L1366.8,193.7 L1367.0,190.9 L1367.3,188.0 L1367.9,185.2 L1368.7,182.4 L1369.7,179.7 L1371.0,177.1 L1372.4,174.6 L1373.9,172.2 L1375.7,169.9 L1377.6,167.8 M1453.5,217.3 L1452.2,219.6 L1450.7,221.9 L1449.2,224.1 L1447.5,226.1 L1445.7,228.2 L1443.9,230.1 L1441.9,231.8 L1439.8,233.5 L1437.6,235.1 L1435.4,236.6 L1433.0,237.9 L1430.7,239.1 L1428.2,240.1 L1425.7,241.1 M1413.5,236.9 L1412.1,236.9 L1410.7,236.9 L1409.3,236.8 L1407.9,236.7 L1406.5,236.6 L1405.2,236.4 L1403.8,236.1 L1402.4,235.9 L1401.1,235.6 L1399.7,235.2 L1398.4,234.8 L1397.1,234.4 L1395.8,234.0 L1394.5,233.5 M1442.1,216.8 L1440.0,219.1 L1437.7,221.2 L1435.3,223.2 L1432.9,225.0 L1430.3,226.8 L1427.7,228.3 L1424.9,229.8 L1422.1,231.1 L1419.2,232.2 L1416.3,233.2 L1413.3,234.0 L1410.3,234.6 L1407.2,235.1 L1404.2,235.5 M1445.2,158.4 L1446.3,161.6 L1447.3,164.8 L1448.0,168.1 L1448.6,171.4 L1448.9,174.8 L1449.0,178.1 L1448.9,181.5 L1448.6,184.9 L1448.2,188.2 L1447.5,191.5 L1446.6,194.7 L1445.5,197.9 L1444.2,201.0 L1442.7,204.0 M1401.3,135.9 L1404.3,135.9 L1407.4,136.1 L1410.4,136.5 L1413.4,137.0 L1416.3,137.7 L1419.2,138.5 L1422.1,139.4 L1424.9,140.5 L1427.7,141.8 L1430.4,143.2 L1433.0,144.7 L1435.6,146.4 L1438.0,148.2 L1440.4,150.1 M1300.5,39.0 Q1306.5,56.0 1312.5,73.0 M1345.3,67.7 Q1350.3,57.9 1351.5,46.9 M1242.0,143.3 Q1259.0,144.1 1276.0,144.9 M1513.0,99.0 Q1526.6,92.5 1540.2,86.0 M1210.8,336.1 Q1218.0,300.4 1229.0,265.8 M1263.0,341.3 Q1276.0,333.5 1289.0,325.7 M1250.0,370.0 Q1253.3,379.1 1256.7,388.2 M1242.0,224.0 Q1246.6,216.5 1255.0,213.6 M1268.0,273.6 Q1290.0,269.0 1312.5,268.4 M1497.5,250.0 Q1512.6,251.9 1527.7,253.8 M1360.0,280.0 Q1393.1,270.9 1425.0,258.0 M1440.0,170.0 Q1490.0,156.0 1540.0,142.0 M1442.0,112.0 Q1451.0,106.0 1460.0,100.0 M1458.0,125.0 Q1454.0,137.5 1450.0,150.0 M1325.0,125.0 Q1337.3,151.2 1340.0,180.0 M1312.0,165.0 Q1321.0,162.5 1330.0,160.0 M1345.0,98.0 Q1346.8,91.0 1352.0,86.0 M1330.0,97.0 Q1335.9,96.3 1340.0,92.0 M1470.0,200.0 Q1487.5,202.5 1505.0,205.0 M1478.0,160.0 Q1489.0,165.0 1500.0,170.0 M1400.0,232.0 Q1405.0,244.0 1410.0,256.0 M1372.0,262.0 Q1366.0,255.0 1360.0,248.0 M1450.0,235.0 Q1453.0,248.5 1456.0,262.0 M1468.0,240.0 Q1473.0,260.0 1478.0,280.0 M1350.0,210.0 Q1360.0,214.0 1370.0,218.0 M1455.0,140.0 Q1472.8,139.5 1490.0,135.0 M1475.0,180.0 Q1492.5,172.5 1510.0,165.0" stroke="#3ccfe6" stroke-width="1.9" fill="none" stroke-linecap="round"/></g>
<circle cx="1803.5" cy="190.5" r="167" fill="url(#ge)"/>
<g filter="url(#gl2)"><path d="M1740.8,175.4h0.01 M1821.5,161.2h0.01 M1784.1,162.1h0.01 M1768.3,165.5h0.01 M1893.0,156.3h0.01 M1765.8,269.5h0.01 M1840.1,93.0h0.01 M1684.9,143.5h0.01 M1779.4,232.4h0.01 M1726.7,241.0h0.01 M1672.1,200.1h0.01 M1866.8,288.9h0.01 M1827.1,320.3h0.01 M1890.5,81.5h0.01 M1873.8,106.3h0.01 M1711.4,237.3h0.01 M1819.3,78.0h0.01 M1721.1,208.9h0.01 M1774.4,273.9h0.01 M1754.0,220.4h0.01 M1665.8,228.2h0.01 M1943.6,190.8h0.01 M1756.6,317.9h0.01 M1888.2,230.9h0.01 M1764.3,266.8h0.01 M1743.3,176.4h0.01 M1899.2,142.5h0.01 M1752.3,192.0h0.01 M1890.2,108.0h0.01 M1755.3,83.3h0.01 M1877.7,206.4h0.01 M1734.5,145.0h0.01 M1801.0,74.4h0.01 M1803.4,41.2h0.01 M1865.3,247.0h0.01 M1811.9,228.1h0.01 M1891.4,263.0h0.01 M1905.0,144.3h0.01 M1750.2,300.3h0.01 M1920.6,243.0h0.01 M1868.6,104.5h0.01 M1863.0,142.5h0.01 M1864.8,133.8h0.01 M1808.9,267.1h0.01 M1702.6,146.0h0.01 M1958.9,166.5h0.01 M1842.2,258.9h0.01 M1703.4,147.6h0.01 M1836.0,146.5h0.01 M1803.9,63.0h0.01 M1942.7,191.3h0.01 M1757.7,166.2h0.01 M1726.5,171.9h0.01 M1863.2,152.5h0.01 M1693.5,183.3h0.01 M1733.2,98.1h0.01 M1772.9,141.4h0.01 M1737.9,204.1h0.01 M1883.0,181.1h0.01 M1950.3,235.0h0.01 M1824.3,128.4h0.01 M1746.5,113.7h0.01 M1705.7,231.5h0.01 M1852.9,196.2h0.01 M1751.9,191.0h0.01 M1891.8,110.8h0.01 M1725.1,98.7h0.01 M1897.9,191.1h0.01 M1891.8,249.0h0.01 M1779.7,259.7h0.01 M1733.3,228.5h0.01 M1835.4,88.4h0.01 M1738.5,143.9h0.01 M1823.4,83.3h0.01 M1790.1,320.0h0.01 M1785.6,41.5h0.01 M1807.5,286.0h0.01 M1865.9,312.6h0.01 M1875.8,230.0h0.01 M1832.9,207.9h0.01 M1720.0,135.6h0.01 M1924.4,189.4h0.01 M1855.9,147.6h0.01 M1875.2,114.8h0.01 M1906.7,150.6h0.01 M1798.6,303.6h0.01 M1715.3,116.7h0.01 M1842.3,208.2h0.01 M1751.0,127.9h0.01 M1859.9,239.5h0.01 M1915.2,154.6h0.01 M1751.5,147.8h0.01 M1880.1,68.7h0.01 M1790.0,52.5h0.01 M1807.4,87.2h0.01 M1835.5,122.0h0.01 M1683.7,201.9h0.01 M1780.1,76.3h0.01 M1751.6,94.6h0.01 M1754.9,305.8h0.01 M1750.8,223.4h0.01 M1925.5,252.9h0.01 M1749.2,258.7h0.01 M1703.9,238.4h0.01 M1766.1,144.7h0.01 M1861.4,179.6h0.01 M1765.2,150.4h0.01 M1717.4,205.3h0.01 M1728.9,87.6h0.01 M1796.1,171.3h0.01 M1861.2,260.8h0.01 M1921.3,163.9h0.01 M1763.4,130.8h0.01 M1753.0,91.8h0.01 M1787.7,73.9h0.01 M1698.0,189.3h0.01 M1735.4,272.0h0.01 M1852.2,217.6h0.01 M1769.0,242.6h0.01 M1905.3,117.4h0.01 M1886.0,306.2h0.01 M1735.2,255.1h0.01 M1867.4,266.1h0.01 M1845.4,167.6h0.01 M1870.3,115.6h0.01 M1757.7,300.7h0.01 M1751.7,216.9h0.01 M1906.5,123.2h0.01 M1716.1,203.5h0.01 M1791.5,94.5h0.01 M1941.2,237.6h0.01 M1742.4,280.1h0.01 M1684.1,253.0h0.01 M1877.3,269.0h0.01 M1652.3,225.0h0.01 M1721.5,119.3h0.01 M1795.4,64.8h0.01 M1798.3,247.7h0.01 M1865.2,279.2h0.01 M1897.8,192.5h0.01 M1891.4,103.3h0.01 M1758.8,216.3h0.01 M1877.6,207.6h0.01 M1811.1,155.5h0.01 M1835.3,247.9h0.01 M1736.9,283.6h0.01 M1723.0,111.4h0.01 M1656.4,199.5h0.01 M1771.7,67.5h0.01 M1899.1,244.1h0.01 M1792.5,338.7h0.01 M1852.1,152.1h0.01 M1859.9,128.9h0.01 M1785.2,79.9h0.01 M1792.0,291.8h0.01 M1840.6,70.5h0.01 M1942.9,226.7h0.01 M1760.5,241.2h0.01 M1758.2,161.5h0.01 M1885.9,247.7h0.01 M1787.7,102.2h0.01 M1804.6,289.5h0.01 M1793.9,132.2h0.01 M1896.0,274.1h0.01 M1800.4,198.7h0.01 M1873.6,198.3h0.01 M1821.3,182.4h0.01 M1837.0,104.8h0.01 M1883.5,237.1h0.01 M1757.9,126.3h0.01 M1914.1,105.4h0.01 M1827.7,216.1h0.01 M1828.5,75.4h0.01 M1887.3,290.3h0.01 M1832.8,82.0h0.01 M1836.0,63.5h0.01 M1708.3,174.8h0.01 M1690.7,252.3h0.01 M1697.1,205.8h0.01 M1822.9,325.0h0.01 M1704.1,261.6h0.01 M1852.2,224.5h0.01 M1867.4,264.4h0.01 M1780.1,276.5h0.01 M1817.5,278.2h0.01 M1710.3,238.5h0.01 M1728.4,277.0h0.01 M1898.9,259.5h0.01 M1743.1,81.5h0.01 M1836.9,87.0h0.01 M1888.9,128.8h0.01 M1735.6,270.1h0.01 M1717.6,170.0h0.01 M1815.2,218.3h0.01 M1896.7,277.8h0.01 M1767.0,205.8h0.01 M1834.0,203.6h0.01 M1848.7,80.3h0.01 M1907.0,187.4h0.01 M1847.2,123.2h0.01 M1906.6,241.0h0.01 M1793.7,306.6h0.01 M1911.6,159.5h0.01 M1737.8,145.3h0.01 M1835.0,115.1h0.01 M1826.3,212.3h0.01 M1843.9,315.7h0.01 M1712.5,243.2h0.01 M1861.3,274.1h0.01 M1906.4,136.8h0.01 M1723.6,124.5h0.01 M1891.4,294.8h0.01 M1946.8,152.8h0.01 M1743.5,222.1h0.01 M1757.7,93.7h0.01 M1710.7,141.8h0.01 M1837.9,174.5h0.01 M1833.0,158.3h0.01 M1732.6,208.2h0.01 M1829.3,323.7h0.01 M1771.0,197.5h0.01 M1867.8,93.7h0.01 M1848.4,294.1h0.01 M1815.6,298.2h0.01 M1862.1,76.3h0.01 M1814.1,224.7h0.01 M1678.4,218.8h0.01 M1933.2,261.1h0.01 M1804.2,190.3h0.01 M1862.2,224.4h0.01 M1866.0,306.5h0.01 M1781.6,292.4h0.01 M1813.6,175.0h0.01 M1801.2,345.3h0.01 M1738.3,72.2h0.01 M1785.2,314.8h0.01 M1913.0,238.9h0.01 M1877.2,196.3h0.01 M1768.0,230.5h0.01 M1911.9,264.5h0.01 M1789.8,222.9h0.01 M1681.8,192.7h0.01 M1742.9,247.5h0.01 M1884.4,79.3h0.01 M1682.4,270.5h0.01 M1701.2,245.1h0.01 M1820.3,90.7h0.01 M1712.3,90.4h0.01 M1871.4,150.5h0.01 M1858.5,83.9h0.01 M1716.2,189.7h0.01 M1760.3,283.7h0.01 M1812.7,300.0h0.01 M1790.6,166.0h0.01 M1745.1,56.4h0.01 M1765.7,222.5h0.01 M1800.6,135.2h0.01 M1944.0,156.6h0.01 M1753.3,295.1h0.01 M1783.9,185.0h0.01 M1788.6,68.5h0.01 M1749.5,41.6h0.01 M1947.1,185.1h0.01 M1872.2,117.9h0.01 M1844.9,178.4h0.01 M1921.4,128.7h0.01 M1901.3,245.0h0.01 M1746.1,129.0h0.01 M1868.0,176.3h0.01 M1695.7,112.9h0.01 M1694.0,277.4h0.01 M1898.4,186.4h0.01 M1793.3,67.4h0.01 M1659.6,131.0h0.01 M1784.0,53.2h0.01 M1832.2,193.4h0.01 M1914.8,151.3h0.01 M1666.6,208.6h0.01 M1826.1,245.2h0.01 M1838.3,328.0h0.01 M1864.2,87.1h0.01 M1775.0,294.6h0.01 M1669.1,191.0h0.01 M1794.2,241.6h0.01 M1830.2,189.1h0.01 M1915.1,171.5h0.01 M1769.1,268.1h0.01 M1875.7,108.6h0.01 M1826.9,82.4h0.01 M1836.8,301.3h0.01 M1820.7,231.2h0.01 M1863.4,329.7h0.01 M1870.0,126.3h0.01 M1765.3,302.1h0.01 M1744.2,305.3h0.01 M1827.0,272.6h0.01 M1798.9,266.8h0.01 M1796.3,232.5h0.01 M1857.8,64.9h0.01 M1702.6,83.6h0.01 M1824.7,152.4h0.01 M1703.7,137.8h0.01 M1908.9,251.6h0.01 M1728.0,257.9h0.01 M1731.0,160.6h0.01 M1896.6,292.5h0.01 M1674.8,154.0h0.01 M1908.3,281.7h0.01 M1831.9,65.0h0.01 M1706.6,253.0h0.01 M1940.3,238.8h0.01 M1772.6,343.4h0.01 M1922.0,110.7h0.01 M1833.0,137.7h0.01 M1857.2,233.1h0.01 M1713.6,230.6h0.01 M1800.1,217.0h0.01 M1868.0,126.9h0.01 M1740.6,168.6h0.01 M1770.7,200.8h0.01 M1779.2,284.5h0.01 M1904.9,124.1h0.01 M1899.9,274.3h0.01 M1786.5,302.1h0.01 M1836.5,226.2h0.01 M1707.5,88.3h0.01 M1808.8,327.2h0.01 M1844.1,210.3h0.01 M1802.3,165.2h0.01 M1737.7,154.0h0.01 M1768.1,72.3h0.01 M1843.9,132.6h0.01 M1905.6,199.6h0.01 M1901.1,153.2h0.01 M1712.2,255.1h0.01 M1819.6,215.1h0.01 M1845.6,133.2h0.01 M1746.2,100.5h0.01 M1741.2,254.9h0.01 M1872.3,96.9h0.01 M1847.3,315.9h0.01 M1813.6,249.7h0.01 M1813.7,314.2h0.01 M1776.2,190.2h0.01 M1795.3,322.4h0.01 M1723.6,119.1h0.01 M1700.8,194.7h0.01 M1745.0,317.6h0.01 M1759.8,106.4h0.01 M1917.8,239.3h0.01 M1847.4,293.1h0.01 M1828.8,107.2h0.01 M1798.6,127.9h0.01 M1925.0,95.0h0.01 M1757.2,197.3h0.01 M1802.9,276.3h0.01 M1849.0,171.4h0.01 M1805.6,330.5h0.01 M1824.6,102.7h0.01 M1852.9,253.0h0.01 M1844.4,60.4h0.01 M1866.6,205.9h0.01 M1807.1,162.4h0.01 M1701.6,85.7h0.01 M1848.7,333.5h0.01 M1955.4,228.2h0.01 M1912.4,95.8h0.01 M1771.3,256.8h0.01 M1796.0,133.2h0.01 M1796.7,201.6h0.01 M1886.2,134.7h0.01 M1846.5,206.3h0.01 M1773.9,84.4h0.01 M1948.3,136.1h0.01 M1873.7,299.6h0.01 M1820.7,110.6h0.01 M1760.3,90.8h0.01 M1868.4,248.9h0.01 M1752.0,166.9h0.01 M1776.9,231.5h0.01 M1844.8,208.3h0.01 M1794.7,327.0h0.01 M1840.6,227.3h0.01 M1879.2,285.5h0.01 M1762.0,296.2h0.01 M1840.8,281.3h0.01 M1844.0,149.6h0.01 M1890.8,288.9h0.01 M1805.5,250.2h0.01 M1780.6,105.6h0.01 M1831.5,128.0h0.01 M1836.6,200.0h0.01 M1740.8,142.2h0.01 M1805.2,198.4h0.01 M1710.7,276.7h0.01 M1774.7,64.2h0.01 M1908.1,196.3h0.01 M1705.1,132.7h0.01 M1852.2,112.2h0.01 M1952.9,223.8h0.01 M1844.5,151.5h0.01 M1868.8,223.7h0.01 M1708.4,240.7h0.01 M1817.8,223.6h0.01 M1858.7,296.8h0.01 M1725.5,128.7h0.01 M1760.8,173.0h0.01 M1874.6,114.5h0.01 M1835.9,238.4h0.01 M1826.2,178.6h0.01 M1914.4,92.8h0.01 M1707.2,240.5h0.01 M1821.6,190.8h0.01 M1807.6,62.8h0.01 M1745.1,219.5h0.01 M1787.3,279.0h0.01 M1756.4,250.2h0.01 M1828.7,233.1h0.01 M1906.7,261.2h0.01 M1829.3,236.1h0.01 M1703.3,252.0h0.01 M1788.4,145.9h0.01 M1887.5,129.0h0.01 M1831.1,196.1h0.01 M1775.1,71.6h0.01 M1739.4,250.0h0.01 M1776.0,255.1h0.01 M1819.4,157.7h0.01 M1846.4,56.3h0.01 M1810.4,158.2h0.01 M1914.1,277.5h0.01 M1804.3,168.2h0.01 M1951.9,153.6h0.01 M1792.1,228.8h0.01 M1773.7,261.8h0.01 M1868.0,152.7h0.01 M1754.1,170.9h0.01 M1813.3,229.4h0.01 M1762.0,164.6h0.01 M1653.6,207.0h0.01 M1693.2,140.7h0.01 M1808.6,177.0h0.01 M1800.3,109.4h0.01 M1719.8,112.9h0.01 M1710.7,286.5h0.01 M1926.9,254.2h0.01 M1757.5,136.5h0.01 M1839.5,60.6h0.01 M1739.6,119.7h0.01 M1821.8,235.2h0.01 M1662.9,234.4h0.01 M1785.2,178.5h0.01 M1698.7,204.5h0.01 M1769.2,172.8h0.01 M1793.3,109.0h0.01 M1838.2,240.9h0.01 M1859.8,312.1h0.01 M1860.7,139.0h0.01 M1701.7,249.0h0.01 M1907.5,226.2h0.01 M1736.0,183.0h0.01 M1814.8,135.1h0.01 M1892.2,126.9h0.01 M1888.1,91.8h0.01 M1880.4,88.7h0.01 M1783.4,268.9h0.01 M1923.5,213.9h0.01 M1814.4,214.0h0.01 M1688.2,205.3h0.01 M1780.6,217.0h0.01 M1918.4,155.2h0.01 M1914.4,157.0h0.01 M1764.7,137.5h0.01 M1915.1,156.2h0.01 M1672.1,192.9h0.01 M1691.2,182.1h0.01 M1854.3,131.8h0.01 M1813.4,314.7h0.01 M1781.6,286.4h0.01 M1928.9,213.9h0.01 M1692.7,199.1h0.01 M1842.0,205.4h0.01 M1675.9,192.5h0.01 M1779.7,203.3h0.01 M1784.4,283.9h0.01 M1657.2,237.2h0.01 M1777.7,219.6h0.01 M1716.2,182.8h0.01 M1751.9,277.2h0.01 M1699.5,103.0h0.01 M1911.1,199.6h0.01 M1845.3,185.4h0.01 M1798.4,167.7h0.01 M1755.7,94.6h0.01 M1751.6,330.8h0.01 M1759.1,128.7h0.01 M1771.5,162.4h0.01 M1714.4,316.4h0.01 M1696.2,184.8h0.01 M1822.2,224.5h0.01 M1735.2,318.4h0.01 M1760.0,212.0h0.01 M1696.7,186.0h0.01 M1719.7,175.3h0.01 M1754.7,67.2h0.01 M1801.3,339.9h0.01 M1785.6,265.9h0.01 M1767.5,288.8h0.01 M1728.1,122.7h0.01 M1724.4,251.1h0.01 M1853.9,174.1h0.01 M1790.4,225.3h0.01 M1856.7,243.2h0.01 M1791.6,172.9h0.01 M1899.7,275.9h0.01 M1695.9,240.2h0.01 M1893.5,300.0h0.01 M1790.8,172.4h0.01 M1751.3,72.7h0.01 M1912.6,281.0h0.01 M1784.3,237.4h0.01 M1868.1,250.2h0.01 M1821.1,208.4h0.01 M1806.8,217.0h0.01 M1737.1,110.2h0.01 M1762.4,156.2h0.01 M1726.7,148.7h0.01 M1845.7,239.5h0.01 M1830.7,199.4h0.01 M1861.6,236.4h0.01 M1675.2,188.1h0.01 M1875.9,157.0h0.01 M1846.3,172.4h0.01 M1845.8,287.3h0.01 M1735.9,169.5h0.01 M1754.5,100.2h0.01 M1802.0,99.5h0.01 M1846.9,264.2h0.01 M1697.0,170.4h0.01 M1830.3,97.5h0.01 M1682.5,149.6h0.01 M1649.7,178.2h0.01 M1872.9,237.1h0.01 M1834.8,113.1h0.01 M1868.4,282.4h0.01 M1898.5,263.7h0.01 M1790.5,53.4h0.01 M1737.7,297.2h0.01 M1724.1,156.7h0.01 M1718.2,184.0h0.01 M1837.9,191.0h0.01 M1879.6,99.7h0.01 M1733.4,279.3h0.01 M1759.4,175.3h0.01 M1686.3,139.3h0.01 M1832.3,256.5h0.01 M1867.5,117.1h0.01 M1707.9,102.1h0.01 M1831.3,130.2h0.01 M1798.9,221.1h0.01 M1822.0,166.4h0.01 M1709.4,227.5h0.01 M1922.6,195.8h0.01 M1818.8,187.7h0.01 M1744.7,291.6h0.01 M1799.4,160.6h0.01 M1791.7,198.5h0.01 M1822.4,131.9h0.01 M1800.5,88.3h0.01 M1812.9,327.3h0.01 M1810.2,144.3h0.01 M1783.1,78.0h0.01 M1802.1,230.2h0.01 M1939.1,165.6h0.01 M1730.1,257.7h0.01 M1804.2,137.3h0.01 M1821.7,228.1h0.01 M1786.1,208.6h0.01 M1930.2,268.1h0.01 M1679.3,149.1h0.01 M1733.2,209.4h0.01 M1830.4,165.5h0.01 M1713.5,108.7h0.01 M1725.4,240.5h0.01 M1718.4,238.5h0.01 M1806.4,225.5h0.01 M1919.7,182.9h0.01 M1900.2,248.9h0.01 M1901.5,260.9h0.01 M1771.6,85.8h0.01 M1772.5,117.1h0.01 M1916.8,166.7h0.01 M1832.9,67.6h0.01 M1732.1,167.9h0.01 M1851.7,252.1h0.01 M1793.3,266.0h0.01 M1787.8,231.2h0.01 M1740.0,166.0h0.01 M1928.1,256.1h0.01 M1690.1,219.0h0.01 M1913.7,229.7h0.01 M1769.3,102.7h0.01 M1818.2,87.6h0.01 M1721.6,167.0h0.01 M1680.5,212.2h0.01 M1877.0,266.9h0.01 M1814.8,308.6h0.01 M1862.0,126.7h0.01 M1753.2,275.1h0.01 M1862.4,133.6h0.01 M1699.6,261.5h0.01 M1674.9,184.9h0.01 M1747.5,98.6h0.01 M1656.3,183.4h0.01 M1894.5,255.7h0.01 M1842.5,65.9h0.01 M1815.0,289.2h0.01 M1798.3,78.4h0.01 M1683.9,91.9h0.01 M1777.6,175.6h0.01 M1945.3,198.4h0.01 M1870.2,178.4h0.01 M1754.6,248.2h0.01 M1859.4,153.8h0.01 M1764.4,250.8h0.01 M1775.5,76.0h0.01 M1765.4,42.0h0.01 M1892.2,147.4h0.01 M1898.0,120.0h0.01 M1803.1,269.0h0.01 M1702.5,200.7h0.01 M1912.9,211.0h0.01 M1900.2,232.5h0.01 M1678.9,110.2h0.01 M1880.0,74.6h0.01 M1848.4,102.3h0.01 M1841.2,158.2h0.01 M1700.7,118.0h0.01 M1915.3,129.6h0.01 M1753.9,129.8h0.01 M1678.8,245.8h0.01 M1879.7,191.8h0.01 M1892.2,177.3h0.01 M1818.8,115.8h0.01 M1753.4,205.9h0.01 M1893.1,175.6h0.01 M1692.3,229.7h0.01 M1791.6,139.7h0.01 M1733.8,293.6h0.01 M1883.9,204.0h0.01 M1937.1,197.2h0.01 M1711.6,202.2h0.01 M1928.7,225.3h0.01 M1759.8,155.5h0.01 M1742.3,131.8h0.01 M1746.1,246.9h0.01 M1806.4,261.2h0.01 M1795.3,198.0h0.01 M1839.9,92.2h0.01 M1821.0,149.0h0.01 M1860.3,280.8h0.01 M1865.4,132.5h0.01 M1792.8,143.8h0.01 M1839.0,237.9h0.01 M1891.9,242.9h0.01 M1921.9,170.3h0.01 M1697.8,186.4h0.01 M1734.3,279.4h0.01 M1656.5,180.4h0.01 M1708.8,172.3h0.01 M1774.5,232.7h0.01 M1769.4,305.7h0.01 M1808.7,323.9h0.01 M1844.9,204.2h0.01 M1860.3,305.7h0.01 M1766.8,133.0h0.01 M1890.8,132.2h0.01 M1728.1,173.8h0.01 M1747.9,139.6h0.01 M1872.1,220.3h0.01 M1859.3,334.1h0.01 M1760.2,157.9h0.01 M1771.2,160.2h0.01 M1784.5,117.2h0.01 M1736.4,197.1h0.01 M1896.9,157.3h0.01 M1663.2,172.5h0.01 M1710.8,241.5h0.01 M1756.8,277.8h0.01 M1839.4,69.8h0.01 M1917.7,167.2h0.01 M1734.0,262.6h0.01 M1779.3,154.5h0.01 M1724.9,199.0h0.01 M1791.4,152.2h0.01 M1923.6,237.8h0.01 M1724.0,196.5h0.01 M1680.0,223.5h0.01 M1810.4,76.5h0.01 M1676.8,196.8h0.01 M1925.2,198.2h0.01 M1708.0,286.5h0.01 M1865.7,215.8h0.01 M1747.5,237.1h0.01 M1749.9,157.8h0.01 M1798.4,182.0h0.01 M1875.2,176.0h0.01 M1853.1,146.6h0.01 M1822.4,304.8h0.01 M1810.1,175.7h0.01 M1785.2,280.9h0.01 M1822.7,38.8h0.01 M1662.3,196.5h0.01 M1793.5,118.6h0.01 M1933.3,207.3h0.01 M1889.8,261.6h0.01 M1788.9,337.5h0.01 M1814.6,75.2h0.01 M1798.6,182.1h0.01 M1724.1,146.2h0.01 M1789.0,238.6h0.01 M1846.0,120.5h0.01 M1880.9,161.7h0.01 M1843.7,277.1h0.01 M1853.2,194.6h0.01 M1810.6,286.3h0.01 M1796.9,138.7h0.01 M1765.9,77.0h0.01 M1953.3,141.4h0.01 M1841.6,241.8h0.01 M1773.6,98.2h0.01 M1817.0,272.8h0.01 M1851.8,236.5h0.01 M1932.7,147.9h0.01 M1751.8,301.5h0.01 M1850.2,282.1h0.01 M1892.6,225.9h0.01 M1898.2,179.3h0.01 M1928.1,266.1h0.01 M1900.2,226.6h0.01 M1855.3,238.4h0.01 M1714.1,210.9h0.01 M1734.5,255.6h0.01 M1683.3,272.0h0.01 M1781.7,193.6h0.01 M1794.7,272.1h0.01 M1732.8,122.9h0.01 M1900.8,122.9h0.01 M1820.2,167.5h0.01 M1855.6,111.6h0.01 M1830.4,90.1h0.01 M1889.0,192.0h0.01 M1775.8,105.8h0.01 M1863.8,54.7h0.01 M1709.4,131.8h0.01 M1811.7,158.2h0.01 M1891.1,72.1h0.01 M1765.2,185.0h0.01 M1802.3,256.8h0.01 M1862.9,128.8h0.01 M1867.7,75.4h0.01 M1850.2,196.0h0.01 M1831.1,100.2h0.01 M1864.3,255.5h0.01 M1879.3,210.8h0.01 M1770.0,231.5h0.01 M1734.8,197.7h0.01 M1875.1,168.6h0.01 M1751.8,155.2h0.01 M1678.5,222.7h0.01 M1772.6,114.1h0.01 M1832.7,312.0h0.01 M1813.9,296.4h0.01 M1905.7,239.7h0.01 M1695.7,87.0h0.01 M1788.3,159.5h0.01 M1720.6,134.1h0.01 M1887.4,284.9h0.01 M1857.8,223.4h0.01 M1738.9,240.6h0.01 M1779.8,226.8h0.01 M1790.7,155.5h0.01 M1703.7,220.7h0.01 M1942.0,260.2h0.01 M1715.2,230.1h0.01 M1761.5,118.8h0.01 M1746.0,151.1h0.01 M1780.3,216.5h0.01 M1701.4,256.2h0.01 M1697.3,103.8h0.01 M1739.7,114.0h0.01 M1794.2,276.4h0.01 M1758.9,152.6h0.01 M1893.4,230.0h0.01 M1849.9,222.1h0.01 M1839.8,155.0h0.01 M1770.1,68.3h0.01 M1691.4,103.9h0.01 M1903.9,206.2h0.01 M1856.9,272.2h0.01 M1764.6,216.3h0.01 M1833.3,195.6h0.01 M1909.5,98.1h0.01 M1804.6,228.6h0.01 M1660.5,160.2h0.01 M1859.3,136.6h0.01 M1699.3,190.6h0.01 M1852.5,170.8h0.01 M1752.7,204.5h0.01 M1829.8,214.7h0.01 M1825.5,88.6h0.01 M1796.2,186.1h0.01 M1935.8,166.8h0.01 M1777.7,79.1h0.01 M1807.0,347.1h0.01 M1878.0,169.3h0.01 M1752.1,309.1h0.01 M1841.1,50.7h0.01 M1701.8,177.2h0.01 M1851.5,182.4h0.01 M1839.1,212.7h0.01 M1884.6,273.0h0.01 M1873.8,242.5h0.01 M1719.9,147.7h0.01 M1939.8,174.6h0.01 M1884.0,259.8h0.01 M1773.7,77.5h0.01 M1786.2,127.9h0.01 M1768.6,264.0h0.01 M1788.9,238.7h0.01 M1742.7,247.7h0.01 M1863.0,233.3h0.01 M1697.0,226.6h0.01 M1930.4,159.1h0.01 M1789.4,220.1h0.01 M1820.7,196.5h0.01 M1755.5,141.6h0.01 M1819.2,311.7h0.01 M1865.5,106.4h0.01 M1774.2,258.9h0.01 M1767.2,222.2h0.01 M1889.1,157.0h0.01 M1812.5,157.4h0.01 M1784.8,224.7h0.01 M1701.7,183.3h0.01 M1914.8,278.7h0.01 M1880.2,158.3h0.01 M1863.9,115.3h0.01 M1714.1,245.8h0.01 M1742.7,229.0h0.01 M1797.7,315.1h0.01 M1846.5,150.1h0.01 M1895.8,181.9h0.01 M1786.1,163.4h0.01 M1823.2,259.5h0.01 M1841.4,116.5h0.01 M1680.1,233.8h0.01 M1758.5,273.6h0.01 M1758.2,288.1h0.01 M1893.7,98.0h0.01 M1756.1,192.4h0.01 M1688.2,204.7h0.01 M1806.5,258.4h0.01 M1837.8,151.5h0.01 M1768.9,73.4h0.01 M1812.1,246.5h0.01 M1902.8,212.7h0.01 M1855.4,142.4h0.01 M1910.1,157.1h0.01 M1860.3,302.0h0.01 M1791.4,141.7h0.01 M1763.6,244.5h0.01 M1776.9,329.0h0.01 M1848.8,240.8h0.01 M1883.7,217.8h0.01 M1844.7,266.8h0.01 M1888.5,231.9h0.01 M1775.1,181.9h0.01 M1794.2,250.5h0.01 M1799.0,297.4h0.01 M1927.4,150.2h0.01 M1797.4,158.4h0.01 M1789.3,154.4h0.01 M1776.3,107.4h0.01 M1785.9,259.5h0.01 M1668.4,159.6h0.01 M1873.1,299.1h0.01 M1741.9,190.6h0.01 M1658.6,175.9h0.01 M1700.7,132.2h0.01 M1704.5,228.6h0.01 M1785.3,241.9h0.01 M1658.9,184.3h0.01 M1812.4,171.6h0.01 M1724.5,175.9h0.01 M1877.4,224.4h0.01 M1730.6,183.0h0.01 M1714.5,268.2h0.01 M1740.2,224.4h0.01 M1848.0,325.8h0.01 M1787.3,225.3h0.01 M1786.6,213.0h0.01 M1782.1,152.8h0.01 M1822.1,153.8h0.01 M1791.0,130.5h0.01 M1844.3,228.6h0.01 M1782.9,102.3h0.01 M1862.1,154.3h0.01 M1761.5,122.2h0.01 M1773.8,224.6h0.01 M1753.1,196.9h0.01 M1742.1,110.8h0.01 M1802.8,102.9h0.01 M1879.1,259.4h0.01 M1681.3,101.5h0.01 M1729.3,208.8h0.01 M1734.5,265.6h0.01 M1804.9,142.5h0.01 M1806.8,266.4h0.01 M1655.6,168.2h0.01 M1770.1,154.7h0.01 M1795.4,157.6h0.01 M1725.6,121.1h0.01 M1690.1,200.9h0.01 M1689.4,201.7h0.01 M1785.1,127.7h0.01 M1826.7,159.5h0.01 M1672.7,125.7h0.01 M1805.4,171.9h0.01 M1889.8,130.1h0.01 M1886.5,270.1h0.01 M1913.2,154.0h0.01 M1878.5,177.2h0.01 M1910.5,154.3h0.01 M1695.6,182.8h0.01 M1843.7,95.0h0.01 M1825.5,95.2h0.01 M1698.9,205.7h0.01 M1850.6,313.6h0.01 M1864.2,71.8h0.01 M1673.2,252.5h0.01 M1812.2,195.2h0.01 M1738.6,171.9h0.01 M1747.2,155.8h0.01 M1812.8,40.1h0.01 M1779.4,38.5h0.01 M1862.1,289.1h0.01 M1721.8,86.8h0.01 M1750.7,219.8h0.01 M1753.8,211.5h0.01 M1824.0,187.0h0.01 M1835.5,129.9h0.01 M1816.4,91.2h0.01 M1695.7,140.8h0.01 M1806.9,209.4h0.01 M1825.2,139.2h0.01 M1798.6,62.7h0.01 M1868.6,277.3h0.01 M1840.8,62.9h0.01 M1883.7,210.6h0.01 M1843.7,232.8h0.01 M1663.6,196.2h0.01 M1751.1,143.3h0.01 M1932.6,160.5h0.01 M1797.6,149.2h0.01 M1851.1,245.0h0.01 M1857.2,44.5h0.01 M1720.9,283.6h0.01 M1829.9,262.3h0.01 M1704.0,115.4h0.01 M1719.8,141.7h0.01 M1827.6,138.7h0.01 M1747.0,184.7h0.01 M1815.9,193.7h0.01 M1896.4,226.2h0.01 M1734.4,215.2h0.01 M1844.8,167.7h0.01 M1815.1,220.7h0.01 M1689.5,257.9h0.01 M1666.3,193.0h0.01 M1696.1,295.2h0.01 M1863.1,50.4h0.01 M1849.2,135.9h0.01 M1707.3,152.9h0.01 M1801.1,156.3h0.01 M1713.7,123.8h0.01 M1900.7,134.0h0.01 M1818.0,44.7h0.01 M1768.2,216.3h0.01 M1886.9,202.7h0.01 M1823.7,253.4h0.01 M1895.5,177.4h0.01 M1676.2,185.7h0.01 M1728.9,183.1h0.01 M1772.8,207.4h0.01 M1794.3,263.8h0.01 M1782.0,307.7h0.01 M1901.8,216.4h0.01 M1906.7,176.1h0.01 M1802.2,239.3h0.01 M1949.7,181.9h0.01 M1907.0,148.6h0.01 M1713.0,302.5h0.01 M1748.1,141.5h0.01 M1764.6,115.6h0.01 M1797.9,211.8h0.01 M1664.2,233.5h0.01 M1934.1,248.0h0.01 M1813.0,68.2h0.01 M1852.9,207.3h0.01 M1900.9,66.0h0.01 M1720.1,144.5h0.01 M1784.0,97.7h0.01 M1819.9,111.3h0.01 M1754.5,247.8h0.01 M1835.4,91.9h0.01 M1773.3,260.3h0.01 M1894.7,241.6h0.01 M1726.5,281.4h0.01 M1891.9,223.2h0.01 M1813.3,238.3h0.01 M1797.8,267.0h0.01 M1815.1,130.9h0.01 M1896.9,230.6h0.01 M1806.0,139.4h0.01 M1891.1,303.5h0.01 M1812.8,327.6h0.01 M1869.9,157.2h0.01 M1712.4,145.7h0.01 M1845.0,126.9h0.01 M1744.6,131.1h0.01 M1808.4,103.2h0.01 M1852.1,244.1h0.01 M1718.1,161.2h0.01 M1820.8,266.6h0.01 M1763.9,108.6h0.01 M1666.7,251.2h0.01 M1850.6,199.4h0.01 M1821.1,306.2h0.01 M1845.9,219.0h0.01 M1843.4,190.8h0.01 M1715.6,147.3h0.01 M1824.7,280.4h0.01 M1895.2,301.7h0.01 M1891.2,270.0h0.01 M1737.1,84.5h0.01 M1959.0,178.1h0.01 M1925.8,183.1h0.01 M1898.6,285.7h0.01 M1876.4,250.6h0.01" stroke="#ff2424" stroke-width="3.6" stroke-linecap="round" fill="none"/></g>
<g filter="url(#gl1)"><path d="M1771.3,201.2 Q1760.3,209.8 1747.2,214.4 M1848.9,116.4 Q1858.9,131.3 1868.4,146.5 M1794.1,93.4 Q1788.7,87.7 1784.0,81.4 M1791.9,89.3 Q1798.0,86.6 1803.9,83.4 M1908.7,259.3 Q1913.0,266.6 1914.6,274.9 M1893.5,188.6 Q1887.5,176.6 1883.9,163.7 M1686.9,186.7 Q1669.5,192.7 1651.5,197.0 M1841.2,172.3 Q1856.4,184.0 1871.7,195.6 M1914.3,251.9 Q1916.3,262.6 1918.4,273.4 M1738.6,237.1 Q1723.4,241.2 1707.8,243.9 M1856.4,190.7 Q1851.5,182.9 1844.7,176.6 M1724.0,157.1 Q1718.9,162.7 1717.4,170.3 M1912.3,224.8 Q1904.4,224.7 1896.7,223.2 M1719.4,185.9 Q1708.9,192.3 1699.1,199.5 M1723.8,132.3 Q1734.8,130.5 1745.2,126.7 M1754.5,115.0 Q1765.9,127.6 1774.6,142.1 M1871.5,277.3 Q1886.7,284.2 1902.1,290.9 M1742.0,228.1 Q1737.2,245.3 1730.9,262.0 M1854.8,127.2 Q1838.8,132.1 1823.7,139.3 M1866.5,290.9 Q1874.9,287.5 1883.4,284.5 M1835.0,139.2 Q1825.1,128.7 1815.0,118.5 M1871.6,230.3 Q1879.6,228.0 1887.8,226.2 M1714.9,206.9 Q1728.7,211.4 1741.3,204.1 M1780.9,180.6 Q1797.4,188.5 1810.6,201.1 M1761.0,304.0 Q1760.8,318.2 1760.5,332.3 M1734.6,140.1 Q1725.6,135.2 1715.9,131.8 M1711.9,189.9 Q1704.7,180.7 1697.2,171.7 M1817.7,278.9 Q1801.3,275.7 1784.7,273.8 M1902.8,157.4 Q1904.1,137.7 1904.8,118.0 M1853.9,299.2 Q1861.0,314.4 1867.6,329.7 M1839.7,216.4 Q1847.2,211.2 1856.3,209.5 M1826.3,113.7 Q1832.7,122.5 1840.2,130.3 M1897.3,198.6 Q1895.8,179.5 1893.1,160.5 M1823.9,163.4 Q1815.4,166.5 1807.0,169.9 M1738.4,255.1 Q1753.6,252.2 1768.5,248.3 M1863.0,231.4 Q1879.3,222.2 1895.1,212.0 M1810.3,114.7 Q1807.6,101.6 1800.2,90.4 M1807.0,137.2 Q1812.2,131.8 1817.6,126.5 M1821.1,299.2 Q1810.1,305.6 1801.4,314.9 M1828.3,200.3 Q1838.3,198.1 1848.1,201.3 M1856.1,99.5 Q1839.8,97.8 1823.5,96.4 M1847.7,280.4 Q1845.1,261.6 1843.1,242.7 M1836.8,278.4 Q1836.4,291.1 1840.7,303.1 M1879.9,113.5 Q1868.9,104.0 1856.0,97.3 M1878.3,124.2 Q1871.1,127.3 1863.9,129.9 M1734.8,162.3 Q1731.5,150.4 1731.6,138.0 M1813.3,256.9 Q1814.8,262.9 1814.6,269.1 M1706.2,267.2 Q1691.5,268.0 1677.0,266.0" stroke="#c4f2fa" stroke-width="1.4" fill="none" stroke-opacity="0.85" stroke-linecap="round"/></g>
<g filter="url(#gl2)"><path d="M1668.0,345.0 Q1682.0,327.5 1696.0,310.0 M1670.0,300.0 Q1702.5,281.0 1735.0,262.0 M1695.0,255.0 Q1713.7,237.0 1735.0,222.0 M1745.0,45.0 Q1759.5,54.3 1770.0,68.0 M1898.0,118.0 Q1906.5,126.5 1915.0,135.0 M1925.0,115.0 Q1930.0,122.5 1935.0,130.0 M1885.0,115.0 Q1892.5,116.5 1900.0,118.0 M1662.0,140.0 Q1666.4,136.6 1672.0,137.0 M1666.0,205.0 Q1665.0,213.7 1668.0,222.0 M1930.0,342.0 Q1968.1,346.1 2005.0,356.0 M1978.0,52.0 Q1983.7,57.5 1986.0,65.0 M1668.0,390.0 Q1673.0,381.0 1678.0,372.0 M1885.0,210.0 Q1910.0,206.0 1935.0,202.0 M1838.0,120.0 Q1844.0,119.0 1850.0,118.0 M1880.0,85.0 Q1885.0,86.5 1890.0,88.0 M1827.0,78.0 Q1835.1,77.4 1842.0,73.0 M1775.0,102.0 Q1782.5,96.0 1790.0,90.0" stroke="#40d4ea" stroke-width="2.4" fill="none" stroke-linecap="round"/></g>
<text transform="translate(12.2,44.6) scale(0.94,1)" font-size="39.5" font-weight="bold" fill="#fff">a</text>
<text transform="translate(424.4,44.6) scale(0.94,1)" font-size="39.5" font-weight="bold" fill="#fff">b</text>
<text transform="translate(821.8,44.6) scale(0.94,1)" font-size="39.5" font-weight="bold" fill="#fff">c</text>
<text transform="translate(1223.4,44.6) scale(0.94,1)" font-size="39.5" font-weight="bold" fill="#fff">d</text>
<text transform="translate(1624.2,44.6) scale(0.94,1)" font-size="39.5" font-weight="bold" fill="#fff">e</text>
<text transform="translate(200.1,462.8) scale(0.95,1)" text-anchor="middle" font-size="36" font-weight="bold" fill="#fff">0 ps</text>
<text transform="translate(600,462.8) scale(0.95,1)" text-anchor="middle" font-size="36" font-weight="bold" fill="#fff">25 ps</text>
<text transform="translate(998,462.8) scale(0.95,1)" text-anchor="middle" font-size="36" font-weight="bold" fill="#fff">1.25 ns</text>
<text transform="translate(1398,462.8) scale(0.95,1)" text-anchor="middle" font-size="36" font-weight="bold" fill="#fff">5 ns</text>
<text transform="translate(1800.2,462.8) scale(0.95,1)" text-anchor="middle" font-size="36" font-weight="bold" fill="#fff">17.5 ns</text>
<text x="111.2" y="128.2" font-size="35" fill="#fff">ρ ~ 2</text>
<text x="189.2" y="127" font-size="29" fill="#fff">×</text>
<text x="201.6" y="128.2" font-size="35" fill="#fff">10</text>
<text x="240.2" y="117.6" font-size="24.5" fill="#fff">20</text>
<text x="274.8" y="128.2" font-size="35" fill="#fff">m</text>
<text x="303.6" y="117.6" font-size="24.5" fill="#fff">-3</text>
<text x="229" y="289.6" font-size="34.4" fill="#fff">T<tspan dx="-5.5" dy="8" font-size="24">e</tspan><tspan dy="-8"> ~ 5250 K</tspan></text>
<text x="232.5" y="344" font-size="34.4" fill="#fff">Γ<tspan dx="-1" dy="8" font-size="24">i</tspan><tspan dy="-8"> ~ 4800</tspan></text>
<text x="26" y="354.4" font-size="34.4" fill="#fff">10 μm</text>
<rect x="41" y="369.6" width="65" height="6.4" fill="#fff"/>
<text x="625.6" y="92.5" font-size="34.5" fill="#4ee6ee">Electrons</text>
<text x="503" y="305" font-size="34.5" fill="#e2353a">Ions</text>
<text x="1733" y="393.6" font-size="34.4" fill="#fff">T<tspan dx="-5.5" dy="8" font-size="24">e</tspan><tspan dy="-8"> ~ 100 K</tspan></text>
<path d="M178.0,601.4 L180.5,601.1 L183.0,601.1 L185.5,601.1 L188.0,601.4 L190.4,601.7 L192.9,602.3 L195.4,603.0 L197.9,603.9 L200.4,604.9 L202.9,606.1 L205.4,607.5 L207.9,609.0 L210.3,610.7 L212.8,612.5 L215.3,614.6 L217.8,616.7 L220.3,619.1 L222.8,621.6 L225.3,624.2 L227.8,627.1 L230.3,630.0 L232.7,633.1 L235.2,636.3 L237.7,639.5 L240.2,642.9 L242.7,646.3 L245.2,649.8 L247.7,653.3 L250.2,656.9 L252.6,660.5 L255.1,664.1 L257.6,667.7 L260.1,671.2 L262.6,674.8 L265.1,678.2 L267.6,681.7 L270.1,685.0 L272.6,688.3 L275.0,691.4 L277.5,694.5 L280.0,697.5 L282.5,700.3 L285.0,703.0 L287.5,705.6 L290.0,708.1 L292.5,710.4 L294.9,712.6 L297.4,714.6 L299.9,716.5 L302.4,718.2 L304.9,719.7 L307.4,721.1 L309.9,722.3 L312.4,723.4 L314.9,724.2 L317.3,724.9 L319.8,725.4 L322.3,725.8 L324.8,726.0 L327.3,726.0 L329.8,725.9 L332.3,725.7 L334.8,725.3 L337.3,724.8 L339.7,724.2 L342.2,723.5 L344.7,722.7 L347.2,721.8 L349.7,720.8 L352.2,719.8 L354.7,718.7 L357.2,717.5 L359.6,716.4 L362.1,715.2 L364.6,713.9 L367.1,712.7 L369.6,711.4 L372.1,710.2 L374.6,708.9 L377.1,707.7 L379.6,706.4 L382.0,705.2 L384.5,704.0 L387.0,702.8 L389.5,701.6 L392.0,700.5 L394.5,699.4 L397.0,698.4 L399.5,697.4 L401.9,696.4 L404.4,695.5 L406.9,694.7 L409.4,693.9 L411.9,693.2 L414.4,692.6 L416.9,692.0 L419.4,691.6 L421.9,691.2 L424.3,690.9 L426.8,690.7 L429.3,690.6 L431.8,690.6 L434.3,690.7 L436.8,690.9 L439.3,691.2 L441.8,691.5 L444.2,691.9 L446.7,692.4 L449.2,692.9 L451.7,693.5 L454.2,694.1 L456.7,694.8 L459.2,695.5 L461.7,696.2 L464.2,696.9 L466.6,697.6 L469.1,698.4 L471.6,699.1 L474.1,699.8 L476.6,700.5 L479.1,701.2 L481.6,701.9 L484.1,702.5 L486.5,703.1 L489.0,703.7 L491.5,704.2 L494.0,704.7 L496.5,705.2 L499.0,705.6 L501.5,705.9 L504.0,706.3 L506.5,706.5 L508.9,706.7 L511.4,706.8 L513.9,706.9 L516.4,706.9 L518.9,706.8 L521.4,706.7 L523.9,706.5 L526.4,706.2 L528.8,705.9 L531.3,705.6 L533.8,705.2 L536.3,704.7 L538.8,704.2 L541.3,703.7 L543.8,703.2 L546.3,702.6 L548.8,702.0 L551.2,701.4 L553.7,700.8 L556.2,700.2 L558.7,699.6 L561.2,699.0 L563.7,698.4 L566.2,697.8 L568.7,697.3 L571.2,696.7 L573.6,696.2 L576.1,695.7 L578.6,695.2 L581.1,694.8 L583.6,694.3 L586.1,693.9 L588.6,693.5 L591.1,693.2 L593.5,692.9 L596.0,692.6 L598.5,692.3 L601.0,692.1 L603.5,691.9 L606.0,691.7 L608.5,691.6 L611.0,691.5 L613.5,691.5 L615.9,691.5 L618.4,691.6 L620.9,691.7 L623.4,691.8 L625.9,691.9 L628.4,692.1 L630.9,692.3 L633.4,692.6 L635.8,692.9 L638.3,693.2 L640.8,693.5 L643.3,693.9 L645.8,694.3 L648.3,694.7 L650.8,695.1 L653.3,695.5 L655.8,696.0 L658.2,696.5 L660.7,696.9 L663.2,697.4 L665.7,698.0 L668.2,698.5 L670.7,699.0 L673.2,699.5 L675.7,700.1 L678.1,700.6 L680.6,701.2 L683.1,701.7 L685.6,702.2 L688.1,702.8 L690.6,703.3 L693.1,703.8 L695.6,704.4 L698.1,704.9 L700.5,705.4 L703.0,705.9 L705.5,706.3 L708.0,706.8 L710.5,707.2 L713.0,707.7 L715.5,708.1 L718.0,708.4 L720.4,708.8 L722.9,709.1 L725.4,709.4 L727.9,709.7 L730.4,710.0 L732.9,710.2 L735.4,710.4 L737.9,710.6 L740.4,710.7 L742.8,710.8 L745.3,710.8 L747.8,710.8 L750.3,710.8 L752.8,710.8 L755.3,710.7 L757.8,710.6 L760.3,710.5 L762.7,710.3 L765.2,710.1 L767.7,709.9 L770.2,709.7 L772.7,709.4 L775.2,709.1 L777.7,708.8 L780.2,708.5 L782.7,708.2 L785.1,707.8 L787.6,707.5 L790.1,707.1 L792.6,706.7 L795.1,706.3 L797.6,705.9 L800.1,705.5 L802.6,705.1 L805.1,704.7 L807.5,704.3 L810.0,703.9 L812.5,703.4 L815.0,703.0 L817.5,702.6 L820.0,702.2 L822.5,701.8 L825.0,701.3 L827.4,700.9 L829.9,700.5 L832.4,700.1 L834.9,699.7 L837.4,699.4 L839.9,699.0 L842.4,698.6 L844.9,698.3 L847.4,697.9 L849.8,697.6 L852.3,697.3 L854.8,697.0 L857.3,696.7 L859.8,696.4 L862.3,696.2 L864.8,695.9 L867.3,695.7 L869.7,695.5 L872.2,695.3 L874.7,695.1 L877.2,695.0 L879.7,694.9 L882.2,694.8 L884.7,694.7 L887.2,694.6 L889.7,694.6 L892.1,694.6 L894.6,694.6 L897.1,694.7 L899.6,694.8 L902.1,694.9 L904.6,695.0 L907.1,695.2 L909.6,695.4 L912.0,695.6 L914.5,695.9 L917.0,696.2 L919.5,696.6 L922.0,696.9" fill="none" stroke="#086e8e" stroke-width="7" stroke-linejoin="round" stroke-linecap="butt"/>
<path d="M178.0,602.2 L180.5,602.6 L183.0,603.4 L185.5,604.5 L188.0,606.1 L190.4,608.0 L192.9,610.3 L195.4,612.8 L197.9,615.7 L200.4,618.9 L202.9,622.2 L205.4,625.9 L207.9,629.7 L210.3,633.7 L212.8,637.9 L215.3,642.2 L217.8,646.6 L220.3,651.1 L222.8,655.7 L225.3,660.4 L227.8,665.1 L230.3,669.8 L232.7,674.5 L235.2,679.3 L237.7,684.1 L240.2,688.8 L242.7,693.6 L245.2,698.3 L247.7,702.9 L250.2,707.6 L252.6,712.1 L255.1,716.6 L257.6,721.0 L260.1,725.3 L262.6,729.5 L265.1,733.5 L267.6,737.5 L270.1,741.3 L272.6,744.9 L275.0,748.4 L277.5,751.8 L280.0,755.0 L282.5,758.0 L285.0,760.9 L287.5,763.6 L290.0,766.2 L292.5,768.7 L294.9,771.0 L297.4,773.2 L299.9,775.3 L302.4,777.2 L304.9,779.0 L307.4,780.7 L309.9,782.3 L312.4,783.8 L314.9,785.1 L317.3,786.4 L319.8,787.5 L322.3,788.6 L324.8,789.6 L327.3,790.4 L329.8,791.2 L332.3,791.9 L334.8,792.6 L337.3,793.1 L339.7,793.6 L342.2,794.0 L344.7,794.3 L347.2,794.6 L349.7,794.8 L352.2,795.0 L354.7,795.1 L357.2,795.1 L359.6,795.1 L362.1,795.1 L364.6,795.0 L367.1,794.9 L369.6,794.8 L372.1,794.6 L374.6,794.4 L377.1,794.2 L379.6,793.9 L382.0,793.7 L384.5,793.4 L387.0,793.2 L389.5,792.9 L392.0,792.7 L394.5,792.5 L397.0,792.2 L399.5,792.0 L401.9,791.9 L404.4,791.7 L406.9,791.6 L409.4,791.5 L411.9,791.5 L414.4,791.5 L416.9,791.6 L419.4,791.6 L421.9,791.8 L424.3,792.0 L426.8,792.2 L429.3,792.4 L431.8,792.7 L434.3,793.0 L436.8,793.4 L439.3,793.7 L441.8,794.1 L444.2,794.5 L446.7,795.0 L449.2,795.5 L451.7,796.0 L454.2,796.5 L456.7,797.0 L459.2,797.5 L461.7,798.1 L464.2,798.6 L466.6,799.2 L469.1,799.8 L471.6,800.4 L474.1,801.0 L476.6,801.6 L479.1,802.2 L481.6,802.7 L484.1,803.3 L486.5,803.9 L489.0,804.4 L491.5,805.0 L494.0,805.5 L496.5,806.0 L499.0,806.5 L501.5,807.0 L504.0,807.4 L506.5,807.8 L508.9,808.2 L511.4,808.5 L513.9,808.8 L516.4,809.1 L518.9,809.4 L521.4,809.6 L523.9,809.7 L526.4,809.8 L528.8,809.9 L531.3,809.9 L533.8,809.9 L536.3,809.8 L538.8,809.7 L541.3,809.6 L543.8,809.4 L546.3,809.3 L548.8,809.1 L551.2,808.9 L553.7,808.7 L556.2,808.5 L558.7,808.2 L561.2,808.0 L563.7,807.8 L566.2,807.6 L568.7,807.4 L571.2,807.2 L573.6,807.0 L576.1,806.9 L578.6,806.7 L581.1,806.6 L583.6,806.6 L586.1,806.5 L588.6,806.5 L591.1,806.6 L593.5,806.7 L596.0,806.8 L598.5,807.0 L601.0,807.2 L603.5,807.5 L606.0,807.8 L608.5,808.1 L611.0,808.5 L613.5,808.9 L615.9,809.4 L618.4,809.9 L620.9,810.4 L623.4,810.9 L625.9,811.4 L628.4,811.9 L630.9,812.5 L633.4,813.1 L635.8,813.6 L638.3,814.2 L640.8,814.8 L643.3,815.4 L645.8,815.9 L648.3,816.5 L650.8,817.0 L653.3,817.6 L655.8,818.1 L658.2,818.6 L660.7,819.1 L663.2,819.6 L665.7,820.1 L668.2,820.6 L670.7,821.0 L673.2,821.5 L675.7,821.9 L678.1,822.3 L680.6,822.7 L683.1,823.1 L685.6,823.5 L688.1,823.9 L690.6,824.2 L693.1,824.6 L695.6,824.9 L698.1,825.2 L700.5,825.5 L703.0,825.8 L705.5,826.1 L708.0,826.4 L710.5,826.7 L713.0,826.9 L715.5,827.2 L718.0,827.4 L720.4,827.6 L722.9,827.9 L725.4,828.1 L727.9,828.2 L730.4,828.4 L732.9,828.6 L735.4,828.7 L737.9,828.9 L740.4,829.0 L742.8,829.1 L745.3,829.3 L747.8,829.4 L750.3,829.4 L752.8,829.5 L755.3,829.6 L757.8,829.6 L760.3,829.7 L762.7,829.7 L765.2,829.7 L767.7,829.7 L770.2,829.7 L772.7,829.7 L775.2,829.7 L777.7,829.7 L780.2,829.6 L782.7,829.6 L785.1,829.5 L787.6,829.4 L790.1,829.4 L792.6,829.3 L795.1,829.1 L797.6,829.0 L800.1,828.9 L802.6,828.8 L805.1,828.6 L807.5,828.4 L810.0,828.3 L812.5,828.1 L815.0,827.9 L817.5,827.7 L820.0,827.5 L822.5,827.3 L825.0,827.1 L827.4,826.8 L829.9,826.6 L832.4,826.4 L834.9,826.1 L837.4,825.9 L839.9,825.7 L842.4,825.4 L844.9,825.2 L847.4,825.0 L849.8,824.8 L852.3,824.6 L854.8,824.4 L857.3,824.2 L859.8,824.0 L862.3,823.8 L864.8,823.7 L867.3,823.5 L869.7,823.4 L872.2,823.3 L874.7,823.1 L877.2,823.1 L879.7,823.0 L882.2,822.9 L884.7,822.9 L887.2,822.9 L889.7,822.9 L892.1,822.9 L894.6,823.0 L897.1,823.1 L899.6,823.2 L902.1,823.3 L904.6,823.5 L907.1,823.7 L909.6,823.9 L912.0,824.2 L914.5,824.5 L917.0,824.8 L919.5,825.2 L922.0,825.6" fill="none" stroke="#27aab2" stroke-width="7" stroke-linejoin="round" stroke-linecap="butt"/>
<path d="M178.0,838.8 L180.5,838.1 L183.0,837.1 L185.5,835.8 L188.0,834.2 L190.4,832.4 L192.9,830.3 L195.4,827.9 L197.9,825.3 L200.4,822.5 L202.9,819.4 L205.4,816.1 L207.9,812.6 L210.3,808.9 L212.8,805.1 L215.3,801.1 L217.8,796.9 L220.3,792.6 L222.8,788.2 L225.3,783.7 L227.8,779.0 L230.3,774.3 L232.7,769.6 L235.2,764.8 L237.7,759.9 L240.2,755.1 L242.7,750.2 L245.2,745.4 L247.7,740.6 L250.2,735.8 L252.6,731.1 L255.1,726.4 L257.6,721.9 L260.1,717.4 L262.6,713.1 L265.1,708.8 L267.6,704.7 L270.1,700.7 L272.6,696.8 L275.0,693.0 L277.5,689.4 L280.0,685.9 L282.5,682.5 L285.0,679.3 L287.5,676.3 L290.0,673.4 L292.5,670.6 L294.9,668.0 L297.4,665.5 L299.9,663.2 L302.4,661.0 L304.9,658.9 L307.4,657.1 L309.9,655.3 L312.4,653.7 L314.9,652.3 L317.3,651.0 L319.8,649.9 L322.3,648.9 L324.8,648.0 L327.3,647.2 L329.8,646.6 L332.3,646.0 L334.8,645.6 L337.3,645.3 L339.7,645.1 L342.2,645.0 L344.7,644.9 L347.2,645.0 L349.7,645.1 L352.2,645.3 L354.7,645.5 L357.2,645.8 L359.6,646.1 L362.1,646.5 L364.6,646.9 L367.1,647.3 L369.6,647.7 L372.1,648.2 L374.6,648.6 L377.1,649.1 L379.6,649.5 L382.0,650.0 L384.5,650.4 L387.0,650.7 L389.5,651.1 L392.0,651.4 L394.5,651.7 L397.0,652.0 L399.5,652.2 L401.9,652.4 L404.4,652.5 L406.9,652.5 L409.4,652.5 L411.9,652.4 L414.4,652.3 L416.9,652.1 L419.4,651.8 L421.9,651.5 L424.3,651.1 L426.8,650.6 L429.3,650.2 L431.8,649.6 L434.3,649.0 L436.8,648.4 L439.3,647.8 L441.8,647.1 L444.2,646.4 L446.7,645.7 L449.2,645.0 L451.7,644.3 L454.2,643.6 L456.7,642.9 L459.2,642.2 L461.7,641.5 L464.2,640.9 L466.6,640.2 L469.1,639.6 L471.6,639.0 L474.1,638.4 L476.6,637.9 L479.1,637.4 L481.6,636.8 L484.1,636.4 L486.5,635.9 L489.0,635.5 L491.5,635.0 L494.0,634.6 L496.5,634.3 L499.0,633.9 L501.5,633.6 L504.0,633.2 L506.5,632.9 L508.9,632.7 L511.4,632.4 L513.9,632.2 L516.4,632.0 L518.9,631.8 L521.4,631.6 L523.9,631.4 L526.4,631.3 L528.8,631.2 L531.3,631.1 L533.8,631.0 L536.3,631.0 L538.8,630.9 L541.3,630.9 L543.8,630.9 L546.3,630.9 L548.8,631.0 L551.2,631.0 L553.7,631.1 L556.2,631.2 L558.7,631.3 L561.2,631.5 L563.7,631.6 L566.2,631.8 L568.7,631.9 L571.2,632.1 L573.6,632.3 L576.1,632.5 L578.6,632.6 L581.1,632.8 L583.6,632.9 L586.1,633.1 L588.6,633.2 L591.1,633.3 L593.5,633.3 L596.0,633.4 L598.5,633.4 L601.0,633.3 L603.5,633.3 L606.0,633.2 L608.5,633.1 L611.0,632.9 L613.5,632.8 L615.9,632.6 L618.4,632.3 L620.9,632.1 L623.4,631.8 L625.9,631.5 L628.4,631.2 L630.9,630.9 L633.4,630.6 L635.8,630.2 L638.3,629.8 L640.8,629.4 L643.3,629.0 L645.8,628.6 L648.3,628.2 L650.8,627.7 L653.3,627.3 L655.8,626.8 L658.2,626.3 L660.7,625.9 L663.2,625.4 L665.7,624.9 L668.2,624.4 L670.7,623.9 L673.2,623.4 L675.7,622.9 L678.1,622.4 L680.6,621.9 L683.1,621.4 L685.6,620.8 L688.1,620.3 L690.6,619.9 L693.1,619.4 L695.6,618.9 L698.1,618.4 L700.5,617.9 L703.0,617.5 L705.5,617.0 L708.0,616.6 L710.5,616.1 L713.0,615.7 L715.5,615.3 L718.0,614.9 L720.4,614.6 L722.9,614.2 L725.4,613.9 L727.9,613.6 L730.4,613.3 L732.9,613.0 L735.4,612.7 L737.9,612.5 L740.4,612.3 L742.8,612.1 L745.3,611.9 L747.8,611.8 L750.3,611.7 L752.8,611.6 L755.3,611.5 L757.8,611.5 L760.3,611.5 L762.7,611.5 L765.2,611.5 L767.7,611.6 L770.2,611.6 L772.7,611.7 L775.2,611.8 L777.7,611.9 L780.2,612.1 L782.7,612.2 L785.1,612.4 L787.6,612.5 L790.1,612.7 L792.6,612.9 L795.1,613.1 L797.6,613.3 L800.1,613.6 L802.6,613.8 L805.1,614.0 L807.5,614.3 L810.0,614.5 L812.5,614.8 L815.0,615.0 L817.5,615.3 L820.0,615.6 L822.5,615.8 L825.0,616.1 L827.4,616.3 L829.9,616.6 L832.4,616.9 L834.9,617.1 L837.4,617.4 L839.9,617.6 L842.4,617.8 L844.9,618.1 L847.4,618.3 L849.8,618.5 L852.3,618.7 L854.8,618.9 L857.3,619.1 L859.8,619.2 L862.3,619.4 L864.8,619.5 L867.3,619.6 L869.7,619.7 L872.2,619.8 L874.7,619.9 L877.2,620.0 L879.7,620.0 L882.2,620.0 L884.7,620.0 L887.2,620.0 L889.7,619.9 L892.1,619.9 L894.6,619.8 L897.1,619.6 L899.6,619.5 L902.1,619.3 L904.6,619.1 L907.1,618.9 L909.6,618.6 L912.0,618.3 L914.5,618.0 L917.0,617.6 L919.5,617.2 L922.0,616.8" fill="none" stroke="#e3223a" stroke-width="7" stroke-linejoin="round" stroke-linecap="butt"/>
<rect x="178" y="525" width="744" height="319" fill="none" stroke="#262626" stroke-width="4"/>
<path d="M178.0,844 V835.5 M178.0,525 V533.5 M302.0,844 V835.5 M302.0,525 V533.5 M426.0,844 V835.5 M426.0,525 V533.5 M550.0,844 V835.5 M550.0,525 V533.5 M674.0,844 V835.5 M674.0,525 V533.5 M798.0,844 V835.5 M798.0,525 V533.5 M922.0,844 V835.5 M922.0,525 V533.5 M178,840.6 H186.5 M922,840.6 H913.5 M178,770.5 H186.5 M922,770.5 H913.5 M178,700.4 H186.5 M922,700.4 H913.5 M178,630.4 H186.5 M922,630.4 H913.5 M178,560.3 H186.5 M922,560.3 H913.5" stroke="#262626" stroke-width="4" fill="none"/>
<text transform="translate(167.4,850.9) scale(1,1.085)" font-size="29.5" text-anchor="end" fill="#262626">0</text>
<text transform="translate(167.4,780.8) scale(1,1.085)" font-size="29.5" text-anchor="end" fill="#262626">0.2</text>
<text transform="translate(167.4,710.7) scale(1,1.085)" font-size="29.5" text-anchor="end" fill="#262626">0.4</text>
<text transform="translate(167.4,640.7) scale(1,1.085)" font-size="29.5" text-anchor="end" fill="#262626">0.6</text>
<text transform="translate(167.4,570.6) scale(1,1.085)" font-size="29.5" text-anchor="end" fill="#262626">0.8</text>
<text transform="translate(178.0,883.5) scale(1,1.085)" font-size="29.5" text-anchor="middle" fill="#262626">0</text>
<text transform="translate(302.0,883.5) scale(1,1.085)" font-size="29.5" text-anchor="middle" fill="#262626">5</text>
<text transform="translate(426.0,883.5) scale(1,1.085)" font-size="29.5" text-anchor="middle" fill="#262626">10</text>
<text transform="translate(550.0,883.5) scale(1,1.085)" font-size="29.5" text-anchor="middle" fill="#262626">15</text>
<text transform="translate(674.0,883.5) scale(1,1.085)" font-size="29.5" text-anchor="middle" fill="#262626">20</text>
<text transform="translate(798.0,883.5) scale(1,1.085)" font-size="29.5" text-anchor="middle" fill="#262626">25</text>
<text transform="translate(922.0,883.5) scale(1,1.085)" font-size="29.5" text-anchor="middle" fill="#262626">30</text>
<text x="407.6" y="934.3" font-size="31.4" fill="#111" textLength="267" lengthAdjust="spacingAndGlyphs">Evolution Time (ps)</text>
<text transform="translate(111.9,768.6) rotate(-90)" font-size="31" fill="#262626" textLength="158.8" lengthAdjust="spacingAndGlyphs">Energy (eV)</text>
<path d="M452,567.6 H526.2" stroke="#086e8e" stroke-width="7"/>
<path d="M667.5,567.6 H739.3" stroke="#27aab2" stroke-width="7"/>
<path d="M792,567.6 H863.9" stroke="#e3223a" stroke-width="7"/>
<text x="530.8" y="574.4" font-size="26.3" fill="#111" textLength="14.6" lengthAdjust="spacingAndGlyphs">E</text>
<text x="545.6" y="586.2" font-size="21.5" fill="#111" textLength="107.5" lengthAdjust="spacingAndGlyphs">kin,plasma</text>
<text x="744.7" y="574.4" font-size="26.3" fill="#111" textLength="14.6" lengthAdjust="spacingAndGlyphs">E</text>
<text x="761.8" y="586.2" font-size="21.5" fill="#111" textLength="12.6" lengthAdjust="spacingAndGlyphs">e</text>
<text x="870.4" y="574.4" font-size="26.3" fill="#111" textLength="14.6" lengthAdjust="spacingAndGlyphs">E</text>
<text x="885.4" y="586.2" font-size="21.5" fill="#111" textLength="5.4" lengthAdjust="spacingAndGlyphs">i</text>
<text x="86.6" y="537.6" font-size="38" font-weight="bold" fill="#000" textLength="13.6" lengthAdjust="spacingAndGlyphs">f</text>
<g clip-path="url(#clipg)">
<path d="M1156.7,532.3 L1160.4,532.3 L1164.2,532.3 L1167.9,532.3 L1171.6,532.3 L1175.4,532.4 L1179.1,532.4 L1182.8,532.5 L1186.6,532.7 L1190.3,532.9 L1194.1,533.1 L1197.8,533.4 L1201.5,533.7 L1205.3,534.0 L1209.0,534.3 L1212.7,534.7 L1216.5,535.0 L1220.2,535.4 L1223.9,535.8 L1227.7,536.1 L1231.4,536.5 L1235.1,536.9 L1238.9,537.2 L1242.6,537.6 L1246.3,538.0 L1250.1,538.5 L1253.8,538.9 L1257.5,539.4 L1261.3,539.9 L1265.0,540.5 L1268.8,541.1 L1272.5,541.8 L1276.2,542.5 L1280.0,543.3 L1283.7,544.1 L1287.4,545.0 L1291.2,545.9 L1294.9,546.7 L1298.6,547.6 L1302.4,548.5 L1306.1,549.3 L1309.8,550.2 L1313.6,550.9 L1317.3,551.7 L1321.0,552.4 L1324.8,553.1 L1328.5,553.8 L1332.3,554.5 L1336.0,555.2 L1339.7,555.9 L1343.5,556.7 L1347.2,557.4 L1350.9,558.2 L1354.7,559.0 L1358.4,559.9 L1362.1,560.8 L1365.9,561.7 L1369.6,562.7 L1373.3,563.7 L1377.1,564.7 L1380.8,565.7 L1384.5,566.7 L1388.3,567.6 L1392.0,568.6 L1395.8,569.6 L1399.5,570.5 L1403.2,571.4 L1407.0,572.2 L1410.7,573.0 L1414.4,573.8 L1418.2,574.6 L1421.9,575.4 L1425.6,576.2 L1429.4,576.9 L1433.1,577.7 L1436.8,578.5 L1440.6,579.3 L1444.3,580.1 L1448.0,581.0 L1451.8,581.9 L1455.5,582.8 L1459.2,583.8 L1463.0,584.8 L1466.7,585.8 L1470.5,586.8 L1474.2,587.9 L1477.9,589.0 L1481.7,590.1 L1485.4,591.2 L1489.1,592.3 L1492.9,593.4 L1496.6,594.5 L1500.3,595.7 L1504.1,596.8 L1507.8,597.9 L1511.5,599.0 L1515.3,600.1 L1519.0,601.2 L1522.7,602.3 L1526.5,603.4 L1530.2,604.4 L1534.0,605.5 L1537.7,606.5 L1541.4,607.5 L1545.2,608.5 L1548.9,609.5 L1552.6,610.5 L1556.4,611.4 L1560.1,612.3 L1563.8,613.2 L1567.6,614.1 L1571.3,615.0 L1575.0,615.8 L1578.8,616.7 L1582.5,617.6 L1586.2,618.4 L1590.0,619.3 L1593.7,620.2 L1597.5,621.1 L1601.2,622.0 L1604.9,622.9 L1608.7,623.9 L1612.4,624.8 L1616.1,625.8 L1619.9,626.8 L1623.6,627.8 L1627.3,628.8 L1631.1,629.8 L1634.8,630.8 L1638.5,631.9 L1642.3,632.9 L1646.0,634.0 L1649.7,635.1 L1653.5,636.2 L1657.2,637.3 L1660.9,638.3 L1664.7,639.4 L1668.4,640.6 L1672.2,641.7 L1675.9,642.8 L1679.6,643.9 L1683.4,645.0 L1687.1,646.1 L1690.8,647.2 L1694.6,648.4 L1698.3,649.5 L1702.0,650.6 L1705.8,651.7 L1709.5,652.8 L1713.2,654.0 L1717.0,655.1 L1720.7,656.2 L1724.4,657.3 L1728.2,658.4 L1731.9,659.5 L1735.7,660.6 L1739.4,661.7 L1743.1,662.8 L1746.9,663.9 L1750.6,665.0 L1754.3,666.1 L1758.1,667.2 L1761.8,668.3 L1765.5,669.4 L1769.3,670.5 L1773.0,671.6 L1776.7,672.7 L1780.5,673.8 L1784.2,674.9 L1787.9,676.0 L1791.7,677.1 L1795.4,678.2 L1799.2,679.3 L1802.9,680.4 L1806.6,681.5 L1810.4,682.5 L1814.1,683.6 L1817.8,684.7 L1821.6,685.8 L1825.3,686.9 L1829.0,688.0 L1832.8,689.1 L1836.5,690.2 L1840.2,691.2 L1844.0,692.3 L1847.7,693.4 L1851.4,694.5 L1855.2,695.6 L1858.9,696.7 L1862.6,697.8 L1866.4,698.8 L1870.1,699.9 L1873.9,701.0 L1877.6,702.1 L1881.3,703.2 L1885.1,704.3 L1888.8,705.3 L1892.5,706.4 L1896.3,707.5 L1900.0,708.6" fill="none" stroke="#a8152b" stroke-width="7"/>
<path d="M1177.1,537.0 L1179.5,536.9 L1181.9,536.7 L1184.3,536.6 L1186.7,536.5 L1189.1,536.3 L1191.5,536.2 L1193.9,536.1 L1196.3,535.9 L1198.7,535.8 L1201.1,535.6 L1203.5,535.5 L1205.9,535.3 L1208.4,535.2 L1210.8,535.0 L1213.2,534.8 L1215.6,534.6 L1218.0,534.4 L1220.4,534.2 L1222.8,534.0 L1225.2,533.8 L1227.6,533.6 L1230.0,533.4 L1232.5,533.1 L1234.9,532.9 L1237.3,532.7 L1239.7,532.5 L1242.1,532.2 L1244.5,532.1 L1246.9,531.9 L1249.4,531.7 L1251.8,531.6 L1254.2,531.4 L1256.6,531.3 L1259.0,531.3 L1261.4,531.2 L1263.8,531.2 L1266.2,531.2 L1268.6,531.3 L1271.0,531.4 L1273.4,531.5 L1275.8,531.7 L1278.2,532.0 L1280.6,532.3 L1282.9,532.6 L1285.3,532.9 L1287.7,533.3 L1290.1,533.7 L1292.5,534.1 L1294.8,534.5 L1297.2,534.9 L1299.6,535.4 L1302.0,535.8 L1304.4,536.3 L1306.7,536.7 L1309.1,537.2 L1311.5,537.6 L1313.9,538.0 L1316.3,538.4 L1318.6,538.8 L1321.0,539.2 L1323.4,539.6 L1325.8,540.0 L1328.2,540.4 L1330.5,540.8 L1332.9,541.2 L1335.3,541.6 L1337.7,542.0 L1340.0,542.4 L1342.4,542.9 L1344.8,543.3 L1347.1,543.8 L1349.5,544.3 L1351.8,544.8 L1354.2,545.3 L1356.5,545.9 L1358.9,546.4 L1361.2,547.0 L1363.5,547.6 L1365.9,548.2 L1368.2,548.9 L1370.5,549.5 L1372.8,550.2 L1375.1,550.9 L1377.4,551.6 L1379.7,552.3 L1382.1,553.0 L1384.4,553.7 L1386.7,554.4 L1389.0,555.2 L1391.3,555.9 L1393.6,556.6 L1395.9,557.4 L1398.2,558.1 L1400.5,558.8 L1402.8,559.6 L1405.1,560.3 L1407.4,561.0 L1409.7,561.8 L1412.0,562.5 L1414.3,563.2 L1416.6,564.0 L1418.9,564.7 L1421.2,565.4 L1423.5,566.1 L1425.8,566.8 L1428.1,567.6 L1430.4,568.3 L1432.7,569.0 L1435.0,569.7 L1437.3,570.4 L1439.6,571.1 L1441.9,571.9 L1444.2,572.6 L1446.5,573.3 L1448.8,574.0 L1451.1,574.7 L1453.4,575.4 L1455.7,576.1 L1458.0,576.9 L1460.3,577.6 L1462.6,578.3 L1464.9,579.0 L1467.2,579.7 L1469.5,580.4 L1471.8,581.2 L1474.1,581.9 L1476.4,582.6 L1478.7,583.3 L1481.0,584.0 L1483.3,584.8 L1485.6,585.5 L1487.9,586.2 L1490.2,587.0 L1492.5,587.7 L1494.8,588.5 L1497.1,589.2 L1499.4,590.0 L1501.7,590.7 L1503.9,591.5 L1506.2,592.3 L1508.5,593.0 L1510.8,593.8 L1513.1,594.6 L1515.4,595.4 L1517.6,596.2 L1519.9,597.0 L1522.2,597.8 L1524.4,598.6 L1526.7,599.4 L1529.0,600.3 L1531.2,601.1 L1533.5,602.0 L1535.7,602.8 L1538.0,603.7 L1540.2,604.6 L1542.5,605.4 L1544.7,606.3 L1546.9,607.2 L1549.2,608.1 L1551.4,609.0 L1553.6,609.9 L1555.9,610.9 L1558.1,611.8 L1560.3,612.7 L1562.6,613.6 L1564.8,614.5 L1567.0,615.4 L1569.3,616.4 L1571.5,617.3 L1573.7,618.2 L1575.9,619.1 L1578.2,620.0 L1580.4,620.9 L1582.7,621.8 L1584.9,622.7 L1587.1,623.6 L1589.4,624.5 L1591.6,625.3 L1593.9,626.2 L1596.2,627.1 L1598.4,627.9 L1600.7,628.8 L1602.9,629.6 L1605.2,630.5 L1607.4,631.4 L1609.7,632.2 L1611.9,633.1 L1614.1,634.0 L1616.4,635.0 L1618.6,635.9 L1620.8,636.9 L1623.0,637.8 L1625.2,638.8 L1627.4,639.9 L1629.5,640.9 L1631.7,642.0 L1633.8,643.1 L1635.9,644.3 L1638.1,645.4 L1640.2,646.6 L1642.3,647.8 L1644.3,649.1 L1646.4,650.3 L1648.5,651.6 L1650.5,652.9 L1652.5,654.2 L1654.6,655.5 L1656.6,656.8 L1658.5,658.2 L1660.5,659.6 L1662.5,661.0 L1664.4,662.4 L1666.4,663.9 L1668.3,665.3 L1670.2,666.8 L1672.1,668.3 L1674.0,669.8 L1675.8,671.4 L1677.7,672.9 L1679.5,674.5 L1681.3,676.1 L1683.0,677.8 L1684.8,679.4 L1686.5,681.1 L1688.2,682.8 L1689.9,684.6 L1691.6,686.3 L1693.2,688.1 L1694.8,690.0 L1696.3,691.8 L1697.8,693.7 L1699.3,695.6 L1700.7,697.6 L1702.1,699.5 L1703.4,701.5 L1704.7,703.6 L1706.0,705.6 L1707.2,707.7 L1708.4,709.8 L1709.6,711.9 L1710.8,714.0 L1711.9,716.1 L1713.0,718.3 L1714.2,720.4 L1715.2,722.6 L1716.3,724.7 L1717.3,726.9 L1718.3,729.1 L1719.2,731.4 L1720.1,733.6 L1721.0,735.8 L1721.8,738.1 L1722.5,740.4 L1723.2,742.7 L1723.9,745.0 L1724.6,747.3 L1725.2,749.7 L1725.8,752.0 L1726.3,754.4 L1726.9,756.7 L1727.4,759.1 L1727.9,761.4 L1728.4,763.8 L1728.9,766.2 L1729.4,768.5 L1729.9,770.9 L1730.3,773.3 L1730.7,775.6 L1731.2,778.0 L1731.6,780.4 L1732.0,782.8 L1732.4,785.1 L1732.7,787.5 L1733.1,789.9 L1733.5,792.3 L1733.8,794.7 L1734.1,797.1 L1734.4,799.5 L1734.7,801.8 L1735.0,804.2 L1735.3,806.6 L1735.5,809.0 L1735.7,811.4 L1735.9,813.8 L1736.1,816.2 L1736.2,818.7 L1736.3,821.1 L1736.4,823.5 L1736.5,825.9 L1736.6,828.3 L1736.6,830.7 L1736.7,833.1 L1736.7,835.5 L1736.8,837.9 L1736.8,840.3 L1736.8,842.8 L1736.8,845.2 L1736.8,847.6 L1736.8,850.0" fill="none" stroke="#fd5454" stroke-width="7"/>
<path d="M1177.1,539.6 L1179.1,539.5 L1181.1,539.3 L1183.1,539.2 L1185.1,539.0 L1187.1,538.9 L1189.1,538.8 L1191.1,538.6 L1193.1,538.5 L1195.1,538.3 L1197.1,538.2 L1199.1,538.0 L1201.2,537.9 L1203.2,537.7 L1205.2,537.6 L1207.2,537.4 L1209.2,537.3 L1211.2,537.1 L1213.2,537.0 L1215.2,536.8 L1217.2,536.7 L1219.2,536.5 L1221.3,536.3 L1223.3,536.2 L1225.3,536.0 L1227.3,535.9 L1229.3,535.7 L1231.3,535.5 L1233.4,535.4 L1235.4,535.2 L1237.4,535.1 L1239.4,534.9 L1241.4,534.8 L1243.4,534.7 L1245.5,534.6 L1247.5,534.5 L1249.5,534.4 L1251.5,534.3 L1253.5,534.3 L1255.5,534.2 L1257.6,534.2 L1259.6,534.2 L1261.6,534.3 L1263.6,534.3 L1265.6,534.4 L1267.6,534.5 L1269.6,534.6 L1271.6,534.8 L1273.6,534.9 L1275.6,535.2 L1277.6,535.4 L1279.5,535.7 L1281.5,536.0 L1283.5,536.3 L1285.5,536.6 L1287.5,537.0 L1289.5,537.4 L1291.4,537.8 L1293.4,538.2 L1295.4,538.6 L1297.4,539.0 L1299.3,539.4 L1301.3,539.8 L1303.3,540.3 L1305.3,540.7 L1307.2,541.1 L1309.2,541.5 L1311.2,541.9 L1313.2,542.3 L1315.1,542.7 L1317.1,543.1 L1319.1,543.5 L1321.1,543.8 L1323.1,544.2 L1325.0,544.6 L1327.0,544.9 L1329.0,545.3 L1331.0,545.7 L1333.0,546.1 L1334.9,546.4 L1336.9,546.8 L1338.9,547.2 L1340.9,547.6 L1342.8,548.0 L1344.8,548.4 L1346.8,548.8 L1348.7,549.2 L1350.7,549.6 L1352.7,550.1 L1354.6,550.5 L1356.6,551.0 L1358.5,551.4 L1360.5,551.9 L1362.4,552.4 L1364.4,552.9 L1366.3,553.4 L1368.3,553.9 L1370.2,554.5 L1372.2,555.0 L1374.1,555.5 L1376.0,556.1 L1378.0,556.6 L1379.9,557.2 L1381.9,557.7 L1383.8,558.3 L1385.7,558.9 L1387.7,559.4 L1389.6,560.0 L1391.5,560.6 L1393.4,561.2 L1395.4,561.8 L1397.3,562.4 L1399.2,563.0 L1401.1,563.6 L1403.0,564.2 L1404.9,564.9 L1406.8,565.5 L1408.7,566.2 L1410.6,566.9 L1412.5,567.5 L1414.4,568.2 L1416.3,568.9 L1418.2,569.7 L1420.1,570.4 L1421.9,571.1 L1423.8,571.9 L1425.7,572.7 L1427.5,573.4 L1429.4,574.2 L1431.2,575.0 L1433.1,575.8 L1434.9,576.6 L1436.8,577.4 L1438.6,578.3 L1440.4,579.1 L1442.3,579.9 L1444.1,580.8 L1445.9,581.6 L1447.8,582.4 L1449.6,583.3 L1451.4,584.1 L1453.2,585.0 L1455.1,585.8 L1456.9,586.7 L1458.7,587.5 L1460.5,588.4 L1462.3,589.2 L1464.1,590.1 L1466.0,591.0 L1467.8,591.9 L1469.6,592.7 L1471.4,593.6 L1473.2,594.5 L1475.0,595.4 L1476.8,596.3 L1478.6,597.2 L1480.4,598.1 L1482.2,599.0 L1484.0,600.0 L1485.8,600.9 L1487.6,601.8 L1489.4,602.8 L1491.1,603.8 L1492.9,604.8 L1494.7,605.8 L1496.4,606.8 L1498.1,607.8 L1499.8,608.9 L1501.5,609.9 L1503.2,611.0 L1504.9,612.2 L1506.5,613.3 L1508.2,614.5 L1509.8,615.7 L1511.4,616.9 L1512.9,618.2 L1514.5,619.4 L1516.0,620.8 L1517.5,622.1 L1519.0,623.4 L1520.5,624.8 L1521.9,626.2 L1523.4,627.6 L1524.8,629.1 L1526.2,630.5 L1527.6,632.0 L1528.9,633.5 L1530.3,635.0 L1531.6,636.5 L1532.9,638.1 L1534.2,639.6 L1535.5,641.2 L1536.8,642.7 L1538.1,644.3 L1539.3,645.9 L1540.5,647.5 L1541.7,649.2 L1542.9,650.8 L1544.1,652.4 L1545.3,654.1 L1546.4,655.7 L1547.5,657.4 L1548.6,659.1 L1549.7,660.8 L1550.7,662.6 L1551.7,664.3 L1552.7,666.1 L1553.6,667.8 L1554.6,669.6 L1555.4,671.4 L1556.3,673.2 L1557.1,675.1 L1557.9,676.9 L1558.7,678.8 L1559.5,680.6 L1560.2,682.5 L1560.9,684.4 L1561.6,686.3 L1562.2,688.2 L1562.9,690.1 L1563.5,692.0 L1564.1,694.0 L1564.7,695.9 L1565.2,697.8 L1565.8,699.8 L1566.3,701.7 L1566.8,703.7 L1567.2,705.6 L1567.7,707.6 L1568.1,709.6 L1568.6,711.5 L1569.0,713.5 L1569.4,715.5 L1569.7,717.4 L1570.1,719.4 L1570.4,721.4 L1570.8,723.4 L1571.1,725.4 L1571.3,727.4 L1571.6,729.4 L1571.9,731.4 L1572.1,733.4 L1572.3,735.4 L1572.5,737.4 L1572.7,739.4 L1572.9,741.4 L1573.1,743.4 L1573.2,745.4 L1573.4,747.4 L1573.5,749.4 L1573.6,751.4 L1573.8,753.4 L1573.9,755.4 L1574.0,757.5 L1574.1,759.5 L1574.2,761.5 L1574.3,763.5 L1574.4,765.5 L1574.5,767.5 L1574.6,769.5 L1574.7,771.5 L1574.8,773.6 L1574.8,775.6 L1574.9,777.6 L1575.0,779.6 L1575.1,781.6 L1575.2,783.6 L1575.2,785.6 L1575.3,787.6 L1575.4,789.7 L1575.5,791.7 L1575.5,793.7 L1575.6,795.7 L1575.7,797.7 L1575.8,799.7 L1575.8,801.7 L1575.9,803.7 L1576.0,805.8 L1576.0,807.8 L1576.1,809.8 L1576.1,811.8 L1576.2,813.8 L1576.3,815.8 L1576.3,817.8 L1576.4,819.8 L1576.4,821.8 L1576.5,823.9 L1576.5,825.9 L1576.6,827.9 L1576.7,829.9 L1576.7,831.9 L1576.8,833.9 L1576.8,835.9 L1576.9,837.9 L1576.9,839.9 L1577.0,842.0 L1577.0,844.0 L1577.1,846.0 L1577.1,848.0 L1577.2,850.0" fill="none" stroke="#f2a280" stroke-width="7"/>
<path d="M1156.7,540.8 L1158.7,541.0 L1160.6,541.3 L1162.6,541.5 L1164.6,541.8 L1166.5,542.0 L1168.5,542.3 L1170.5,542.5 L1172.4,542.8 L1174.4,543.1 L1176.4,543.4 L1178.3,543.7 L1180.3,544.0 L1182.3,544.3 L1184.2,544.6 L1186.2,545.0 L1188.2,545.3 L1190.1,545.7 L1192.1,546.1 L1194.1,546.6 L1196.1,547.0 L1198.0,547.4 L1200.0,547.9 L1202.0,548.4 L1203.9,548.9 L1205.9,549.4 L1207.9,549.9 L1209.8,550.4 L1211.8,550.9 L1213.8,551.4 L1215.7,552.0 L1217.7,552.5 L1219.7,553.0 L1221.6,553.6 L1223.6,554.1 L1225.6,554.7 L1227.5,555.2 L1229.5,555.8 L1231.5,556.3 L1233.4,556.9 L1235.4,557.5 L1237.4,558.0 L1239.3,558.6 L1241.3,559.2 L1243.3,559.8 L1245.2,560.4 L1247.2,561.0 L1249.2,561.6 L1251.1,562.3 L1253.1,562.9 L1255.1,563.6 L1257.0,564.3 L1259.0,565.0 L1261.0,565.7 L1262.9,566.4 L1264.9,567.2 L1266.9,567.9 L1268.9,568.7 L1270.8,569.5 L1272.8,570.2 L1274.8,571.0 L1276.7,571.8 L1278.7,572.7 L1280.7,573.5 L1282.6,574.3 L1284.6,575.1 L1286.6,575.9 L1288.5,576.8 L1290.5,577.6 L1292.5,578.4 L1294.4,579.3 L1296.4,580.1 L1298.4,580.9 L1300.3,581.8 L1302.3,582.6 L1304.3,583.5 L1306.2,584.4 L1308.2,585.2 L1310.2,586.1 L1312.1,587.0 L1314.1,588.0 L1316.1,588.9 L1318.0,589.9 L1320.0,590.8 L1322.0,591.8 L1323.9,592.8 L1325.9,593.9 L1327.9,594.9 L1329.8,596.0 L1331.8,597.1 L1333.8,598.3 L1335.7,599.4 L1337.7,600.5 L1339.7,601.7 L1341.7,602.9 L1343.6,604.1 L1345.6,605.3 L1347.6,606.5 L1349.5,607.7 L1351.5,608.9 L1353.5,610.1 L1355.4,611.4 L1357.4,612.6 L1359.4,613.8 L1361.3,615.0 L1363.3,616.2 L1365.3,617.4 L1367.2,618.7 L1369.2,619.9 L1371.2,621.1 L1373.1,622.3 L1375.1,623.5 L1377.1,624.7 L1379.0,625.9 L1381.0,627.1 L1383.0,628.3 L1384.9,629.5 L1386.9,630.7 L1388.9,631.9 L1390.8,633.1 L1392.8,634.3 L1394.8,635.5 L1396.7,636.7 L1398.7,637.9 L1400.7,639.1 L1402.6,640.3 L1404.6,641.5 L1406.6,642.7 L1408.5,643.9 L1410.5,645.1 L1412.5,646.3 L1414.5,647.5 L1416.4,648.6 L1418.4,649.8 L1420.4,651.0 L1422.3,652.2 L1424.3,653.4 L1426.3,654.6 L1428.2,655.8 L1430.2,657.0 L1432.2,658.1 L1434.1,659.3 L1436.1,660.5 L1438.1,661.7 L1440.0,662.9 L1442.0,664.1 L1444.0,665.2 L1445.9,666.4 L1447.9,667.6 L1449.9,668.8 L1451.8,670.0 L1453.8,671.1 L1455.8,672.3 L1457.7,673.5 L1459.7,674.7 L1461.7,675.9 L1463.6,677.0 L1465.6,678.2 L1467.6,679.4 L1469.5,680.6 L1471.5,681.7 L1473.5,682.9 L1475.4,684.1 L1477.4,685.3 L1479.4,686.5 L1481.3,687.6 L1483.3,688.8 L1485.3,690.0 L1487.2,691.2 L1489.2,692.3 L1491.2,693.5 L1493.2,694.7 L1495.1,695.9 L1497.1,697.1 L1499.1,698.2 L1501.0,699.4 L1503.0,700.6 L1505.0,701.8 L1506.9,703.0 L1508.9,704.1 L1510.9,705.3 L1512.8,706.5 L1514.8,707.7 L1516.8,708.9 L1518.7,710.0 L1520.7,711.2 L1522.7,712.4 L1524.6,713.6 L1526.6,714.8 L1528.6,715.9 L1530.5,717.1 L1532.5,718.3 L1534.5,719.5 L1536.4,720.7 L1538.4,721.8 L1540.4,723.0 L1542.3,724.2 L1544.3,725.4 L1546.3,726.6 L1548.2,727.8 L1550.2,728.9 L1552.2,730.1 L1554.1,731.3 L1556.1,732.5 L1558.1,733.7 L1560.0,734.8 L1562.0,736.0 L1564.0,737.2 L1566.0,738.4 L1567.9,739.6 L1569.9,740.8 L1571.9,741.9 L1573.8,743.1 L1575.8,744.3 L1577.8,745.5 L1579.7,746.7 L1581.7,747.8 L1583.7,749.0 L1585.6,750.2 L1587.6,751.4 L1589.6,752.6 L1591.5,753.7 L1593.5,754.9 L1595.5,756.1 L1597.4,757.3 L1599.4,758.4 L1601.4,759.6 L1603.3,760.8 L1605.3,762.0 L1607.3,763.1 L1609.2,764.3 L1611.2,765.5 L1613.2,766.7 L1615.1,767.8 L1617.1,769.0 L1619.1,770.2 L1621.0,771.4 L1623.0,772.5 L1625.0,773.7 L1626.9,774.9 L1628.9,776.1 L1630.9,777.2 L1632.8,778.4 L1634.8,779.6 L1636.8,780.7 L1638.8,781.9 L1640.7,783.1 L1642.7,784.3 L1644.7,785.4 L1646.6,786.6 L1648.6,787.8 L1650.6,788.9 L1652.5,790.1 L1654.5,791.3 L1656.5,792.4 L1658.4,793.6 L1660.4,794.8 L1662.4,796.0 L1664.3,797.1 L1666.3,798.3 L1668.3,799.5 L1670.2,800.6 L1672.2,801.8 L1674.2,803.0 L1676.1,804.1 L1678.1,805.3 L1680.1,806.5 L1682.0,807.6 L1684.0,808.8 L1686.0,810.0 L1687.9,811.1 L1689.9,812.3 L1691.9,813.5 L1693.8,814.6 L1695.8,815.8 L1697.8,817.0 L1699.7,818.1 L1701.7,819.3 L1703.7,820.5 L1705.6,821.7 L1707.6,822.8 L1709.6,824.0 L1711.6,825.2 L1713.5,826.3 L1715.5,827.5 L1717.5,828.7 L1719.4,829.8 L1721.4,831.0 L1723.4,832.2 L1725.3,833.3 L1727.3,834.5 L1729.3,835.7 L1731.2,836.8 L1733.2,838.0 L1735.2,839.2 L1737.1,840.3 L1739.1,841.5 L1741.1,842.7 L1743.0,843.8 L1745.0,845.0" fill="none" stroke="#086e8e" stroke-width="5.6" stroke-dasharray="3.9 3.45"/>
<path d="M1156.7,560.9 L1158.5,561.1 L1160.4,561.2 L1162.2,561.4 L1164.1,561.6 L1165.9,561.8 L1167.8,561.9 L1169.6,562.1 L1171.5,562.3 L1173.3,562.5 L1175.2,562.7 L1177.0,562.9 L1178.8,563.2 L1180.7,563.4 L1182.5,563.6 L1184.4,563.9 L1186.2,564.2 L1188.1,564.5 L1189.9,564.7 L1191.8,565.1 L1193.6,565.4 L1195.5,565.7 L1197.3,566.1 L1199.1,566.4 L1201.0,566.8 L1202.8,567.2 L1204.7,567.6 L1206.5,568.0 L1208.4,568.4 L1210.2,568.8 L1212.1,569.2 L1213.9,569.7 L1215.8,570.1 L1217.6,570.6 L1219.4,571.0 L1221.3,571.5 L1223.1,571.9 L1225.0,572.4 L1226.8,572.8 L1228.7,573.3 L1230.5,573.8 L1232.4,574.2 L1234.2,574.7 L1236.1,575.2 L1237.9,575.7 L1239.7,576.2 L1241.6,577.3 L1243.4,577.5 L1245.3,577.8 L1247.1,578.7 L1249.0,578.7 L1250.8,578.9 L1252.7,580.2 L1254.5,580.7 L1256.3,581.0 L1258.2,581.3 L1260.0,582.4 L1261.9,581.8 L1263.7,583.8 L1265.6,584.4 L1267.4,584.1 L1269.3,585.5 L1271.1,585.8 L1273.0,587.2 L1274.8,586.7 L1276.6,587.9 L1278.5,589.4 L1280.3,590.3 L1282.2,589.6 L1284.0,591.1 L1285.9,592.2 L1287.7,592.6 L1289.6,594.3 L1291.4,593.9 L1293.3,595.4 L1295.1,595.5 L1296.9,597.5 L1298.8,597.7 L1300.6,598.3 L1302.5,598.5 L1304.3,600.9 L1306.2,601.3 L1308.0,602.2 L1309.9,603.2 L1311.7,603.7 L1313.6,604.1 L1315.4,604.8 L1317.2,605.7 L1319.1,607.5 L1320.9,607.0 L1322.8,608.2 L1324.6,609.2 L1326.5,610.2 L1328.3,611.2 L1330.2,611.2 L1332.0,611.7 L1333.9,613.3 L1335.7,614.6 L1337.5,615.2 L1339.4,615.7 L1341.2,616.2 L1343.1,617.1 L1344.9,617.6 L1346.8,618.8 L1348.6,618.7 L1350.5,619.8 L1352.3,620.4 L1354.2,621.3 L1356.0,621.8 L1357.8,623.5 L1359.7,623.6 L1361.5,624.2 L1363.4,623.2 L1365.2,624.6 L1367.1,625.0 L1368.9,626.1 L1370.8,625.4 L1372.6,627.5 L1374.5,628.0 L1376.3,627.5 L1378.1,628.2 L1380.0,628.9 L1381.8,629.8 L1383.7,630.6 L1385.5,631.7 L1387.4,631.3 L1389.2,632.2 L1391.1,632.5 L1392.9,633.7 L1394.8,633.8 L1396.6,634.6 L1398.4,634.0 L1400.3,634.9 L1402.1,635.2 L1404.0,636.7 L1405.8,636.9 L1407.7,637.0 L1409.5,637.4 L1411.4,638.4 L1413.2,638.3 L1415.1,638.7 L1416.9,639.9 L1418.7,641.3 L1420.6,640.6 L1422.4,641.0 L1424.3,641.2 L1426.1,641.6 L1428.0,643.0 L1429.8,643.6 L1431.7,643.7 L1433.5,644.4 L1435.3,644.8 L1437.2,645.3 L1439.0,645.0 L1440.9,646.0 L1442.7,646.7 L1444.6,646.8 L1446.4,647.4 L1448.3,647.8 L1450.1,648.5 L1452.0,649.5 L1453.8,649.4 L1455.6,650.0 L1457.5,650.9 L1459.3,651.3 L1461.2,652.3 L1463.0,651.1 L1464.9,652.9 L1466.7,652.8 L1468.6,653.5 L1470.4,654.3 L1472.3,654.9 L1474.1,655.4 L1475.9,655.5 L1477.8,656.7 L1479.6,656.4 L1481.5,657.0 L1483.3,657.9 L1485.2,657.8 L1487.0,659.6 L1488.9,659.6 L1490.7,660.7 L1492.6,660.3 L1494.4,660.7 L1496.2,661.5 L1498.1,662.3 L1499.9,662.3 L1501.8,663.3 L1503.6,663.7 L1505.5,665.1 L1507.3,664.7 L1509.2,666.0 L1511.0,665.9 L1512.9,666.4 L1514.7,667.1 L1516.5,667.5 L1518.4,668.7 L1520.2,669.7 L1522.1,670.0 L1523.9,670.8 L1525.8,671.9 L1527.6,671.9 L1529.5,672.5 L1531.3,672.9 L1533.2,673.0 L1535.0,674.7 L1536.8,674.2 L1538.7,675.9 L1540.5,676.2 L1542.4,677.4 L1544.2,677.5 L1546.1,677.8 L1547.9,678.9 L1549.8,679.2 L1551.6,680.0 L1553.5,680.7 L1555.3,681.3 L1557.1,681.9 L1559.0,682.2 L1560.8,683.1 L1562.7,682.9 L1564.5,684.4 L1566.4,684.6 L1568.2,686.2 L1570.1,686.9 L1571.9,686.1 L1573.8,687.7 L1575.6,688.2 L1577.4,688.4 L1579.3,689.7 L1581.1,689.9 L1583.0,690.0 L1584.8,691.2 L1586.7,691.9 L1588.5,692.7 L1590.4,692.7 L1592.2,694.1 L1594.1,694.8 L1595.9,694.5 L1597.7,695.4 L1599.6,696.2 L1601.4,696.6 L1603.3,698.3 L1605.1,698.2 L1607.0,698.3 L1608.8,699.0 L1610.7,699.9 L1612.5,701.6 L1614.4,701.1 L1616.2,701.9 L1618.0,702.7 L1619.9,703.0 L1621.7,704.7 L1623.6,704.1 L1625.4,705.3 L1627.3,705.7 L1629.1,706.5 L1631.0,706.4 L1632.8,708.4 L1634.6,708.2 L1636.5,708.9 L1638.3,709.2 L1640.2,710.0 L1642.0,711.2 L1643.9,712.1 L1645.7,712.7 L1647.6,713.7 L1649.4,714.2 L1651.3,714.6 L1653.1,715.7 L1654.9,716.4 L1656.8,716.8 L1658.6,718.0 L1660.5,719.0 L1662.3,719.3 L1664.2,719.9 L1666.0,721.2 L1667.9,722.5 L1669.7,722.4 L1671.6,723.3 L1673.4,724.1 L1675.2,725.6 L1677.1,725.1 L1678.9,726.9 L1680.8,728.2 L1682.6,728.1 L1684.5,730.0 L1686.3,730.5 L1688.2,730.9 L1690.0,732.1 L1691.9,732.2 L1693.7,733.5 L1695.5,735.5 L1697.4,735.2 L1699.2,737.3 L1701.1,737.3 L1702.9,738.6 L1704.8,739.1 L1706.6,738.9 L1708.5,740.5 L1710.3,741.7 L1712.2,741.9 L1714.0,742.6 L1715.8,744.1 L1717.7,744.3 L1719.5,744.6 L1721.4,745.7 L1723.2,746.9 L1725.1,746.9 L1726.9,748.1 L1728.8,748.8 L1730.6,748.7 L1732.5,748.6 L1734.3,749.0 L1736.1,750.1 L1738.0,751.1 L1739.8,751.3 L1741.7,752.0 L1743.5,752.2 L1745.4,753.2 L1747.2,753.6 L1749.1,754.4 L1750.9,754.7 L1752.8,755.4 L1754.6,756.7 L1756.4,757.2 L1758.3,758.0 L1760.1,759.5 L1762.0,759.9 L1763.8,762.0 L1765.7,761.8 L1767.5,761.8 L1769.4,763.2 L1771.2,763.7 L1773.1,763.9 L1774.9,765.4 L1776.7,765.2 L1778.6,764.9 L1780.4,767.4 L1782.3,767.5 L1784.1,769.1 L1786.0,768.9 L1787.8,769.5 L1789.7,771.5 L1791.5,771.1 L1793.4,772.4 L1795.2,773.7 L1797.0,773.9 L1798.9,774.6 L1800.7,775.4 L1802.6,776.5 L1804.4,776.5 L1806.3,777.9 L1808.1,778.6 L1810.0,780.1 L1811.8,779.6 L1813.6,780.0 L1815.5,781.5 L1817.3,781.6 L1819.2,782.6 L1821.0,783.2 L1822.9,784.3 L1824.7,784.1 L1826.6,785.0 L1828.4,784.5 L1830.3,785.9 L1832.1,787.6 L1833.9,787.2 L1835.8,787.8 L1837.6,788.1 L1839.5,789.6 L1841.3,790.0 L1843.2,790.0 L1845.0,791.4 L1846.9,791.9 L1848.7,792.7 L1850.6,792.7 L1852.4,794.4 L1854.2,794.5 L1856.1,794.9 L1857.9,795.4 L1859.8,796.2 L1861.6,797.4 L1863.5,797.6 L1865.3,799.0 L1867.2,799.5 L1869.0,800.7 L1870.9,801.3 L1872.7,801.8 L1874.5,801.9 L1876.4,803.8 L1878.2,804.8 L1880.1,805.3 L1881.9,806.2 L1883.8,806.4 L1885.6,807.0 L1887.5,807.1 L1889.3,808.4 L1891.2,808.0 L1893.0,807.8" fill="none" stroke="#086e8e" stroke-width="7" stroke-linejoin="round"/>
<path d="M1891,808 L1895,803 L1899,800" fill="none" stroke="#086e8e" stroke-width="7" stroke-linecap="round"/>
<path d="M1177.1,564.5 L1178.2,564.6 L1179.4,564.7 L1180.5,564.9 L1181.7,565.0 L1182.8,565.1 L1184.0,565.2 L1185.1,565.3 L1186.3,565.5 L1187.4,565.6 L1188.5,565.7 L1189.7,565.8 L1190.8,565.9 L1192.0,566.0 L1193.1,566.2 L1194.3,566.3 L1195.4,566.4 L1196.6,566.5 L1197.7,566.6 L1198.9,566.7 L1200.0,566.8 L1201.1,567.0 L1202.3,567.1 L1203.4,567.2 L1204.6,567.3 L1205.7,567.4 L1206.9,567.5 L1208.0,567.6 L1209.2,567.7 L1210.3,567.8 L1211.5,568.0 L1212.6,568.1 L1213.8,568.2 L1214.9,568.3 L1216.0,568.4 L1217.2,568.5 L1218.3,568.6 L1219.5,568.7 L1220.6,568.8 L1221.8,568.9 L1222.9,569.0 L1224.1,569.1 L1225.2,569.2 L1226.4,569.3 L1227.5,569.4 L1228.7,569.5 L1229.8,569.6 L1231.0,569.7 L1232.1,569.7 L1233.3,569.8 L1234.4,569.9 L1235.6,570.0 L1236.7,570.1 L1237.9,570.2 L1239.0,570.3 L1240.2,570.4 L1241.3,570.5 L1242.5,570.6 L1243.6,570.7 L1244.8,570.8 L1245.9,570.9 L1247.1,570.9 L1248.2,571.0 L1249.4,571.1 L1250.5,571.2 L1251.7,571.3 L1252.8,571.4 L1253.9,571.5 L1255.1,571.6 L1256.2,571.8 L1257.4,571.9 L1258.5,572.0 L1259.7,572.1 L1260.8,572.2 L1262.0,572.3 L1263.1,572.4 L1264.3,572.5 L1265.4,572.7 L1266.6,572.8 L1267.7,572.9 L1268.8,573.0 L1270.0,573.2 L1271.1,573.3 L1272.3,573.4 L1273.4,573.6 L1274.6,573.7 L1275.7,573.9 L1276.8,574.0 L1278.0,574.2 L1279.1,574.3 L1280.3,574.5 L1281.4,574.6 L1282.5,574.8 L1283.7,575.0 L1284.8,575.2 L1285.9,575.3 L1287.1,575.5 L1288.2,575.7 L1289.4,575.9 L1290.5,576.1 L1291.6,576.3 L1292.7,576.5 L1293.9,576.7 L1295.0,576.9 L1296.1,577.1 L1297.3,577.3 L1298.4,577.6 L1299.5,577.8 L1300.7,579.0 L1301.8,580.4 L1302.9,580.0 L1304.0,578.5 L1305.2,577.8 L1306.3,578.4 L1307.4,579.2 L1308.5,579.6 L1309.6,580.0 L1310.8,580.5 L1311.9,580.7 L1313.0,580.1 L1314.1,579.5 L1315.2,580.3 L1316.4,582.4 L1317.5,583.9 L1318.6,583.8 L1319.7,582.6 L1320.8,582.1 L1321.9,582.8 L1323.1,583.7 L1324.2,584.1 L1325.3,584.4 L1326.4,584.9 L1327.5,585.0 L1328.6,584.2 L1329.7,583.4 L1330.8,583.9 L1331.9,585.9 L1333.0,587.6 L1334.1,587.7 L1335.2,586.8 L1336.3,586.4 L1337.5,587.2 L1338.6,588.3 L1339.7,588.9 L1340.8,589.4 L1341.9,590.1 L1343.0,590.4 L1344.1,589.7 L1345.1,588.6 L1346.2,588.7 L1347.3,590.2 L1348.4,592.0 L1349.5,592.4 L1350.6,591.5 L1351.7,590.9 L1352.8,591.4 L1353.9,592.5 L1355.0,593.5 L1356.1,594.2 L1357.2,595.1 L1358.3,595.8 L1359.3,595.7 L1360.4,594.7 L1361.5,594.3 L1362.6,595.4 L1363.7,597.3 L1364.8,598.2 L1365.9,597.6 L1366.9,596.5 L1368.0,596.3 L1369.1,597.1 L1370.2,598.1 L1371.3,598.8 L1372.3,599.7 L1373.4,600.7 L1374.5,601.2 L1375.6,600.7 L1376.6,600.1 L1377.7,600.6 L1378.8,602.5 L1379.9,604.2 L1380.9,604.5 L1382.0,603.5 L1383.1,602.7 L1384.2,603.0 L1385.2,603.8 L1386.3,604.4 L1387.4,604.9 L1388.4,605.8 L1389.5,606.7 L1390.6,606.7 L1391.7,606.0 L1392.7,605.7 L1393.8,606.9 L1394.9,609.2 L1395.9,610.6 L1397.0,610.5 L1398.1,609.7 L1399.2,609.4 L1400.2,610.0 L1401.3,610.8 L1402.4,611.2 L1403.4,611.8 L1404.5,612.6 L1405.6,613.1 L1406.7,612.5 L1407.7,611.6 L1408.8,611.7 L1409.9,613.3 L1411.0,615.4 L1412.0,616.4 L1413.1,615.9 L1414.2,615.3 L1415.3,615.6 L1416.3,616.5 L1417.4,617.3 L1418.5,617.8 L1419.6,618.6 L1420.7,619.4 L1421.8,619.3 L1422.8,618.3 L1423.9,617.4 L1425.0,618.1 L1426.1,620.0 L1427.2,621.4 L1428.3,621.4 L1429.4,620.5 L1430.5,620.4 L1431.5,621.1 L1432.6,622.0 L1433.7,622.7 L1434.8,623.6 L1435.9,624.7 L1437.0,625.3 L1438.1,624.6 L1439.2,623.5 L1440.3,623.5 L1441.4,625.1 L1442.5,626.7 L1443.6,627.0 L1444.6,626.2 L1445.7,625.5 L1446.8,625.7 L1447.9,626.5 L1449.0,627.2 L1450.1,627.9 L1451.2,629.1 L1452.3,630.2 L1453.4,630.1 L1454.4,629.2 L1455.5,628.8 L1456.6,630.1 L1457.7,632.0 L1458.8,633.0 L1459.9,632.5 L1461.0,631.6 L1462.1,631.4 L1463.1,631.8 L1464.2,632.3 L1465.3,632.8 L1466.4,633.7 L1467.5,634.8 L1468.6,635.3 L1469.6,634.6 L1470.7,633.8 L1471.8,634.5 L1472.9,636.5 L1474.0,638.4 L1475.1,638.7 L1476.1,638.0 L1477.2,637.5 L1478.3,637.8 L1479.4,638.4 L1480.5,638.7 L1481.5,639.3 L1482.6,640.3 L1483.7,641.0 L1484.8,640.7 L1485.8,639.6 L1486.9,639.3 L1488.0,640.7 L1489.1,642.8 L1490.1,644.1 L1491.2,644.0 L1492.3,643.5 L1493.4,643.6 L1494.4,644.3 L1495.5,644.9 L1496.6,645.4 L1497.6,646.3 L1498.7,647.4 L1499.8,647.8 L1500.8,646.9 L1501.9,645.8 L1503.0,645.9 L1504.0,647.5 L1505.1,649.4 L1506.1,650.1 L1507.2,649.7 L1508.3,649.3 L1509.3,649.8 L1510.4,650.5 L1511.4,651.2 L1512.5,652.0 L1513.5,653.3 L1514.6,654.5 L1515.7,654.8 L1516.7,653.9 L1517.8,653.0 L1518.8,653.4 L1519.9,655.1 L1520.9,656.7 L1522.0,657.1 L1523.0,656.5 L1524.0,656.1 L1525.1,656.5 L1526.1,657.1 L1527.2,657.7 L1528.2,658.6 L1529.3,660.0 L1530.3,661.4 L1531.3,661.9 L1532.4,661.2 L1533.4,660.5 L1534.5,661.0 L1535.5,662.9 L1536.5,664.5 L1537.6,665.0 L1538.6,664.4 L1539.7,663.9 L1540.7,664.0 L1541.8,664.4 L1542.9,664.8 L1543.9,665.4 L1545.0,666.7 L1546.1,668.0 L1547.1,668.3 L1548.2,667.4 L1549.3,666.8 L1550.3,667.7 L1551.4,669.8 L1552.5,671.4 L1553.6,671.6 L1554.6,671.0 L1555.7,670.7 L1556.8,671.0 L1557.9,671.2 L1559.0,671.4 L1560.1,672.1 L1561.2,673.3 L1562.3,674.0 L1563.4,673.3 L1564.5,672.1 L1565.6,672.1 L1566.7,673.8 L1567.8,675.8 L1568.9,676.5 L1570.0,676.1 L1571.1,675.9 L1572.2,676.1 L1573.3,676.5 L1574.4,676.6 L1575.5,677.2 L1576.6,678.4 L1577.7,679.2 L1578.8,678.6 L1579.9,677.1 L1581.0,676.6 L1582.1,677.8 L1583.2,679.6 L1584.4,680.4 L1585.5,680.1 L1586.6,679.8 L1587.7,680.0 L1588.8,680.5 L1589.9,680.8 L1591.0,681.5 L1592.1,682.9 L1593.2,684.1 L1594.3,683.9 L1595.4,682.5 L1596.5,681.7 L1597.6,682.6 L1598.7,684.3 L1599.8,685.2 L1600.9,685.0 L1602.0,684.5 L1603.1,684.5 L1604.1,684.9 L1605.2,685.2 L1606.3,685.8 L1607.4,687.1 L1608.5,688.8 L1609.6,689.4 L1610.6,688.5 L1611.7,687.6 L1612.8,688.0 L1613.9,689.7 L1614.9,691.2 L1616.0,691.5 L1617.1,691.0 L1618.1,690.7 L1619.2,690.9 L1620.3,691.0 L1621.3,691.2 L1622.4,692.0 L1623.4,693.5 L1624.5,694.9 L1625.5,695.1 L1626.6,694.3 L1627.6,693.7 L1628.7,694.7 L1629.7,696.7 L1630.8,698.3 L1631.8,698.7 L1632.8,698.4 L1633.9,698.4 L1634.9,698.6 L1635.9,698.8 L1637.0,698.8 L1638.0,699.5 L1639.0,700.9 L1640.1,702.2 L1641.1,702.5 L1642.1,701.6 L1643.1,700.9 L1644.2,701.6 L1645.2,703.5 L1646.2,705.3 L1647.2,706.2 L1648.3,706.2 L1649.3,706.3 L1650.3,706.7 L1651.3,707.1 L1652.3,707.3 L1653.4,707.8 L1654.4,709.1 L1655.4,710.5 L1656.4,711.1 L1657.5,710.4 L1658.5,709.3 L1659.5,709.3 L1660.5,710.7 L1661.5,712.5 L1662.6,713.6 L1663.6,713.8 L1664.6,713.9 L1665.6,714.3 L1666.7,714.8 L1667.7,715.2 L1668.7,715.7 L1669.7,716.9 L1670.8,718.6 L1671.8,719.7 L1672.8,719.4 L1673.8,718.2 L1674.9,717.7 L1675.9,718.7 L1676.9,720.4 L1678.0,721.5 L1679.0,721.7 L1680.0,721.6 L1681.1,721.8 L1682.1,722.2 L1683.1,722.4 L1684.1,722.8 L1685.2,723.9 L1686.2,725.7 L1687.2,727.2 L1688.3,727.4 L1689.3,726.4 L1690.4,725.8 L1691.4,726.6 L1692.4,728.3 L1693.5,729.6 L1694.5,729.8 L1695.5,729.6 L1696.6,729.5 L1697.6,729.7 L1698.7,729.7 L1699.7,729.7 L1700.8,730.6 L1701.8,732.3 L1702.9,733.8 L1703.9,734.0 L1705.0,733.0 L1706.0,732.5 L1707.1,733.5 L1708.2,735.3 L1709.3,736.7 L1710.3,736.9 L1711.4,736.7 L1712.5,736.7 L1713.6,736.7 L1714.7,736.4 L1715.9,736.4 L1717.0,737.5 L1718.1,738.2 L1719.2,738.4 L1720.4,738.5 L1721.5,738.5 L1722.7,738.4 L1723.8,738.2 L1725.0,737.9 L1726.1,737.4 L1727.1,736.9 L1728.1,736.3 L1729.0,735.5 L1729.8,734.7 L1730.5,733.8 L1731.1,732.9 L1731.7,731.9 L1732.2,730.8 L1732.7,729.7 L1733.1,728.6 L1733.5,727.5 L1733.9,726.4 L1734.2,725.3 L1734.6,724.2 L1735.0,723.1 L1735.4,722.0 L1735.7,720.9 L1736.1,719.8 L1736.5,718.7 L1736.8,717.6 L1737.2,716.5 L1737.5,715.5 L1737.8,714.4 L1738.2,713.3 L1738.5,712.2 L1738.8,711.1 L1739.1,710.0 L1739.4,708.9 L1739.7,707.8 L1739.9,706.7 L1740.2,705.5 L1740.5,704.4 L1740.7,703.3 L1741.0,702.2 L1741.2,701.1 L1741.5,699.9 L1741.7,698.8 L1742.0,697.7 L1742.2,696.6 L1742.5,695.4 L1742.7,694.3 L1743.0,693.2 L1743.2,692.0 L1743.4,690.9 L1743.7,689.8 L1743.9,688.6 L1744.1,687.5 L1744.4,686.4 L1744.6,685.2 L1744.9,684.1 L1745.1,683.0 L1745.4,681.9 L1745.6,680.7 L1745.9,679.6 L1746.2,678.5 L1746.4,677.3 L1746.7,676.2 L1747.0,675.1 L1747.3,674.0 L1747.5,672.9 L1747.8,671.7 L1748.1,670.6 L1748.4,669.5 L1748.7,668.4 L1749.0,667.3 L1749.3,666.2 L1749.7,665.1 L1750.0,664.0 L1750.3,662.9 L1750.6,661.7 L1750.9,660.6 L1751.2,659.5 L1751.5,658.4 L1751.8,657.3 L1752.1,656.2 L1752.5,655.1 L1752.8,654.0 L1753.1,652.9 L1753.4,651.8 L1753.7,650.7 L1754.0,649.5 L1754.2,648.4 L1754.5,647.3 L1754.8,646.2 L1755.1,645.1 L1755.4,644.0 L1755.6,642.8 L1755.9,641.7 L1756.1,640.6 L1756.4,639.5 L1756.6,638.4 L1756.8,637.2 L1757.1,636.1 L1757.3,635.0 L1757.5,633.8 L1757.7,632.7 L1757.9,631.6 L1758.1,630.4 L1758.3,629.3 L1758.5,628.2 L1758.7,627.0 L1758.9,625.9 L1759.1,624.8 L1759.3,623.6 L1759.5,622.5 L1759.7,621.4 L1759.9,620.2 L1760.2,619.1 L1760.4,618.0 L1760.7,616.9 L1761.0,615.8 L1761.2,614.6 L1761.5,613.5 L1761.8,612.4 L1762.1,611.3 L1762.4,610.2 L1762.7,609.1 L1763.0,608.0 L1763.3,606.8 L1763.6,605.7 L1763.9,604.6 L1764.2,603.5 L1764.5,602.4 L1764.8,601.3 L1765.1,600.2 L1765.4,599.1 L1765.7,597.9 L1765.9,596.8 L1766.2,595.7 L1766.5,594.6 L1766.8,593.5 L1767.0,592.3 L1767.2,591.2 L1767.5,590.1 L1767.7,589.0 L1767.9,587.8 L1768.1,586.7 L1768.3,585.6 L1768.5,584.4 L1768.7,583.3 L1768.8,582.1 L1769.0,581.0 L1769.1,579.8 L1769.2,578.7 L1769.4,577.6 L1769.5,576.4 L1769.6,575.3 L1769.7,574.1 L1769.7,573.0 L1769.8,571.8 L1769.9,570.7 L1769.9,569.5 L1770.0,568.4 L1770.0,567.2 L1770.0,566.0 L1770.0,564.9 L1770.1,563.7 L1770.1,562.6 L1770.1,561.4 L1770.0,560.3 L1770.0,559.1 L1770.0,558.0 L1770.0,556.8 L1770.0,555.7 L1769.9,554.5 L1769.9,553.4 L1769.9,552.2 L1769.9,551.1 L1769.8,549.9 L1769.8,548.8 L1769.8,547.6 L1769.8,546.5 L1769.7,545.3 L1769.7,544.2 L1769.7,543.0 L1769.7,541.9 L1769.7,540.7 L1769.7,539.6 L1769.7,538.4 L1769.7,537.3 L1769.7,536.1 L1769.7,535.0 L1769.7,533.8 L1769.8,532.7 L1769.8,531.5 L1769.8,530.4 L1769.8,529.2 L1769.8,528.1 L1769.9,526.9 L1769.9,525.8 L1769.9,524.6 L1769.9,523.5 L1769.9,522.3 L1770.0,521.2 L1770.0,520.0" fill="none" stroke="#27aab4" stroke-width="7" stroke-linejoin="round"/>
<path d="M1177.1,565.1 L1178.0,565.2 L1178.9,565.3 L1179.7,565.4 L1180.6,565.4 L1181.5,565.5 L1182.4,565.6 L1183.2,565.7 L1184.1,565.8 L1185.0,565.9 L1185.9,566.0 L1186.7,566.1 L1187.6,566.1 L1188.5,566.2 L1189.4,566.3 L1190.2,566.4 L1191.1,566.5 L1192.0,566.6 L1192.9,566.7 L1193.8,566.7 L1194.6,566.8 L1195.5,566.9 L1196.4,567.0 L1197.3,567.1 L1198.1,567.2 L1199.0,567.3 L1199.9,567.4 L1200.8,567.4 L1201.6,567.5 L1202.5,567.6 L1203.4,567.7 L1204.3,567.8 L1205.1,567.9 L1206.0,568.0 L1206.9,568.1 L1207.8,568.1 L1208.7,568.2 L1209.5,568.3 L1210.4,568.4 L1211.3,568.5 L1212.2,568.6 L1213.0,568.7 L1213.9,568.8 L1214.8,568.9 L1215.7,568.9 L1216.6,569.0 L1217.4,569.1 L1218.3,569.2 L1219.2,569.3 L1220.1,569.4 L1220.9,569.5 L1221.8,569.6 L1222.7,569.7 L1223.6,569.7 L1224.4,569.8 L1225.3,569.9 L1226.2,570.0 L1227.1,570.1 L1228.0,570.2 L1228.8,570.3 L1229.7,570.4 L1230.6,570.5 L1231.5,570.6 L1232.3,570.7 L1233.2,570.8 L1234.1,570.8 L1235.0,570.9 L1235.9,571.0 L1236.7,571.1 L1237.6,571.2 L1238.5,571.3 L1239.4,571.4 L1240.2,571.5 L1241.1,571.6 L1242.0,571.7 L1242.9,571.8 L1243.8,571.9 L1244.6,572.0 L1245.5,572.1 L1246.4,572.2 L1247.3,572.3 L1248.1,572.4 L1249.0,572.5 L1249.9,572.6 L1250.8,572.7 L1251.6,572.9 L1252.5,573.0 L1253.4,573.1 L1254.3,573.2 L1255.1,573.3 L1256.0,573.4 L1256.9,573.5 L1257.8,573.6 L1258.6,573.8 L1259.5,573.9 L1260.4,574.0 L1261.3,574.1 L1262.1,574.2 L1263.0,574.4 L1263.9,574.5 L1264.7,574.6 L1265.6,574.8 L1266.5,574.9 L1267.4,575.0 L1268.2,575.1 L1269.1,575.3 L1270.0,575.4 L1270.8,575.6 L1271.7,575.7 L1272.6,575.8 L1273.5,576.0 L1274.3,576.1 L1275.2,576.3 L1276.1,576.4 L1276.9,576.6 L1277.8,576.7 L1278.7,576.9 L1279.5,577.0 L1280.4,577.2 L1281.3,577.4 L1282.1,577.5 L1283.0,577.7 L1283.8,577.8 L1284.7,578.0 L1285.6,578.2 L1286.4,578.4 L1287.3,578.5 L1288.2,578.7 L1289.0,578.9 L1289.9,579.1 L1290.7,579.3 L1291.6,579.4 L1292.5,579.6 L1293.3,579.8 L1294.2,580.0 L1295.0,580.2 L1295.9,580.4 L1296.8,580.6 L1297.6,580.8 L1298.5,581.0 L1299.3,581.2 L1300.2,581.7 L1301.0,582.3 L1301.9,582.9 L1302.8,583.2 L1303.6,583.3 L1304.5,583.0 L1305.3,582.6 L1306.2,582.3 L1307.0,582.3 L1307.9,582.5 L1308.7,583.0 L1309.6,583.6 L1310.4,584.1 L1311.3,584.4 L1312.1,584.5 L1313.0,584.4 L1313.8,584.2 L1314.7,584.3 L1315.5,584.7 L1316.4,585.3 L1317.2,586.1 L1318.1,587.0 L1318.9,587.6 L1319.8,587.9 L1320.6,587.9 L1321.5,587.7 L1322.3,587.5 L1323.1,587.5 L1324.0,587.7 L1324.8,588.2 L1325.7,588.8 L1326.5,589.2 L1327.4,589.5 L1328.2,589.5 L1329.1,589.3 L1329.9,589.0 L1330.7,588.8 L1331.6,588.9 L1332.4,589.4 L1333.3,590.1 L1334.1,590.9 L1335.0,591.6 L1335.8,592.0 L1336.6,592.2 L1337.5,592.3 L1338.3,592.2 L1339.2,592.3 L1340.0,592.7 L1340.8,593.3 L1341.7,594.0 L1342.5,594.7 L1343.4,595.2 L1344.2,595.4 L1345.1,595.3 L1345.9,595.0 L1346.7,594.7 L1347.6,594.6 L1348.4,594.8 L1349.2,595.2 L1350.1,595.8 L1350.9,596.4 L1351.8,596.8 L1352.6,597.0 L1353.4,596.9 L1354.3,596.8 L1355.1,596.8 L1355.9,597.1 L1356.8,597.6 L1357.6,598.4 L1358.5,599.3 L1359.3,600.0 L1360.1,600.6 L1361.0,600.8 L1361.8,600.8 L1362.6,600.7 L1363.5,600.6 L1364.3,600.7 L1365.1,601.1 L1366.0,601.7 L1366.8,602.3 L1367.6,602.7 L1368.5,602.9 L1369.3,602.9 L1370.1,602.6 L1371.0,602.4 L1371.8,602.3 L1372.6,602.5 L1373.4,603.0 L1374.3,603.7 L1375.1,604.5 L1375.9,605.2 L1376.8,605.7 L1377.6,605.9 L1378.4,605.9 L1379.2,605.9 L1380.1,606.1 L1380.9,606.5 L1381.7,607.2 L1382.6,608.0 L1383.4,608.7 L1384.2,609.3 L1385.0,609.5 L1385.9,609.5 L1386.7,609.3 L1387.5,609.0 L1388.3,609.0 L1389.2,609.1 L1390.0,609.6 L1390.8,610.2 L1391.6,610.8 L1392.4,611.3 L1393.3,611.5 L1394.1,611.5 L1394.9,611.5 L1395.7,611.4 L1396.5,611.6 L1397.4,612.1 L1398.2,612.9 L1399.0,613.7 L1399.8,614.6 L1400.6,615.3 L1401.4,615.7 L1402.3,615.9 L1403.1,615.9 L1403.9,615.8 L1404.7,615.9 L1405.5,616.3 L1406.3,616.8 L1407.2,617.5 L1408.0,618.1 L1408.8,618.5 L1409.6,618.6 L1410.4,618.6 L1411.2,618.3 L1412.1,618.1 L1412.9,618.2 L1413.7,618.5 L1414.5,619.1 L1415.3,619.8 L1416.1,620.6 L1417.0,621.2 L1417.8,621.7 L1418.6,621.8 L1419.4,621.9 L1420.2,622.0 L1421.0,622.2 L1421.8,622.7 L1422.7,623.5 L1423.5,624.3 L1424.3,625.1 L1425.1,625.7 L1425.9,625.9 L1426.7,625.9 L1427.6,625.8 L1428.4,625.6 L1429.2,625.5 L1430.0,625.8 L1430.8,626.2 L1431.6,626.8 L1432.5,627.4 L1433.3,627.9 L1434.1,628.1 L1434.9,628.1 L1435.7,628.0 L1436.6,627.9 L1437.4,628.1 L1438.2,628.6 L1439.0,629.3 L1439.9,630.2 L1440.7,631.0 L1441.5,631.7 L1442.3,632.1 L1443.1,632.2 L1444.0,632.2 L1444.8,632.2 L1445.6,632.3 L1446.4,632.7 L1447.3,633.2 L1448.1,633.9 L1448.9,634.4 L1449.7,634.8 L1450.6,634.9 L1451.4,634.7 L1452.2,634.4 L1453.1,634.2 L1453.9,634.2 L1454.7,634.5 L1455.6,635.1 L1456.4,635.8 L1457.2,636.5 L1458.1,637.0 L1458.9,637.3 L1459.7,637.3 L1460.6,637.3 L1461.4,637.4 L1462.2,637.7 L1463.1,638.2 L1463.9,639.0 L1464.7,639.8 L1465.6,640.5 L1466.4,640.9 L1467.2,641.0 L1468.1,640.8 L1468.9,640.6 L1469.8,640.4 L1470.6,640.5 L1471.4,640.8 L1472.3,641.3 L1473.1,641.9 L1474.0,642.3 L1474.8,642.5 L1475.6,642.5 L1476.5,642.3 L1477.3,642.1 L1478.2,642.2 L1479.0,642.6 L1479.9,643.2 L1480.7,644.0 L1481.5,644.9 L1482.4,645.5 L1483.2,645.9 L1484.1,645.9 L1484.9,645.9 L1485.8,645.9 L1486.6,646.0 L1487.5,646.4 L1488.3,647.0 L1489.1,647.7 L1490.0,648.2 L1490.8,648.5 L1491.6,648.5 L1492.5,648.3 L1493.3,648.0 L1494.1,647.8 L1495.0,647.9 L1495.8,648.3 L1496.6,648.9 L1497.4,649.7 L1498.3,650.3 L1499.1,650.8 L1499.9,651.0 L1500.7,651.1 L1501.5,651.2 L1502.3,651.4 L1503.1,651.8 L1503.9,652.4 L1504.7,653.3 L1505.5,654.2 L1506.3,655.0 L1507.0,655.6 L1507.8,656.0 L1508.6,656.1 L1509.4,656.1 L1510.1,656.1 L1510.9,656.2 L1511.6,656.6 L1512.4,657.2 L1513.1,657.9 L1513.9,658.6 L1514.6,659.2 L1515.3,659.7 L1516.1,659.9 L1516.9,660.0 L1517.6,660.0 L1518.4,660.0 L1519.2,660.3 L1519.9,660.8 L1520.7,661.5 L1521.5,662.4 L1522.3,663.3 L1523.2,664.0 L1524.0,664.4 L1524.9,664.5 L1525.7,664.2 L1526.6,664.4 L1527.5,664.6 L1528.5,664.7 L1529.4,664.8 L1530.3,664.9 L1531.2,664.9 L1532.1,664.9 L1533.0,664.8 L1533.8,664.6 L1534.6,664.3 L1535.4,664.0 L1536.1,663.7 L1536.7,663.2 L1537.3,662.7 L1537.9,662.1 L1538.4,661.5 L1538.9,660.8 L1539.3,660.1 L1539.8,659.3 L1540.1,658.5 L1540.5,657.7 L1540.9,656.8 L1541.2,656.0 L1541.5,655.0 L1541.8,654.1 L1542.1,653.2 L1542.4,652.2 L1542.7,651.3 L1543.0,650.3 L1543.2,649.4 L1543.5,648.4 L1543.8,647.5 L1544.1,646.6 L1544.5,645.7 L1544.8,644.8 L1545.2,643.9 L1545.5,643.1 L1545.9,642.3 L1546.3,641.4 L1546.7,640.6 L1547.1,639.8 L1547.5,639.1 L1547.9,638.3 L1548.3,637.5 L1548.8,636.8 L1549.2,636.0 L1549.7,635.3 L1550.1,634.5 L1550.5,633.8 L1551.0,633.1 L1551.4,632.4 L1551.9,631.6 L1552.4,630.9 L1552.8,630.2 L1553.3,629.4 L1553.7,628.7 L1554.2,628.0 L1554.6,627.2 L1555.1,626.5 L1555.5,625.7 L1555.9,625.0 L1556.4,624.2 L1556.8,623.5 L1557.2,622.7 L1557.7,621.9 L1558.1,621.1 L1558.5,620.4 L1558.9,619.6 L1559.3,618.8 L1559.7,618.0 L1560.1,617.2 L1560.5,616.4 L1560.9,615.6 L1561.2,614.8 L1561.6,614.0 L1562.0,613.2 L1562.3,612.4 L1562.7,611.6 L1563.0,610.7 L1563.4,609.9 L1563.7,609.1 L1564.0,608.3 L1564.3,607.4 L1564.6,606.6 L1564.9,605.8 L1565.2,605.0 L1565.5,604.1 L1565.8,603.3 L1566.1,602.4 L1566.3,601.6 L1566.6,600.8 L1566.9,599.9 L1567.1,599.1 L1567.4,598.2 L1567.6,597.4 L1567.9,596.6 L1568.1,595.7 L1568.4,594.9 L1568.6,594.0 L1568.8,593.2 L1569.1,592.3 L1569.3,591.5 L1569.5,590.6 L1569.8,589.8 L1570.0,588.9 L1570.2,588.1 L1570.4,587.2 L1570.7,586.3 L1570.9,585.5 L1571.1,584.6 L1571.3,583.8 L1571.5,582.9 L1571.8,582.1 L1572.0,581.2 L1572.2,580.4 L1572.4,579.5 L1572.6,578.7 L1572.9,577.8 L1573.1,577.0 L1573.3,576.1 L1573.6,575.3 L1573.8,574.4 L1574.0,573.6 L1574.2,572.7 L1574.5,571.9 L1574.7,571.0 L1574.9,570.2 L1575.2,569.3 L1575.4,568.5 L1575.6,567.6 L1575.9,566.8 L1576.1,565.9 L1576.3,565.1 L1576.5,564.2 L1576.8,563.4 L1577.0,562.5 L1577.2,561.7 L1577.5,560.8 L1577.7,560.0 L1577.9,559.1 L1578.1,558.2 L1578.4,557.4 L1578.6,556.5 L1578.8,555.7 L1579.0,554.8 L1579.2,554.0 L1579.4,553.1 L1579.7,552.3 L1579.9,551.4 L1580.1,550.5 L1580.3,549.7 L1580.5,548.8 L1580.7,548.0 L1580.8,547.1 L1581.0,546.2 L1581.2,545.4 L1581.4,544.5 L1581.6,543.6 L1581.7,542.8 L1581.9,541.9 L1582.0,541.0 L1582.2,540.2 L1582.3,539.3 L1582.5,538.4 L1582.6,537.6 L1582.7,536.7 L1582.8,535.8 L1583.0,534.9 L1583.1,534.1 L1583.2,533.2 L1583.2,532.3 L1583.3,531.4 L1583.4,530.6 L1583.5,529.7 L1583.5,528.8 L1583.6,527.9 L1583.7,527.0 L1583.7,526.2 L1583.8,525.3 L1583.8,524.4 L1583.8,523.5 L1583.9,522.6 L1583.9,521.8 L1584.0,520.9 L1584.0,520.0" fill="none" stroke="#94e4ee" stroke-width="7" stroke-linejoin="round"/>
</g>
<rect x="1157" y="525.3" width="741.7" height="319" fill="none" stroke="#262626" stroke-width="4"/>
<path d="M1156.5,844.3 V839.3 M1156.5,525.3 V530.3 M1167.4,844.3 V839.3 M1167.4,525.3 V530.3 M1177.1,844.3 V835.8 M1177.1,525.3 V533.8 M1241.0,844.3 V839.3 M1241.0,525.3 V530.3 M1278.4,844.3 V839.3 M1278.4,525.3 V530.3 M1304.9,844.3 V839.3 M1304.9,525.3 V530.3 M1325.5,844.3 V839.3 M1325.5,525.3 V530.3 M1342.3,844.3 V839.3 M1342.3,525.3 V530.3 M1356.5,844.3 V839.3 M1356.5,525.3 V530.3 M1368.8,844.3 V839.3 M1368.8,525.3 V530.3 M1379.7,844.3 V839.3 M1379.7,525.3 V530.3 M1389.4,844.3 V835.8 M1389.4,525.3 V533.8 M1453.3,844.3 V839.3 M1453.3,525.3 V530.3 M1490.7,844.3 V839.3 M1490.7,525.3 V530.3 M1517.2,844.3 V839.3 M1517.2,525.3 V530.3 M1537.8,844.3 V839.3 M1537.8,525.3 V530.3 M1554.6,844.3 V839.3 M1554.6,525.3 V530.3 M1568.8,844.3 V839.3 M1568.8,525.3 V530.3 M1581.1,844.3 V839.3 M1581.1,525.3 V530.3 M1592.0,844.3 V839.3 M1592.0,525.3 V530.3 M1601.7,844.3 V835.8 M1601.7,525.3 V533.8 M1665.6,844.3 V839.3 M1665.6,525.3 V530.3 M1703.0,844.3 V839.3 M1703.0,525.3 V530.3 M1729.5,844.3 V839.3 M1729.5,525.3 V530.3 M1750.1,844.3 V839.3 M1750.1,525.3 V530.3 M1766.9,844.3 V839.3 M1766.9,525.3 V530.3 M1781.1,844.3 V839.3 M1781.1,525.3 V530.3 M1793.4,844.3 V839.3 M1793.4,525.3 V530.3 M1804.3,844.3 V839.3 M1804.3,525.3 V530.3 M1814.0,844.3 V835.8 M1814.0,525.3 V533.8 M1877.9,844.3 V839.3 M1877.9,525.3 V530.3 M1157,844.3 H1165.5 M1898.7,844.3 H1890.2 M1157,825.1 H1162.0 M1898.7,825.1 H1893.7 M1157,813.9 H1162.0 M1898.7,813.9 H1893.7 M1157,805.9 H1162.0 M1898.7,805.9 H1893.7 M1157,799.7 H1162.0 M1898.7,799.7 H1893.7 M1157,794.7 H1162.0 M1898.7,794.7 H1893.7 M1157,790.4 H1162.0 M1898.7,790.4 H1893.7 M1157,786.7 H1162.0 M1898.7,786.7 H1893.7 M1157,783.4 H1162.0 M1898.7,783.4 H1893.7 M1157,780.5 H1165.5 M1898.7,780.5 H1890.2 M1157,761.3 H1162.0 M1898.7,761.3 H1893.7 M1157,750.1 H1162.0 M1898.7,750.1 H1893.7 M1157,742.1 H1162.0 M1898.7,742.1 H1893.7 M1157,735.9 H1162.0 M1898.7,735.9 H1893.7 M1157,730.9 H1162.0 M1898.7,730.9 H1893.7 M1157,726.6 H1162.0 M1898.7,726.6 H1893.7 M1157,722.9 H1162.0 M1898.7,722.9 H1893.7 M1157,719.6 H1162.0 M1898.7,719.6 H1893.7 M1157,716.7 H1165.5 M1898.7,716.7 H1890.2 M1157,697.5 H1162.0 M1898.7,697.5 H1893.7 M1157,686.3 H1162.0 M1898.7,686.3 H1893.7 M1157,678.3 H1162.0 M1898.7,678.3 H1893.7 M1157,672.1 H1162.0 M1898.7,672.1 H1893.7 M1157,667.1 H1162.0 M1898.7,667.1 H1893.7 M1157,662.8 H1162.0 M1898.7,662.8 H1893.7 M1157,659.1 H1162.0 M1898.7,659.1 H1893.7 M1157,655.8 H1162.0 M1898.7,655.8 H1893.7 M1157,652.9 H1165.5 M1898.7,652.9 H1890.2 M1157,633.7 H1162.0 M1898.7,633.7 H1893.7 M1157,622.5 H1162.0 M1898.7,622.5 H1893.7 M1157,614.5 H1162.0 M1898.7,614.5 H1893.7 M1157,608.3 H1162.0 M1898.7,608.3 H1893.7 M1157,603.3 H1162.0 M1898.7,603.3 H1893.7 M1157,599.0 H1162.0 M1898.7,599.0 H1893.7 M1157,595.3 H1162.0 M1898.7,595.3 H1893.7 M1157,592.0 H1162.0 M1898.7,592.0 H1893.7 M1157,589.1 H1165.5 M1898.7,589.1 H1890.2 M1157,569.9 H1162.0 M1898.7,569.9 H1893.7 M1157,558.7 H1162.0 M1898.7,558.7 H1893.7 M1157,550.7 H1162.0 M1898.7,550.7 H1893.7 M1157,544.5 H1162.0 M1898.7,544.5 H1893.7 M1157,539.5 H1162.0 M1898.7,539.5 H1893.7 M1157,535.2 H1162.0 M1898.7,535.2 H1893.7 M1157,531.5 H1162.0 M1898.7,531.5 H1893.7 M1157,528.2 H1162.0 M1898.7,528.2 H1893.7 M1157,525.3 H1165.5 M1898.7,525.3 H1890.2" stroke="#262626" stroke-width="3.5" fill="none"/>
<text transform="translate(1145.0,540.5) scale(1,1.085)" font-size="29.5" text-anchor="end" fill="#262626">10<tspan dy="-11.7" font-size="22">0</tspan></text>
<text transform="translate(1145.0,668.1) scale(1,1.085)" font-size="29.5" text-anchor="end" fill="#262626">10<tspan dy="-11.7" font-size="22">-2</tspan></text>
<text transform="translate(1145.0,795.7) scale(1,1.085)" font-size="29.5" text-anchor="end" fill="#262626">10<tspan dy="-11.7" font-size="22">-4</tspan></text>
<text transform="translate(1177.1,890.5) scale(1,1.085)" font-size="29.5" text-anchor="middle" fill="#262626">10<tspan dy="-12.2" font-size="22">0</tspan></text>
<text transform="translate(1389.4,890.5) scale(1,1.085)" font-size="29.5" text-anchor="middle" fill="#262626">10<tspan dy="-12.2" font-size="22">1</tspan></text>
<text transform="translate(1601.7,890.5) scale(1,1.085)" font-size="29.5" text-anchor="middle" fill="#262626">10<tspan dy="-12.2" font-size="22">2</tspan></text>
<text transform="translate(1814.0,890.5) scale(1,1.085)" font-size="29.5" text-anchor="middle" fill="#262626">10<tspan dy="-12.2" font-size="22">3</tspan></text>
<text x="1393.6" y="934.3" font-size="31.4" fill="#111" textLength="267" lengthAdjust="spacingAndGlyphs">Evolution Time (ns)</text>
<text transform="translate(1076.9,768.6) rotate(-90)" font-size="31" fill="#262626" textLength="158.8" lengthAdjust="spacingAndGlyphs">Energy (eV)</text>
<text x="1053.6" y="531" font-size="35" font-weight="bold" fill="#000">g</text>
<path d="M1184,660 H1258" stroke="#a8152b" stroke-width="6.4"/>
<path d="M1184,706.9 H1258" stroke="#fd5454" stroke-width="6.4"/>
<path d="M1184,753.2 H1258" stroke="#f2a280" stroke-width="6.4"/>
<path d="M1184,801 H1258" stroke="#086e8e" stroke-width="5.6" stroke-dasharray="3.9 3.45"/>
<path d="M1348.7,706.9 H1420.5" stroke="#086e8e" stroke-width="6.4"/>
<path d="M1348.7,753.2 H1420.5" stroke="#35add0" stroke-width="6.4"/>
<path d="M1348.7,801 H1420.5" stroke="#a4e8f2" stroke-width="6.4"/>
<text x="1266.4" y="667.5" font-size="26.8" fill="#111" textLength="20.2" lengthAdjust="spacingAndGlyphs">U</text>
<text x="1285.3" y="673.7" font-size="21.5" fill="#111" textLength="13.6" lengthAdjust="spacingAndGlyphs">ff</text>
<text x="1266.4" y="713.6" font-size="26.8" fill="#111" textLength="20.2" lengthAdjust="spacingAndGlyphs">U</text>
<text x="1285.3" y="719.8" font-size="21.5" fill="#111" textLength="25.6" lengthAdjust="spacingAndGlyphs">5V</text>
<text x="1266.4" y="760.5" font-size="26.8" fill="#111" textLength="20.2" lengthAdjust="spacingAndGlyphs">U</text>
<text x="1285.3" y="766.7" font-size="21.5" fill="#111" textLength="50.5" lengthAdjust="spacingAndGlyphs">300V</text>
<text x="1265.7" y="806.5" font-size="26.8" fill="#111" textLength="14.9" lengthAdjust="spacingAndGlyphs">E</text>
<text x="1280.7" y="812.7" font-size="21.5" fill="#111" textLength="55.5" lengthAdjust="spacingAndGlyphs">kin,th</text>
<text x="1429.0" y="713.6" font-size="26.8" fill="#111" textLength="14.9" lengthAdjust="spacingAndGlyphs">E</text>
<text x="1444.0" y="719.8" font-size="21.5" fill="#111" textLength="51.3" lengthAdjust="spacingAndGlyphs">kin,ff</text>
<text x="1429.0" y="760.5" font-size="26.8" fill="#111" textLength="14.9" lengthAdjust="spacingAndGlyphs">E</text>
<text x="1444.0" y="766.7" font-size="21.5" fill="#111" textLength="62.5" lengthAdjust="spacingAndGlyphs">kin,5V</text>
<text x="1429.0" y="806.5" font-size="26.8" fill="#111" textLength="14.9" lengthAdjust="spacingAndGlyphs">E</text>
<text x="1444.0" y="812.7" font-size="21.5" fill="#111" textLength="87.3" lengthAdjust="spacingAndGlyphs">kin,300V</text>
</svg></body></html>
